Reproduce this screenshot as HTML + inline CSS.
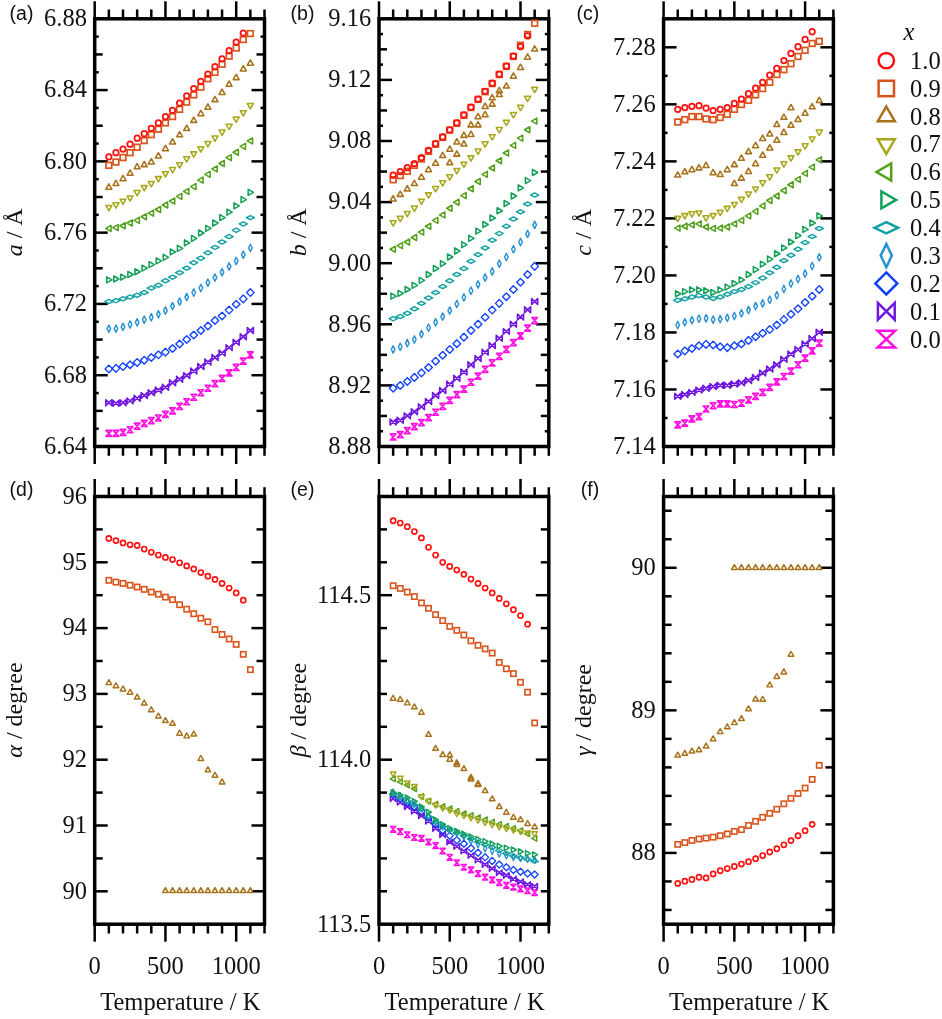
<!DOCTYPE html>
<html><head><meta charset="utf-8"><style>
html,body{margin:0;padding:0;background:#fff;overflow:hidden;}
svg{display:block;filter:blur(0.35px);}
.tk{stroke:#000;stroke-width:2.5;}
.fr{fill:none;stroke:#000;stroke-width:3.5;}
.tl{font-family:"Liberation Serif",serif;font-size:24.5px;fill:#111;}
.at{font-family:"Liberation Serif",serif;font-size:24.5px;fill:#111;}
.pl{font-family:"Liberation Sans",sans-serif;font-size:19.5px;fill:#111;}
</style></head><body>
<svg width="942" height="1019" viewBox="0 0 942 1019">
<line x1="94.70" y1="375.22" x2="107.70" y2="375.22" class="tk"/>
<line x1="264.50" y1="375.22" x2="251.50" y2="375.22" class="tk"/>
<line x1="94.70" y1="303.93" x2="107.70" y2="303.93" class="tk"/>
<line x1="264.50" y1="303.93" x2="251.50" y2="303.93" class="tk"/>
<line x1="94.70" y1="232.65" x2="107.70" y2="232.65" class="tk"/>
<line x1="264.50" y1="232.65" x2="251.50" y2="232.65" class="tk"/>
<line x1="94.70" y1="161.37" x2="107.70" y2="161.37" class="tk"/>
<line x1="264.50" y1="161.37" x2="251.50" y2="161.37" class="tk"/>
<line x1="94.70" y1="90.08" x2="107.70" y2="90.08" class="tk"/>
<line x1="264.50" y1="90.08" x2="251.50" y2="90.08" class="tk"/>
<line x1="94.70" y1="410.86" x2="102.70" y2="410.86" class="tk"/>
<line x1="264.50" y1="410.86" x2="256.50" y2="410.86" class="tk"/>
<line x1="94.70" y1="339.57" x2="102.70" y2="339.57" class="tk"/>
<line x1="264.50" y1="339.57" x2="256.50" y2="339.57" class="tk"/>
<line x1="94.70" y1="268.29" x2="102.70" y2="268.29" class="tk"/>
<line x1="264.50" y1="268.29" x2="256.50" y2="268.29" class="tk"/>
<line x1="94.70" y1="197.01" x2="102.70" y2="197.01" class="tk"/>
<line x1="264.50" y1="197.01" x2="256.50" y2="197.01" class="tk"/>
<line x1="94.70" y1="125.72" x2="102.70" y2="125.72" class="tk"/>
<line x1="264.50" y1="125.72" x2="256.50" y2="125.72" class="tk"/>
<line x1="94.70" y1="54.44" x2="102.70" y2="54.44" class="tk"/>
<line x1="264.50" y1="54.44" x2="256.50" y2="54.44" class="tk"/>
<line x1="94.70" y1="428.68" x2="98.70" y2="428.68" class="tk"/>
<line x1="264.50" y1="428.68" x2="260.50" y2="428.68" class="tk"/>
<line x1="94.70" y1="393.04" x2="98.70" y2="393.04" class="tk"/>
<line x1="264.50" y1="393.04" x2="260.50" y2="393.04" class="tk"/>
<line x1="94.70" y1="357.40" x2="98.70" y2="357.40" class="tk"/>
<line x1="264.50" y1="357.40" x2="260.50" y2="357.40" class="tk"/>
<line x1="94.70" y1="321.75" x2="98.70" y2="321.75" class="tk"/>
<line x1="264.50" y1="321.75" x2="260.50" y2="321.75" class="tk"/>
<line x1="94.70" y1="286.11" x2="98.70" y2="286.11" class="tk"/>
<line x1="264.50" y1="286.11" x2="260.50" y2="286.11" class="tk"/>
<line x1="94.70" y1="250.47" x2="98.70" y2="250.47" class="tk"/>
<line x1="264.50" y1="250.47" x2="260.50" y2="250.47" class="tk"/>
<line x1="94.70" y1="214.83" x2="98.70" y2="214.83" class="tk"/>
<line x1="264.50" y1="214.83" x2="260.50" y2="214.83" class="tk"/>
<line x1="94.70" y1="179.19" x2="98.70" y2="179.19" class="tk"/>
<line x1="264.50" y1="179.19" x2="260.50" y2="179.19" class="tk"/>
<line x1="94.70" y1="143.55" x2="98.70" y2="143.55" class="tk"/>
<line x1="264.50" y1="143.55" x2="260.50" y2="143.55" class="tk"/>
<line x1="94.70" y1="107.90" x2="98.70" y2="107.90" class="tk"/>
<line x1="264.50" y1="107.90" x2="260.50" y2="107.90" class="tk"/>
<line x1="94.70" y1="72.26" x2="98.70" y2="72.26" class="tk"/>
<line x1="264.50" y1="72.26" x2="260.50" y2="72.26" class="tk"/>
<line x1="94.70" y1="36.62" x2="98.70" y2="36.62" class="tk"/>
<line x1="264.50" y1="36.62" x2="260.50" y2="36.62" class="tk"/>
<line x1="94.70" y1="18.80" x2="94.70" y2="1.30" class="tk"/>
<line x1="94.70" y1="446.50" x2="94.70" y2="464.00" class="tk"/>
<line x1="108.85" y1="18.80" x2="108.85" y2="9.50" class="tk"/>
<line x1="108.85" y1="446.50" x2="108.85" y2="455.80" class="tk"/>
<line x1="123.00" y1="18.80" x2="123.00" y2="9.50" class="tk"/>
<line x1="123.00" y1="446.50" x2="123.00" y2="455.80" class="tk"/>
<line x1="137.15" y1="18.80" x2="137.15" y2="9.50" class="tk"/>
<line x1="137.15" y1="446.50" x2="137.15" y2="455.80" class="tk"/>
<line x1="151.30" y1="18.80" x2="151.30" y2="9.50" class="tk"/>
<line x1="151.30" y1="446.50" x2="151.30" y2="455.80" class="tk"/>
<line x1="165.45" y1="18.80" x2="165.45" y2="1.30" class="tk"/>
<line x1="165.45" y1="446.50" x2="165.45" y2="464.00" class="tk"/>
<line x1="179.60" y1="18.80" x2="179.60" y2="9.50" class="tk"/>
<line x1="179.60" y1="446.50" x2="179.60" y2="455.80" class="tk"/>
<line x1="193.75" y1="18.80" x2="193.75" y2="9.50" class="tk"/>
<line x1="193.75" y1="446.50" x2="193.75" y2="455.80" class="tk"/>
<line x1="207.90" y1="18.80" x2="207.90" y2="9.50" class="tk"/>
<line x1="207.90" y1="446.50" x2="207.90" y2="455.80" class="tk"/>
<line x1="222.05" y1="18.80" x2="222.05" y2="9.50" class="tk"/>
<line x1="222.05" y1="446.50" x2="222.05" y2="455.80" class="tk"/>
<line x1="236.20" y1="18.80" x2="236.20" y2="1.30" class="tk"/>
<line x1="236.20" y1="446.50" x2="236.20" y2="464.00" class="tk"/>
<line x1="250.35" y1="18.80" x2="250.35" y2="9.50" class="tk"/>
<line x1="250.35" y1="446.50" x2="250.35" y2="455.80" class="tk"/>
<line x1="264.50" y1="18.80" x2="264.50" y2="9.50" class="tk"/>
<line x1="264.50" y1="446.50" x2="264.50" y2="455.80" class="tk"/>
<rect x="94.70" y="18.80" width="169.80" height="427.70" class="fr"/>
<text x="86.90" y="453.80" class="tl" text-anchor="end">6.64</text>
<text x="86.90" y="382.52" class="tl" text-anchor="end">6.68</text>
<text x="86.90" y="311.23" class="tl" text-anchor="end">6.72</text>
<text x="86.90" y="239.95" class="tl" text-anchor="end">6.76</text>
<text x="86.90" y="168.67" class="tl" text-anchor="end">6.80</text>
<text x="86.90" y="97.38" class="tl" text-anchor="end">6.84</text>
<text x="86.90" y="26.10" class="tl" text-anchor="end">6.88</text>
<line x1="379.00" y1="385.40" x2="392.00" y2="385.40" class="tk"/>
<line x1="548.80" y1="385.40" x2="535.80" y2="385.40" class="tk"/>
<line x1="379.00" y1="324.30" x2="392.00" y2="324.30" class="tk"/>
<line x1="548.80" y1="324.30" x2="535.80" y2="324.30" class="tk"/>
<line x1="379.00" y1="263.20" x2="392.00" y2="263.20" class="tk"/>
<line x1="548.80" y1="263.20" x2="535.80" y2="263.20" class="tk"/>
<line x1="379.00" y1="202.10" x2="392.00" y2="202.10" class="tk"/>
<line x1="548.80" y1="202.10" x2="535.80" y2="202.10" class="tk"/>
<line x1="379.00" y1="141.00" x2="392.00" y2="141.00" class="tk"/>
<line x1="548.80" y1="141.00" x2="535.80" y2="141.00" class="tk"/>
<line x1="379.00" y1="79.90" x2="392.00" y2="79.90" class="tk"/>
<line x1="548.80" y1="79.90" x2="535.80" y2="79.90" class="tk"/>
<line x1="379.00" y1="415.95" x2="387.00" y2="415.95" class="tk"/>
<line x1="548.80" y1="415.95" x2="540.80" y2="415.95" class="tk"/>
<line x1="379.00" y1="354.85" x2="387.00" y2="354.85" class="tk"/>
<line x1="548.80" y1="354.85" x2="540.80" y2="354.85" class="tk"/>
<line x1="379.00" y1="293.75" x2="387.00" y2="293.75" class="tk"/>
<line x1="548.80" y1="293.75" x2="540.80" y2="293.75" class="tk"/>
<line x1="379.00" y1="232.65" x2="387.00" y2="232.65" class="tk"/>
<line x1="548.80" y1="232.65" x2="540.80" y2="232.65" class="tk"/>
<line x1="379.00" y1="171.55" x2="387.00" y2="171.55" class="tk"/>
<line x1="548.80" y1="171.55" x2="540.80" y2="171.55" class="tk"/>
<line x1="379.00" y1="110.45" x2="387.00" y2="110.45" class="tk"/>
<line x1="548.80" y1="110.45" x2="540.80" y2="110.45" class="tk"/>
<line x1="379.00" y1="49.35" x2="387.00" y2="49.35" class="tk"/>
<line x1="548.80" y1="49.35" x2="540.80" y2="49.35" class="tk"/>
<line x1="379.00" y1="431.23" x2="383.00" y2="431.23" class="tk"/>
<line x1="548.80" y1="431.23" x2="544.80" y2="431.23" class="tk"/>
<line x1="379.00" y1="400.68" x2="383.00" y2="400.68" class="tk"/>
<line x1="548.80" y1="400.68" x2="544.80" y2="400.68" class="tk"/>
<line x1="379.00" y1="370.13" x2="383.00" y2="370.13" class="tk"/>
<line x1="548.80" y1="370.13" x2="544.80" y2="370.13" class="tk"/>
<line x1="379.00" y1="339.58" x2="383.00" y2="339.58" class="tk"/>
<line x1="548.80" y1="339.58" x2="544.80" y2="339.58" class="tk"/>
<line x1="379.00" y1="309.02" x2="383.00" y2="309.02" class="tk"/>
<line x1="548.80" y1="309.02" x2="544.80" y2="309.02" class="tk"/>
<line x1="379.00" y1="278.48" x2="383.00" y2="278.48" class="tk"/>
<line x1="548.80" y1="278.48" x2="544.80" y2="278.48" class="tk"/>
<line x1="379.00" y1="247.93" x2="383.00" y2="247.93" class="tk"/>
<line x1="548.80" y1="247.93" x2="544.80" y2="247.93" class="tk"/>
<line x1="379.00" y1="217.38" x2="383.00" y2="217.38" class="tk"/>
<line x1="548.80" y1="217.38" x2="544.80" y2="217.38" class="tk"/>
<line x1="379.00" y1="186.82" x2="383.00" y2="186.82" class="tk"/>
<line x1="548.80" y1="186.82" x2="544.80" y2="186.82" class="tk"/>
<line x1="379.00" y1="156.28" x2="383.00" y2="156.28" class="tk"/>
<line x1="548.80" y1="156.28" x2="544.80" y2="156.28" class="tk"/>
<line x1="379.00" y1="125.73" x2="383.00" y2="125.73" class="tk"/>
<line x1="548.80" y1="125.73" x2="544.80" y2="125.73" class="tk"/>
<line x1="379.00" y1="95.18" x2="383.00" y2="95.18" class="tk"/>
<line x1="548.80" y1="95.18" x2="544.80" y2="95.18" class="tk"/>
<line x1="379.00" y1="64.62" x2="383.00" y2="64.62" class="tk"/>
<line x1="548.80" y1="64.62" x2="544.80" y2="64.62" class="tk"/>
<line x1="379.00" y1="34.07" x2="383.00" y2="34.07" class="tk"/>
<line x1="548.80" y1="34.07" x2="544.80" y2="34.07" class="tk"/>
<line x1="379.00" y1="18.80" x2="379.00" y2="1.30" class="tk"/>
<line x1="379.00" y1="446.50" x2="379.00" y2="464.00" class="tk"/>
<line x1="393.15" y1="18.80" x2="393.15" y2="9.50" class="tk"/>
<line x1="393.15" y1="446.50" x2="393.15" y2="455.80" class="tk"/>
<line x1="407.30" y1="18.80" x2="407.30" y2="9.50" class="tk"/>
<line x1="407.30" y1="446.50" x2="407.30" y2="455.80" class="tk"/>
<line x1="421.45" y1="18.80" x2="421.45" y2="9.50" class="tk"/>
<line x1="421.45" y1="446.50" x2="421.45" y2="455.80" class="tk"/>
<line x1="435.60" y1="18.80" x2="435.60" y2="9.50" class="tk"/>
<line x1="435.60" y1="446.50" x2="435.60" y2="455.80" class="tk"/>
<line x1="449.75" y1="18.80" x2="449.75" y2="1.30" class="tk"/>
<line x1="449.75" y1="446.50" x2="449.75" y2="464.00" class="tk"/>
<line x1="463.90" y1="18.80" x2="463.90" y2="9.50" class="tk"/>
<line x1="463.90" y1="446.50" x2="463.90" y2="455.80" class="tk"/>
<line x1="478.05" y1="18.80" x2="478.05" y2="9.50" class="tk"/>
<line x1="478.05" y1="446.50" x2="478.05" y2="455.80" class="tk"/>
<line x1="492.20" y1="18.80" x2="492.20" y2="9.50" class="tk"/>
<line x1="492.20" y1="446.50" x2="492.20" y2="455.80" class="tk"/>
<line x1="506.35" y1="18.80" x2="506.35" y2="9.50" class="tk"/>
<line x1="506.35" y1="446.50" x2="506.35" y2="455.80" class="tk"/>
<line x1="520.50" y1="18.80" x2="520.50" y2="1.30" class="tk"/>
<line x1="520.50" y1="446.50" x2="520.50" y2="464.00" class="tk"/>
<line x1="534.65" y1="18.80" x2="534.65" y2="9.50" class="tk"/>
<line x1="534.65" y1="446.50" x2="534.65" y2="455.80" class="tk"/>
<line x1="548.80" y1="18.80" x2="548.80" y2="9.50" class="tk"/>
<line x1="548.80" y1="446.50" x2="548.80" y2="455.80" class="tk"/>
<rect x="379.00" y="18.80" width="169.80" height="427.70" class="fr"/>
<text x="371.20" y="453.80" class="tl" text-anchor="end">8.88</text>
<text x="371.20" y="392.70" class="tl" text-anchor="end">8.92</text>
<text x="371.20" y="331.60" class="tl" text-anchor="end">8.96</text>
<text x="371.20" y="270.50" class="tl" text-anchor="end">9.00</text>
<text x="371.20" y="209.40" class="tl" text-anchor="end">9.04</text>
<text x="371.20" y="148.30" class="tl" text-anchor="end">9.08</text>
<text x="371.20" y="87.20" class="tl" text-anchor="end">9.12</text>
<text x="371.20" y="26.10" class="tl" text-anchor="end">9.16</text>
<line x1="663.60" y1="389.47" x2="676.60" y2="389.47" class="tk"/>
<line x1="833.40" y1="389.47" x2="820.40" y2="389.47" class="tk"/>
<line x1="663.60" y1="332.45" x2="676.60" y2="332.45" class="tk"/>
<line x1="833.40" y1="332.45" x2="820.40" y2="332.45" class="tk"/>
<line x1="663.60" y1="275.42" x2="676.60" y2="275.42" class="tk"/>
<line x1="833.40" y1="275.42" x2="820.40" y2="275.42" class="tk"/>
<line x1="663.60" y1="218.39" x2="676.60" y2="218.39" class="tk"/>
<line x1="833.40" y1="218.39" x2="820.40" y2="218.39" class="tk"/>
<line x1="663.60" y1="161.37" x2="676.60" y2="161.37" class="tk"/>
<line x1="833.40" y1="161.37" x2="820.40" y2="161.37" class="tk"/>
<line x1="663.60" y1="104.34" x2="676.60" y2="104.34" class="tk"/>
<line x1="833.40" y1="104.34" x2="820.40" y2="104.34" class="tk"/>
<line x1="663.60" y1="47.31" x2="676.60" y2="47.31" class="tk"/>
<line x1="833.40" y1="47.31" x2="820.40" y2="47.31" class="tk"/>
<line x1="663.60" y1="417.99" x2="667.60" y2="417.99" class="tk"/>
<line x1="833.40" y1="417.99" x2="829.40" y2="417.99" class="tk"/>
<line x1="663.60" y1="360.96" x2="667.60" y2="360.96" class="tk"/>
<line x1="833.40" y1="360.96" x2="829.40" y2="360.96" class="tk"/>
<line x1="663.60" y1="303.93" x2="667.60" y2="303.93" class="tk"/>
<line x1="833.40" y1="303.93" x2="829.40" y2="303.93" class="tk"/>
<line x1="663.60" y1="246.91" x2="667.60" y2="246.91" class="tk"/>
<line x1="833.40" y1="246.91" x2="829.40" y2="246.91" class="tk"/>
<line x1="663.60" y1="189.88" x2="667.60" y2="189.88" class="tk"/>
<line x1="833.40" y1="189.88" x2="829.40" y2="189.88" class="tk"/>
<line x1="663.60" y1="132.85" x2="667.60" y2="132.85" class="tk"/>
<line x1="833.40" y1="132.85" x2="829.40" y2="132.85" class="tk"/>
<line x1="663.60" y1="75.83" x2="667.60" y2="75.83" class="tk"/>
<line x1="833.40" y1="75.83" x2="829.40" y2="75.83" class="tk"/>
<line x1="663.60" y1="18.80" x2="663.60" y2="1.30" class="tk"/>
<line x1="663.60" y1="446.50" x2="663.60" y2="464.00" class="tk"/>
<line x1="677.75" y1="18.80" x2="677.75" y2="9.50" class="tk"/>
<line x1="677.75" y1="446.50" x2="677.75" y2="455.80" class="tk"/>
<line x1="691.90" y1="18.80" x2="691.90" y2="9.50" class="tk"/>
<line x1="691.90" y1="446.50" x2="691.90" y2="455.80" class="tk"/>
<line x1="706.05" y1="18.80" x2="706.05" y2="9.50" class="tk"/>
<line x1="706.05" y1="446.50" x2="706.05" y2="455.80" class="tk"/>
<line x1="720.20" y1="18.80" x2="720.20" y2="9.50" class="tk"/>
<line x1="720.20" y1="446.50" x2="720.20" y2="455.80" class="tk"/>
<line x1="734.35" y1="18.80" x2="734.35" y2="1.30" class="tk"/>
<line x1="734.35" y1="446.50" x2="734.35" y2="464.00" class="tk"/>
<line x1="748.50" y1="18.80" x2="748.50" y2="9.50" class="tk"/>
<line x1="748.50" y1="446.50" x2="748.50" y2="455.80" class="tk"/>
<line x1="762.65" y1="18.80" x2="762.65" y2="9.50" class="tk"/>
<line x1="762.65" y1="446.50" x2="762.65" y2="455.80" class="tk"/>
<line x1="776.80" y1="18.80" x2="776.80" y2="9.50" class="tk"/>
<line x1="776.80" y1="446.50" x2="776.80" y2="455.80" class="tk"/>
<line x1="790.95" y1="18.80" x2="790.95" y2="9.50" class="tk"/>
<line x1="790.95" y1="446.50" x2="790.95" y2="455.80" class="tk"/>
<line x1="805.10" y1="18.80" x2="805.10" y2="1.30" class="tk"/>
<line x1="805.10" y1="446.50" x2="805.10" y2="464.00" class="tk"/>
<line x1="819.25" y1="18.80" x2="819.25" y2="9.50" class="tk"/>
<line x1="819.25" y1="446.50" x2="819.25" y2="455.80" class="tk"/>
<line x1="833.40" y1="18.80" x2="833.40" y2="9.50" class="tk"/>
<line x1="833.40" y1="446.50" x2="833.40" y2="455.80" class="tk"/>
<rect x="663.60" y="18.80" width="169.80" height="427.70" class="fr"/>
<text x="655.80" y="453.80" class="tl" text-anchor="end">7.14</text>
<text x="655.80" y="396.77" class="tl" text-anchor="end">7.16</text>
<text x="655.80" y="339.75" class="tl" text-anchor="end">7.18</text>
<text x="655.80" y="282.72" class="tl" text-anchor="end">7.20</text>
<text x="655.80" y="225.69" class="tl" text-anchor="end">7.22</text>
<text x="655.80" y="168.67" class="tl" text-anchor="end">7.24</text>
<text x="655.80" y="111.64" class="tl" text-anchor="end">7.26</text>
<text x="655.80" y="54.61" class="tl" text-anchor="end">7.28</text>
<line x1="94.70" y1="891.30" x2="107.70" y2="891.30" class="tk"/>
<line x1="264.50" y1="891.30" x2="251.50" y2="891.30" class="tk"/>
<line x1="94.70" y1="825.50" x2="107.70" y2="825.50" class="tk"/>
<line x1="264.50" y1="825.50" x2="251.50" y2="825.50" class="tk"/>
<line x1="94.70" y1="759.70" x2="107.70" y2="759.70" class="tk"/>
<line x1="264.50" y1="759.70" x2="251.50" y2="759.70" class="tk"/>
<line x1="94.70" y1="693.90" x2="107.70" y2="693.90" class="tk"/>
<line x1="264.50" y1="693.90" x2="251.50" y2="693.90" class="tk"/>
<line x1="94.70" y1="628.10" x2="107.70" y2="628.10" class="tk"/>
<line x1="264.50" y1="628.10" x2="251.50" y2="628.10" class="tk"/>
<line x1="94.70" y1="562.30" x2="107.70" y2="562.30" class="tk"/>
<line x1="264.50" y1="562.30" x2="251.50" y2="562.30" class="tk"/>
<line x1="94.70" y1="858.40" x2="102.70" y2="858.40" class="tk"/>
<line x1="264.50" y1="858.40" x2="256.50" y2="858.40" class="tk"/>
<line x1="94.70" y1="792.60" x2="102.70" y2="792.60" class="tk"/>
<line x1="264.50" y1="792.60" x2="256.50" y2="792.60" class="tk"/>
<line x1="94.70" y1="726.80" x2="102.70" y2="726.80" class="tk"/>
<line x1="264.50" y1="726.80" x2="256.50" y2="726.80" class="tk"/>
<line x1="94.70" y1="661.00" x2="102.70" y2="661.00" class="tk"/>
<line x1="264.50" y1="661.00" x2="256.50" y2="661.00" class="tk"/>
<line x1="94.70" y1="595.20" x2="102.70" y2="595.20" class="tk"/>
<line x1="264.50" y1="595.20" x2="256.50" y2="595.20" class="tk"/>
<line x1="94.70" y1="529.40" x2="102.70" y2="529.40" class="tk"/>
<line x1="264.50" y1="529.40" x2="256.50" y2="529.40" class="tk"/>
<line x1="94.70" y1="496.50" x2="94.70" y2="479.00" class="tk"/>
<line x1="94.70" y1="924.20" x2="94.70" y2="941.70" class="tk"/>
<line x1="108.85" y1="496.50" x2="108.85" y2="487.20" class="tk"/>
<line x1="108.85" y1="924.20" x2="108.85" y2="933.50" class="tk"/>
<line x1="123.00" y1="496.50" x2="123.00" y2="487.20" class="tk"/>
<line x1="123.00" y1="924.20" x2="123.00" y2="933.50" class="tk"/>
<line x1="137.15" y1="496.50" x2="137.15" y2="487.20" class="tk"/>
<line x1="137.15" y1="924.20" x2="137.15" y2="933.50" class="tk"/>
<line x1="151.30" y1="496.50" x2="151.30" y2="487.20" class="tk"/>
<line x1="151.30" y1="924.20" x2="151.30" y2="933.50" class="tk"/>
<line x1="165.45" y1="496.50" x2="165.45" y2="479.00" class="tk"/>
<line x1="165.45" y1="924.20" x2="165.45" y2="941.70" class="tk"/>
<line x1="179.60" y1="496.50" x2="179.60" y2="487.20" class="tk"/>
<line x1="179.60" y1="924.20" x2="179.60" y2="933.50" class="tk"/>
<line x1="193.75" y1="496.50" x2="193.75" y2="487.20" class="tk"/>
<line x1="193.75" y1="924.20" x2="193.75" y2="933.50" class="tk"/>
<line x1="207.90" y1="496.50" x2="207.90" y2="487.20" class="tk"/>
<line x1="207.90" y1="924.20" x2="207.90" y2="933.50" class="tk"/>
<line x1="222.05" y1="496.50" x2="222.05" y2="487.20" class="tk"/>
<line x1="222.05" y1="924.20" x2="222.05" y2="933.50" class="tk"/>
<line x1="236.20" y1="496.50" x2="236.20" y2="479.00" class="tk"/>
<line x1="236.20" y1="924.20" x2="236.20" y2="941.70" class="tk"/>
<line x1="250.35" y1="496.50" x2="250.35" y2="487.20" class="tk"/>
<line x1="250.35" y1="924.20" x2="250.35" y2="933.50" class="tk"/>
<line x1="264.50" y1="496.50" x2="264.50" y2="487.20" class="tk"/>
<line x1="264.50" y1="924.20" x2="264.50" y2="933.50" class="tk"/>
<rect x="94.70" y="496.50" width="169.80" height="427.70" class="fr"/>
<text x="86.90" y="898.60" class="tl" text-anchor="end">90</text>
<text x="86.90" y="832.80" class="tl" text-anchor="end">91</text>
<text x="86.90" y="767.00" class="tl" text-anchor="end">92</text>
<text x="86.90" y="701.20" class="tl" text-anchor="end">93</text>
<text x="86.90" y="635.40" class="tl" text-anchor="end">94</text>
<text x="86.90" y="569.60" class="tl" text-anchor="end">95</text>
<text x="86.90" y="503.80" class="tl" text-anchor="end">96</text>
<line x1="379.00" y1="759.70" x2="392.00" y2="759.70" class="tk"/>
<line x1="548.80" y1="759.70" x2="535.80" y2="759.70" class="tk"/>
<line x1="379.00" y1="595.20" x2="392.00" y2="595.20" class="tk"/>
<line x1="548.80" y1="595.20" x2="535.80" y2="595.20" class="tk"/>
<line x1="379.00" y1="891.30" x2="387.00" y2="891.30" class="tk"/>
<line x1="548.80" y1="891.30" x2="540.80" y2="891.30" class="tk"/>
<line x1="379.00" y1="858.40" x2="387.00" y2="858.40" class="tk"/>
<line x1="548.80" y1="858.40" x2="540.80" y2="858.40" class="tk"/>
<line x1="379.00" y1="825.50" x2="387.00" y2="825.50" class="tk"/>
<line x1="548.80" y1="825.50" x2="540.80" y2="825.50" class="tk"/>
<line x1="379.00" y1="792.60" x2="387.00" y2="792.60" class="tk"/>
<line x1="548.80" y1="792.60" x2="540.80" y2="792.60" class="tk"/>
<line x1="379.00" y1="726.80" x2="387.00" y2="726.80" class="tk"/>
<line x1="548.80" y1="726.80" x2="540.80" y2="726.80" class="tk"/>
<line x1="379.00" y1="693.90" x2="387.00" y2="693.90" class="tk"/>
<line x1="548.80" y1="693.90" x2="540.80" y2="693.90" class="tk"/>
<line x1="379.00" y1="661.00" x2="387.00" y2="661.00" class="tk"/>
<line x1="548.80" y1="661.00" x2="540.80" y2="661.00" class="tk"/>
<line x1="379.00" y1="628.10" x2="387.00" y2="628.10" class="tk"/>
<line x1="548.80" y1="628.10" x2="540.80" y2="628.10" class="tk"/>
<line x1="379.00" y1="562.30" x2="387.00" y2="562.30" class="tk"/>
<line x1="548.80" y1="562.30" x2="540.80" y2="562.30" class="tk"/>
<line x1="379.00" y1="529.40" x2="387.00" y2="529.40" class="tk"/>
<line x1="548.80" y1="529.40" x2="540.80" y2="529.40" class="tk"/>
<line x1="379.00" y1="496.50" x2="379.00" y2="479.00" class="tk"/>
<line x1="379.00" y1="924.20" x2="379.00" y2="941.70" class="tk"/>
<line x1="393.15" y1="496.50" x2="393.15" y2="487.20" class="tk"/>
<line x1="393.15" y1="924.20" x2="393.15" y2="933.50" class="tk"/>
<line x1="407.30" y1="496.50" x2="407.30" y2="487.20" class="tk"/>
<line x1="407.30" y1="924.20" x2="407.30" y2="933.50" class="tk"/>
<line x1="421.45" y1="496.50" x2="421.45" y2="487.20" class="tk"/>
<line x1="421.45" y1="924.20" x2="421.45" y2="933.50" class="tk"/>
<line x1="435.60" y1="496.50" x2="435.60" y2="487.20" class="tk"/>
<line x1="435.60" y1="924.20" x2="435.60" y2="933.50" class="tk"/>
<line x1="449.75" y1="496.50" x2="449.75" y2="479.00" class="tk"/>
<line x1="449.75" y1="924.20" x2="449.75" y2="941.70" class="tk"/>
<line x1="463.90" y1="496.50" x2="463.90" y2="487.20" class="tk"/>
<line x1="463.90" y1="924.20" x2="463.90" y2="933.50" class="tk"/>
<line x1="478.05" y1="496.50" x2="478.05" y2="487.20" class="tk"/>
<line x1="478.05" y1="924.20" x2="478.05" y2="933.50" class="tk"/>
<line x1="492.20" y1="496.50" x2="492.20" y2="487.20" class="tk"/>
<line x1="492.20" y1="924.20" x2="492.20" y2="933.50" class="tk"/>
<line x1="506.35" y1="496.50" x2="506.35" y2="487.20" class="tk"/>
<line x1="506.35" y1="924.20" x2="506.35" y2="933.50" class="tk"/>
<line x1="520.50" y1="496.50" x2="520.50" y2="479.00" class="tk"/>
<line x1="520.50" y1="924.20" x2="520.50" y2="941.70" class="tk"/>
<line x1="534.65" y1="496.50" x2="534.65" y2="487.20" class="tk"/>
<line x1="534.65" y1="924.20" x2="534.65" y2="933.50" class="tk"/>
<line x1="548.80" y1="496.50" x2="548.80" y2="487.20" class="tk"/>
<line x1="548.80" y1="924.20" x2="548.80" y2="933.50" class="tk"/>
<rect x="379.00" y="496.50" width="169.80" height="427.70" class="fr"/>
<text x="371.20" y="931.50" class="tl" text-anchor="end">113.5</text>
<text x="371.20" y="767.00" class="tl" text-anchor="end">114.0</text>
<text x="371.20" y="602.50" class="tl" text-anchor="end">114.5</text>
<line x1="663.60" y1="852.92" x2="676.60" y2="852.92" class="tk"/>
<line x1="833.40" y1="852.92" x2="820.40" y2="852.92" class="tk"/>
<line x1="663.60" y1="710.35" x2="676.60" y2="710.35" class="tk"/>
<line x1="833.40" y1="710.35" x2="820.40" y2="710.35" class="tk"/>
<line x1="663.60" y1="567.78" x2="676.60" y2="567.78" class="tk"/>
<line x1="833.40" y1="567.78" x2="820.40" y2="567.78" class="tk"/>
<line x1="663.60" y1="909.94" x2="671.60" y2="909.94" class="tk"/>
<line x1="833.40" y1="909.94" x2="825.40" y2="909.94" class="tk"/>
<line x1="663.60" y1="881.43" x2="671.60" y2="881.43" class="tk"/>
<line x1="833.40" y1="881.43" x2="825.40" y2="881.43" class="tk"/>
<line x1="663.60" y1="824.40" x2="671.60" y2="824.40" class="tk"/>
<line x1="833.40" y1="824.40" x2="825.40" y2="824.40" class="tk"/>
<line x1="663.60" y1="795.89" x2="671.60" y2="795.89" class="tk"/>
<line x1="833.40" y1="795.89" x2="825.40" y2="795.89" class="tk"/>
<line x1="663.60" y1="767.38" x2="671.60" y2="767.38" class="tk"/>
<line x1="833.40" y1="767.38" x2="825.40" y2="767.38" class="tk"/>
<line x1="663.60" y1="738.86" x2="671.60" y2="738.86" class="tk"/>
<line x1="833.40" y1="738.86" x2="825.40" y2="738.86" class="tk"/>
<line x1="663.60" y1="681.84" x2="671.60" y2="681.84" class="tk"/>
<line x1="833.40" y1="681.84" x2="825.40" y2="681.84" class="tk"/>
<line x1="663.60" y1="653.32" x2="671.60" y2="653.32" class="tk"/>
<line x1="833.40" y1="653.32" x2="825.40" y2="653.32" class="tk"/>
<line x1="663.60" y1="624.81" x2="671.60" y2="624.81" class="tk"/>
<line x1="833.40" y1="624.81" x2="825.40" y2="624.81" class="tk"/>
<line x1="663.60" y1="596.30" x2="671.60" y2="596.30" class="tk"/>
<line x1="833.40" y1="596.30" x2="825.40" y2="596.30" class="tk"/>
<line x1="663.60" y1="539.27" x2="671.60" y2="539.27" class="tk"/>
<line x1="833.40" y1="539.27" x2="825.40" y2="539.27" class="tk"/>
<line x1="663.60" y1="510.76" x2="671.60" y2="510.76" class="tk"/>
<line x1="833.40" y1="510.76" x2="825.40" y2="510.76" class="tk"/>
<line x1="663.60" y1="496.50" x2="663.60" y2="479.00" class="tk"/>
<line x1="663.60" y1="924.20" x2="663.60" y2="941.70" class="tk"/>
<line x1="677.75" y1="496.50" x2="677.75" y2="487.20" class="tk"/>
<line x1="677.75" y1="924.20" x2="677.75" y2="933.50" class="tk"/>
<line x1="691.90" y1="496.50" x2="691.90" y2="487.20" class="tk"/>
<line x1="691.90" y1="924.20" x2="691.90" y2="933.50" class="tk"/>
<line x1="706.05" y1="496.50" x2="706.05" y2="487.20" class="tk"/>
<line x1="706.05" y1="924.20" x2="706.05" y2="933.50" class="tk"/>
<line x1="720.20" y1="496.50" x2="720.20" y2="487.20" class="tk"/>
<line x1="720.20" y1="924.20" x2="720.20" y2="933.50" class="tk"/>
<line x1="734.35" y1="496.50" x2="734.35" y2="479.00" class="tk"/>
<line x1="734.35" y1="924.20" x2="734.35" y2="941.70" class="tk"/>
<line x1="748.50" y1="496.50" x2="748.50" y2="487.20" class="tk"/>
<line x1="748.50" y1="924.20" x2="748.50" y2="933.50" class="tk"/>
<line x1="762.65" y1="496.50" x2="762.65" y2="487.20" class="tk"/>
<line x1="762.65" y1="924.20" x2="762.65" y2="933.50" class="tk"/>
<line x1="776.80" y1="496.50" x2="776.80" y2="487.20" class="tk"/>
<line x1="776.80" y1="924.20" x2="776.80" y2="933.50" class="tk"/>
<line x1="790.95" y1="496.50" x2="790.95" y2="487.20" class="tk"/>
<line x1="790.95" y1="924.20" x2="790.95" y2="933.50" class="tk"/>
<line x1="805.10" y1="496.50" x2="805.10" y2="479.00" class="tk"/>
<line x1="805.10" y1="924.20" x2="805.10" y2="941.70" class="tk"/>
<line x1="819.25" y1="496.50" x2="819.25" y2="487.20" class="tk"/>
<line x1="819.25" y1="924.20" x2="819.25" y2="933.50" class="tk"/>
<line x1="833.40" y1="496.50" x2="833.40" y2="487.20" class="tk"/>
<line x1="833.40" y1="924.20" x2="833.40" y2="933.50" class="tk"/>
<rect x="663.60" y="496.50" width="169.80" height="427.70" class="fr"/>
<text x="655.80" y="860.22" class="tl" text-anchor="end">88</text>
<text x="655.80" y="717.65" class="tl" text-anchor="end">89</text>
<text x="655.80" y="575.08" class="tl" text-anchor="end">90</text>
<polygon points="106.05,430.36 111.65,430.36 106.05,436.36 111.65,436.36" fill="none" stroke="#ff10e0" stroke-width="1.70" stroke-linejoin="round"/>
<polygon points="113.13,430.36 118.73,430.36 113.13,436.36 118.73,436.36" fill="none" stroke="#ff10e0" stroke-width="1.70" stroke-linejoin="round"/>
<polygon points="120.20,429.45 125.80,429.45 120.20,435.45 125.80,435.45" fill="none" stroke="#ff10e0" stroke-width="1.70" stroke-linejoin="round"/>
<polygon points="127.27,426.75 132.88,426.75 127.27,432.75 132.88,432.75" fill="none" stroke="#ff10e0" stroke-width="1.70" stroke-linejoin="round"/>
<polygon points="134.35,423.14 139.95,423.14 134.35,429.14 139.95,429.14" fill="none" stroke="#ff10e0" stroke-width="1.70" stroke-linejoin="round"/>
<polygon points="141.43,420.43 147.03,420.43 141.43,426.43 147.03,426.43" fill="none" stroke="#ff10e0" stroke-width="1.70" stroke-linejoin="round"/>
<polygon points="148.50,417.72 154.10,417.72 148.50,423.72 154.10,423.72" fill="none" stroke="#ff10e0" stroke-width="1.70" stroke-linejoin="round"/>
<polygon points="155.57,415.01 161.18,415.01 155.57,421.01 161.18,421.01" fill="none" stroke="#ff10e0" stroke-width="1.70" stroke-linejoin="round"/>
<polygon points="162.65,411.40 168.25,411.40 162.65,417.40 168.25,417.40" fill="none" stroke="#ff10e0" stroke-width="1.70" stroke-linejoin="round"/>
<polygon points="169.72,407.79 175.33,407.79 169.72,413.79 175.33,413.79" fill="none" stroke="#ff10e0" stroke-width="1.70" stroke-linejoin="round"/>
<polygon points="176.80,403.28 182.40,403.28 176.80,409.28 182.40,409.28" fill="none" stroke="#ff10e0" stroke-width="1.70" stroke-linejoin="round"/>
<polygon points="183.88,398.77 189.48,398.77 183.88,404.77 189.48,404.77" fill="none" stroke="#ff10e0" stroke-width="1.70" stroke-linejoin="round"/>
<polygon points="190.95,394.26 196.55,394.26 190.95,400.26 196.55,400.26" fill="none" stroke="#ff10e0" stroke-width="1.70" stroke-linejoin="round"/>
<polygon points="198.03,389.74 203.63,389.74 198.03,395.74 203.63,395.74" fill="none" stroke="#ff10e0" stroke-width="1.70" stroke-linejoin="round"/>
<polygon points="205.10,385.23 210.70,385.23 205.10,391.23 210.70,391.23" fill="none" stroke="#ff10e0" stroke-width="1.70" stroke-linejoin="round"/>
<polygon points="212.18,380.72 217.78,380.72 212.18,386.72 217.78,386.72" fill="none" stroke="#ff10e0" stroke-width="1.70" stroke-linejoin="round"/>
<polygon points="219.25,375.30 224.85,375.30 219.25,381.30 224.85,381.30" fill="none" stroke="#ff10e0" stroke-width="1.70" stroke-linejoin="round"/>
<polygon points="226.32,369.89 231.93,369.89 226.32,375.89 231.93,375.89" fill="none" stroke="#ff10e0" stroke-width="1.70" stroke-linejoin="round"/>
<polygon points="233.40,364.47 239.00,364.47 233.40,370.47 239.00,370.47" fill="none" stroke="#ff10e0" stroke-width="1.70" stroke-linejoin="round"/>
<polygon points="240.47,358.16 246.07,358.16 240.47,364.16 246.07,364.16" fill="none" stroke="#ff10e0" stroke-width="1.70" stroke-linejoin="round"/>
<polygon points="247.55,351.84 253.15,351.84 247.55,357.84 253.15,357.84" fill="none" stroke="#ff10e0" stroke-width="1.70" stroke-linejoin="round"/>
<polygon points="105.85,399.77 111.85,405.57 111.85,399.77 105.85,405.57" fill="none" stroke="#7018e0" stroke-width="1.65" stroke-linejoin="round"/>
<polygon points="112.93,400.31 118.93,406.11 118.93,400.31 112.93,406.11" fill="none" stroke="#7018e0" stroke-width="1.65" stroke-linejoin="round"/>
<polygon points="120.00,399.77 126.00,405.57 126.00,399.77 120.00,405.57" fill="none" stroke="#7018e0" stroke-width="1.65" stroke-linejoin="round"/>
<polygon points="127.07,397.97 133.07,403.77 133.07,397.97 127.07,403.77" fill="none" stroke="#7018e0" stroke-width="1.65" stroke-linejoin="round"/>
<polygon points="134.15,395.26 140.15,401.06 140.15,395.26 134.15,401.06" fill="none" stroke="#7018e0" stroke-width="1.65" stroke-linejoin="round"/>
<polygon points="141.23,392.55 147.23,398.35 147.23,392.55 141.23,398.35" fill="none" stroke="#7018e0" stroke-width="1.65" stroke-linejoin="round"/>
<polygon points="148.30,389.84 154.30,395.64 154.30,389.84 148.30,395.64" fill="none" stroke="#7018e0" stroke-width="1.65" stroke-linejoin="round"/>
<polygon points="155.38,387.14 161.38,392.94 161.38,387.14 155.38,392.94" fill="none" stroke="#7018e0" stroke-width="1.65" stroke-linejoin="round"/>
<polygon points="162.45,384.43 168.45,390.23 168.45,384.43 162.45,390.23" fill="none" stroke="#7018e0" stroke-width="1.65" stroke-linejoin="round"/>
<polygon points="169.53,379.92 175.53,385.72 175.53,379.92 169.53,385.72" fill="none" stroke="#7018e0" stroke-width="1.65" stroke-linejoin="round"/>
<polygon points="176.60,376.31 182.60,382.11 182.60,376.31 176.60,382.11" fill="none" stroke="#7018e0" stroke-width="1.65" stroke-linejoin="round"/>
<polygon points="183.68,372.70 189.68,378.50 189.68,372.70 183.68,378.50" fill="none" stroke="#7018e0" stroke-width="1.65" stroke-linejoin="round"/>
<polygon points="190.75,368.18 196.75,373.98 196.75,368.18 190.75,373.98" fill="none" stroke="#7018e0" stroke-width="1.65" stroke-linejoin="round"/>
<polygon points="197.83,363.67 203.83,369.47 203.83,363.67 197.83,369.47" fill="none" stroke="#7018e0" stroke-width="1.65" stroke-linejoin="round"/>
<polygon points="204.90,359.16 210.90,364.96 210.90,359.16 204.90,364.96" fill="none" stroke="#7018e0" stroke-width="1.65" stroke-linejoin="round"/>
<polygon points="211.98,354.65 217.98,360.45 217.98,354.65 211.98,360.45" fill="none" stroke="#7018e0" stroke-width="1.65" stroke-linejoin="round"/>
<polygon points="219.05,350.13 225.05,355.93 225.05,350.13 219.05,355.93" fill="none" stroke="#7018e0" stroke-width="1.65" stroke-linejoin="round"/>
<polygon points="226.12,344.72 232.12,350.52 232.12,344.72 226.12,350.52" fill="none" stroke="#7018e0" stroke-width="1.65" stroke-linejoin="round"/>
<polygon points="233.20,339.30 239.20,345.10 239.20,339.30 233.20,345.10" fill="none" stroke="#7018e0" stroke-width="1.65" stroke-linejoin="round"/>
<polygon points="240.27,333.89 246.27,339.69 246.27,333.89 240.27,339.69" fill="none" stroke="#7018e0" stroke-width="1.65" stroke-linejoin="round"/>
<polygon points="247.35,327.57 253.35,333.37 253.35,327.57 247.35,333.37" fill="none" stroke="#7018e0" stroke-width="1.65" stroke-linejoin="round"/>
<polygon points="108.85,365.12 112.65,368.92 108.85,372.72 105.05,368.92" fill="none" stroke="#1040ff" stroke-width="1.35" stroke-linejoin="round"/>
<polygon points="115.93,364.58 119.73,368.38 115.93,372.18 112.13,368.38" fill="none" stroke="#1040ff" stroke-width="1.35" stroke-linejoin="round"/>
<polygon points="123.00,362.77 126.80,366.57 123.00,370.37 119.20,366.57" fill="none" stroke="#1040ff" stroke-width="1.35" stroke-linejoin="round"/>
<polygon points="130.07,360.97 133.88,364.77 130.07,368.57 126.27,364.77" fill="none" stroke="#1040ff" stroke-width="1.35" stroke-linejoin="round"/>
<polygon points="137.15,358.62 140.95,362.42 137.15,366.22 133.35,362.42" fill="none" stroke="#1040ff" stroke-width="1.35" stroke-linejoin="round"/>
<polygon points="144.23,356.45 148.03,360.25 144.23,364.05 140.43,360.25" fill="none" stroke="#1040ff" stroke-width="1.35" stroke-linejoin="round"/>
<polygon points="151.30,353.75 155.10,357.55 151.30,361.35 147.50,357.55" fill="none" stroke="#1040ff" stroke-width="1.35" stroke-linejoin="round"/>
<polygon points="158.38,351.04 162.18,354.84 158.38,358.64 154.57,354.84" fill="none" stroke="#1040ff" stroke-width="1.35" stroke-linejoin="round"/>
<polygon points="165.45,348.33 169.25,352.13 165.45,355.93 161.65,352.13" fill="none" stroke="#1040ff" stroke-width="1.35" stroke-linejoin="round"/>
<polygon points="172.53,344.72 176.33,348.52 172.53,352.32 168.72,348.52" fill="none" stroke="#1040ff" stroke-width="1.35" stroke-linejoin="round"/>
<polygon points="179.60,340.21 183.40,344.01 179.60,347.81 175.80,344.01" fill="none" stroke="#1040ff" stroke-width="1.35" stroke-linejoin="round"/>
<polygon points="186.68,335.69 190.48,339.49 186.68,343.29 182.88,339.49" fill="none" stroke="#1040ff" stroke-width="1.35" stroke-linejoin="round"/>
<polygon points="193.75,331.18 197.55,334.98 193.75,338.78 189.95,334.98" fill="none" stroke="#1040ff" stroke-width="1.35" stroke-linejoin="round"/>
<polygon points="200.83,326.67 204.63,330.47 200.83,334.27 197.03,330.47" fill="none" stroke="#1040ff" stroke-width="1.35" stroke-linejoin="round"/>
<polygon points="207.90,322.16 211.70,325.96 207.90,329.76 204.10,325.96" fill="none" stroke="#1040ff" stroke-width="1.35" stroke-linejoin="round"/>
<polygon points="214.98,316.74 218.78,320.54 214.98,324.34 211.18,320.54" fill="none" stroke="#1040ff" stroke-width="1.35" stroke-linejoin="round"/>
<polygon points="222.05,312.23 225.85,316.03 222.05,319.83 218.25,316.03" fill="none" stroke="#1040ff" stroke-width="1.35" stroke-linejoin="round"/>
<polygon points="229.12,306.27 232.93,310.07 229.12,313.87 225.32,310.07" fill="none" stroke="#1040ff" stroke-width="1.35" stroke-linejoin="round"/>
<polygon points="236.20,300.50 240.00,304.30 236.20,308.10 232.40,304.30" fill="none" stroke="#1040ff" stroke-width="1.35" stroke-linejoin="round"/>
<polygon points="243.27,295.08 247.07,298.88 243.27,302.68 239.47,298.88" fill="none" stroke="#1040ff" stroke-width="1.35" stroke-linejoin="round"/>
<polygon points="250.35,288.76 254.15,292.56 250.35,296.36 246.55,292.56" fill="none" stroke="#1040ff" stroke-width="1.35" stroke-linejoin="round"/>
<polygon points="108.85,324.96 110.65,328.66 108.85,332.36 107.05,328.66" fill="none" stroke="#2890d4" stroke-width="1.40" stroke-linejoin="round"/>
<polygon points="115.93,324.96 117.73,328.66 115.93,332.36 114.13,328.66" fill="none" stroke="#2890d4" stroke-width="1.40" stroke-linejoin="round"/>
<polygon points="123.00,323.16 124.80,326.86 123.00,330.56 121.20,326.86" fill="none" stroke="#2890d4" stroke-width="1.40" stroke-linejoin="round"/>
<polygon points="130.07,320.81 131.88,324.51 130.07,328.21 128.27,324.51" fill="none" stroke="#2890d4" stroke-width="1.40" stroke-linejoin="round"/>
<polygon points="137.15,318.65 138.95,322.35 137.15,326.05 135.35,322.35" fill="none" stroke="#2890d4" stroke-width="1.40" stroke-linejoin="round"/>
<polygon points="144.23,315.94 146.03,319.64 144.23,323.34 142.43,319.64" fill="none" stroke="#2890d4" stroke-width="1.40" stroke-linejoin="round"/>
<polygon points="151.30,313.59 153.10,317.29 151.30,320.99 149.50,317.29" fill="none" stroke="#2890d4" stroke-width="1.40" stroke-linejoin="round"/>
<polygon points="158.38,310.52 160.18,314.22 158.38,317.92 156.57,314.22" fill="none" stroke="#2890d4" stroke-width="1.40" stroke-linejoin="round"/>
<polygon points="165.45,306.91 167.25,310.61 165.45,314.31 163.65,310.61" fill="none" stroke="#2890d4" stroke-width="1.40" stroke-linejoin="round"/>
<polygon points="172.53,302.40 174.33,306.10 172.53,309.80 170.72,306.10" fill="none" stroke="#2890d4" stroke-width="1.40" stroke-linejoin="round"/>
<polygon points="179.60,297.89 181.40,301.59 179.60,305.29 177.80,301.59" fill="none" stroke="#2890d4" stroke-width="1.40" stroke-linejoin="round"/>
<polygon points="186.68,293.38 188.48,297.08 186.68,300.78 184.88,297.08" fill="none" stroke="#2890d4" stroke-width="1.40" stroke-linejoin="round"/>
<polygon points="193.75,288.86 195.55,292.56 193.75,296.26 191.95,292.56" fill="none" stroke="#2890d4" stroke-width="1.40" stroke-linejoin="round"/>
<polygon points="200.83,284.35 202.63,288.05 200.83,291.75 199.03,288.05" fill="none" stroke="#2890d4" stroke-width="1.40" stroke-linejoin="round"/>
<polygon points="207.90,278.94 209.70,282.64 207.90,286.34 206.10,282.64" fill="none" stroke="#2890d4" stroke-width="1.40" stroke-linejoin="round"/>
<polygon points="214.98,273.88 216.78,277.58 214.98,281.28 213.18,277.58" fill="none" stroke="#2890d4" stroke-width="1.40" stroke-linejoin="round"/>
<polygon points="222.05,268.47 223.85,272.17 222.05,275.87 220.25,272.17" fill="none" stroke="#2890d4" stroke-width="1.40" stroke-linejoin="round"/>
<polygon points="229.12,262.69 230.93,266.39 229.12,270.09 227.32,266.39" fill="none" stroke="#2890d4" stroke-width="1.40" stroke-linejoin="round"/>
<polygon points="236.20,257.27 238.00,260.97 236.20,264.67 234.40,260.97" fill="none" stroke="#2890d4" stroke-width="1.40" stroke-linejoin="round"/>
<polygon points="243.27,250.96 245.07,254.66 243.27,258.36 241.47,254.66" fill="none" stroke="#2890d4" stroke-width="1.40" stroke-linejoin="round"/>
<polygon points="250.35,244.28 252.15,247.98 250.35,251.68 248.55,247.98" fill="none" stroke="#2890d4" stroke-width="1.40" stroke-linejoin="round"/>
<polygon points="104.75,301.55 108.85,299.45 112.95,301.55 108.85,303.65" fill="none" stroke="#10a0a0" stroke-width="1.40" stroke-linejoin="round"/>
<polygon points="111.83,300.65 115.93,298.55 120.03,300.65 115.93,302.75" fill="none" stroke="#10a0a0" stroke-width="1.40" stroke-linejoin="round"/>
<polygon points="118.90,298.84 123.00,296.74 127.10,298.84 123.00,300.94" fill="none" stroke="#10a0a0" stroke-width="1.40" stroke-linejoin="round"/>
<polygon points="125.97,297.04 130.07,294.94 134.17,297.04 130.07,299.14" fill="none" stroke="#10a0a0" stroke-width="1.40" stroke-linejoin="round"/>
<polygon points="133.05,295.23 137.15,293.13 141.25,295.23 137.15,297.33" fill="none" stroke="#10a0a0" stroke-width="1.40" stroke-linejoin="round"/>
<polygon points="140.13,292.53 144.23,290.43 148.33,292.53 144.23,294.63" fill="none" stroke="#10a0a0" stroke-width="1.40" stroke-linejoin="round"/>
<polygon points="147.20,288.01 151.30,285.91 155.40,288.01 151.30,290.11" fill="none" stroke="#10a0a0" stroke-width="1.40" stroke-linejoin="round"/>
<polygon points="154.28,285.31 158.38,283.21 162.47,285.31 158.38,287.41" fill="none" stroke="#10a0a0" stroke-width="1.40" stroke-linejoin="round"/>
<polygon points="161.35,280.79 165.45,278.69 169.55,280.79 165.45,282.89" fill="none" stroke="#10a0a0" stroke-width="1.40" stroke-linejoin="round"/>
<polygon points="168.43,277.18 172.53,275.08 176.62,277.18 172.53,279.28" fill="none" stroke="#10a0a0" stroke-width="1.40" stroke-linejoin="round"/>
<polygon points="175.50,272.67 179.60,270.57 183.70,272.67 179.60,274.77" fill="none" stroke="#10a0a0" stroke-width="1.40" stroke-linejoin="round"/>
<polygon points="182.58,268.16 186.68,266.06 190.78,268.16 186.68,270.26" fill="none" stroke="#10a0a0" stroke-width="1.40" stroke-linejoin="round"/>
<polygon points="189.65,262.74 193.75,260.64 197.85,262.74 193.75,264.84" fill="none" stroke="#10a0a0" stroke-width="1.40" stroke-linejoin="round"/>
<polygon points="196.73,258.23 200.83,256.13 204.93,258.23 200.83,260.33" fill="none" stroke="#10a0a0" stroke-width="1.40" stroke-linejoin="round"/>
<polygon points="203.80,252.82 207.90,250.72 212.00,252.82 207.90,254.92" fill="none" stroke="#10a0a0" stroke-width="1.40" stroke-linejoin="round"/>
<polygon points="210.88,247.40 214.98,245.30 219.08,247.40 214.98,249.50" fill="none" stroke="#10a0a0" stroke-width="1.40" stroke-linejoin="round"/>
<polygon points="217.95,241.99 222.05,239.89 226.15,241.99 222.05,244.09" fill="none" stroke="#10a0a0" stroke-width="1.40" stroke-linejoin="round"/>
<polygon points="225.03,236.57 229.12,234.47 233.22,236.57 229.12,238.67" fill="none" stroke="#10a0a0" stroke-width="1.40" stroke-linejoin="round"/>
<polygon points="232.10,230.25 236.20,228.15 240.30,230.25 236.20,232.35" fill="none" stroke="#10a0a0" stroke-width="1.40" stroke-linejoin="round"/>
<polygon points="239.17,223.94 243.27,221.84 247.37,223.94 243.27,226.04" fill="none" stroke="#10a0a0" stroke-width="1.40" stroke-linejoin="round"/>
<polygon points="246.25,217.62 250.35,215.52 254.45,217.62 250.35,219.72" fill="none" stroke="#10a0a0" stroke-width="1.40" stroke-linejoin="round"/>
<polygon points="111.95,279.89 106.65,282.89 106.65,276.89" fill="none" stroke="#14a058" stroke-width="1.55" stroke-linejoin="round"/>
<polygon points="119.03,278.99 113.73,281.99 113.73,275.99" fill="none" stroke="#14a058" stroke-width="1.55" stroke-linejoin="round"/>
<polygon points="126.10,277.18 120.80,280.18 120.80,274.18" fill="none" stroke="#14a058" stroke-width="1.55" stroke-linejoin="round"/>
<polygon points="133.17,274.48 127.87,277.48 127.87,271.48" fill="none" stroke="#14a058" stroke-width="1.55" stroke-linejoin="round"/>
<polygon points="140.25,271.77 134.95,274.77 134.95,268.77" fill="none" stroke="#14a058" stroke-width="1.55" stroke-linejoin="round"/>
<polygon points="147.33,268.16 142.03,271.16 142.03,265.16" fill="none" stroke="#14a058" stroke-width="1.55" stroke-linejoin="round"/>
<polygon points="154.40,264.55 149.10,267.55 149.10,261.55" fill="none" stroke="#14a058" stroke-width="1.55" stroke-linejoin="round"/>
<polygon points="161.47,260.94 156.18,263.94 156.18,257.94" fill="none" stroke="#14a058" stroke-width="1.55" stroke-linejoin="round"/>
<polygon points="168.55,257.33 163.25,260.33 163.25,254.33" fill="none" stroke="#14a058" stroke-width="1.55" stroke-linejoin="round"/>
<polygon points="175.62,251.91 170.33,254.91 170.33,248.91" fill="none" stroke="#14a058" stroke-width="1.55" stroke-linejoin="round"/>
<polygon points="182.70,248.30 177.40,251.30 177.40,245.30" fill="none" stroke="#14a058" stroke-width="1.55" stroke-linejoin="round"/>
<polygon points="189.78,242.89 184.48,245.89 184.48,239.89" fill="none" stroke="#14a058" stroke-width="1.55" stroke-linejoin="round"/>
<polygon points="196.85,238.38 191.55,241.38 191.55,235.38" fill="none" stroke="#14a058" stroke-width="1.55" stroke-linejoin="round"/>
<polygon points="203.93,232.96 198.63,235.96 198.63,229.96" fill="none" stroke="#14a058" stroke-width="1.55" stroke-linejoin="round"/>
<polygon points="211.00,228.45 205.70,231.45 205.70,225.45" fill="none" stroke="#14a058" stroke-width="1.55" stroke-linejoin="round"/>
<polygon points="218.08,223.03 212.78,226.03 212.78,220.03" fill="none" stroke="#14a058" stroke-width="1.55" stroke-linejoin="round"/>
<polygon points="225.15,217.62 219.85,220.62 219.85,214.62" fill="none" stroke="#14a058" stroke-width="1.55" stroke-linejoin="round"/>
<polygon points="232.22,212.20 226.93,215.20 226.93,209.20" fill="none" stroke="#14a058" stroke-width="1.55" stroke-linejoin="round"/>
<polygon points="239.30,205.88 234.00,208.88 234.00,202.88" fill="none" stroke="#14a058" stroke-width="1.55" stroke-linejoin="round"/>
<polygon points="246.37,199.57 241.07,202.57 241.07,196.57" fill="none" stroke="#14a058" stroke-width="1.55" stroke-linejoin="round"/>
<polygon points="253.45,192.35 248.15,195.35 248.15,189.35" fill="none" stroke="#14a058" stroke-width="1.55" stroke-linejoin="round"/>
<polygon points="105.75,228.45 111.05,231.45 111.05,225.45" fill="none" stroke="#52a01a" stroke-width="1.55" stroke-linejoin="round"/>
<polygon points="112.83,227.55 118.13,230.55 118.13,224.55" fill="none" stroke="#52a01a" stroke-width="1.55" stroke-linejoin="round"/>
<polygon points="119.90,225.74 125.20,228.74 125.20,222.74" fill="none" stroke="#52a01a" stroke-width="1.55" stroke-linejoin="round"/>
<polygon points="126.97,223.03 132.27,226.03 132.27,220.03" fill="none" stroke="#52a01a" stroke-width="1.55" stroke-linejoin="round"/>
<polygon points="134.05,220.32 139.35,223.32 139.35,217.32" fill="none" stroke="#52a01a" stroke-width="1.55" stroke-linejoin="round"/>
<polygon points="141.13,216.71 146.43,219.71 146.43,213.71" fill="none" stroke="#52a01a" stroke-width="1.55" stroke-linejoin="round"/>
<polygon points="148.20,213.10 153.50,216.10 153.50,210.10" fill="none" stroke="#52a01a" stroke-width="1.55" stroke-linejoin="round"/>
<polygon points="155.28,209.49 160.57,212.49 160.57,206.49" fill="none" stroke="#52a01a" stroke-width="1.55" stroke-linejoin="round"/>
<polygon points="162.35,204.98 167.65,207.98 167.65,201.98" fill="none" stroke="#52a01a" stroke-width="1.55" stroke-linejoin="round"/>
<polygon points="169.43,201.01 174.72,204.01 174.72,198.01" fill="none" stroke="#52a01a" stroke-width="1.55" stroke-linejoin="round"/>
<polygon points="176.50,196.32 181.80,199.32 181.80,193.32" fill="none" stroke="#52a01a" stroke-width="1.55" stroke-linejoin="round"/>
<polygon points="183.58,191.44 188.88,194.44 188.88,188.44" fill="none" stroke="#52a01a" stroke-width="1.55" stroke-linejoin="round"/>
<polygon points="190.65,186.57 195.95,189.57 195.95,183.57" fill="none" stroke="#52a01a" stroke-width="1.55" stroke-linejoin="round"/>
<polygon points="197.73,180.07 203.03,183.07 203.03,177.07" fill="none" stroke="#52a01a" stroke-width="1.55" stroke-linejoin="round"/>
<polygon points="204.80,174.30 210.10,177.30 210.10,171.30" fill="none" stroke="#52a01a" stroke-width="1.55" stroke-linejoin="round"/>
<polygon points="211.88,168.88 217.18,171.88 217.18,165.88" fill="none" stroke="#52a01a" stroke-width="1.55" stroke-linejoin="round"/>
<polygon points="218.95,163.47 224.25,166.47 224.25,160.47" fill="none" stroke="#52a01a" stroke-width="1.55" stroke-linejoin="round"/>
<polygon points="226.03,157.69 231.32,160.69 231.32,154.69" fill="none" stroke="#52a01a" stroke-width="1.55" stroke-linejoin="round"/>
<polygon points="233.10,152.27 238.40,155.27 238.40,149.27" fill="none" stroke="#52a01a" stroke-width="1.55" stroke-linejoin="round"/>
<polygon points="240.17,146.32 245.47,149.32 245.47,143.32" fill="none" stroke="#52a01a" stroke-width="1.55" stroke-linejoin="round"/>
<polygon points="247.25,140.90 252.55,143.90 252.55,137.90" fill="none" stroke="#52a01a" stroke-width="1.55" stroke-linejoin="round"/>
<polygon points="108.85,210.79 111.85,205.49 105.85,205.49" fill="none" stroke="#a8a81c" stroke-width="1.55" stroke-linejoin="round"/>
<polygon points="115.93,208.08 118.93,202.78 112.93,202.78" fill="none" stroke="#a8a81c" stroke-width="1.55" stroke-linejoin="round"/>
<polygon points="123.00,204.47 126.00,199.17 120.00,199.17" fill="none" stroke="#a8a81c" stroke-width="1.55" stroke-linejoin="round"/>
<polygon points="130.07,201.22 133.07,195.92 127.07,195.92" fill="none" stroke="#a8a81c" stroke-width="1.55" stroke-linejoin="round"/>
<polygon points="137.15,195.81 140.15,190.51 134.15,190.51" fill="none" stroke="#a8a81c" stroke-width="1.55" stroke-linejoin="round"/>
<polygon points="144.23,190.93 147.23,185.63 141.23,185.63" fill="none" stroke="#a8a81c" stroke-width="1.55" stroke-linejoin="round"/>
<polygon points="151.30,186.78 154.30,181.48 148.30,181.48" fill="none" stroke="#a8a81c" stroke-width="1.55" stroke-linejoin="round"/>
<polygon points="158.38,181.91 161.38,176.61 155.38,176.61" fill="none" stroke="#a8a81c" stroke-width="1.55" stroke-linejoin="round"/>
<polygon points="165.45,177.04 168.45,171.74 162.45,171.74" fill="none" stroke="#a8a81c" stroke-width="1.55" stroke-linejoin="round"/>
<polygon points="172.53,172.88 175.53,167.58 169.53,167.58" fill="none" stroke="#a8a81c" stroke-width="1.55" stroke-linejoin="round"/>
<polygon points="179.60,168.01 182.60,162.71 176.60,162.71" fill="none" stroke="#a8a81c" stroke-width="1.55" stroke-linejoin="round"/>
<polygon points="186.68,162.05 189.68,156.75 183.68,156.75" fill="none" stroke="#a8a81c" stroke-width="1.55" stroke-linejoin="round"/>
<polygon points="193.75,157.18 196.75,151.88 190.75,151.88" fill="none" stroke="#a8a81c" stroke-width="1.55" stroke-linejoin="round"/>
<polygon points="200.83,152.13 203.83,146.83 197.83,146.83" fill="none" stroke="#a8a81c" stroke-width="1.55" stroke-linejoin="round"/>
<polygon points="207.90,146.89 210.90,141.59 204.90,141.59" fill="none" stroke="#a8a81c" stroke-width="1.55" stroke-linejoin="round"/>
<polygon points="214.98,141.29 217.98,135.99 211.98,135.99" fill="none" stroke="#a8a81c" stroke-width="1.55" stroke-linejoin="round"/>
<polygon points="222.05,135.34 225.05,130.04 219.05,130.04" fill="none" stroke="#a8a81c" stroke-width="1.55" stroke-linejoin="round"/>
<polygon points="229.12,129.56 232.12,124.26 226.12,124.26" fill="none" stroke="#a8a81c" stroke-width="1.55" stroke-linejoin="round"/>
<polygon points="236.20,122.34 239.20,117.04 233.20,117.04" fill="none" stroke="#a8a81c" stroke-width="1.55" stroke-linejoin="round"/>
<polygon points="243.27,116.02 246.27,110.72 240.27,110.72" fill="none" stroke="#a8a81c" stroke-width="1.55" stroke-linejoin="round"/>
<polygon points="250.35,108.80 253.35,103.50 247.35,103.50" fill="none" stroke="#a8a81c" stroke-width="1.55" stroke-linejoin="round"/>
<polygon points="108.85,183.87 111.85,189.17 105.85,189.17" fill="none" stroke="#a8721a" stroke-width="1.55" stroke-linejoin="round"/>
<polygon points="115.93,180.26 118.93,185.56 112.93,185.56" fill="none" stroke="#a8721a" stroke-width="1.55" stroke-linejoin="round"/>
<polygon points="123.00,175.38 126.00,180.68 120.00,180.68" fill="none" stroke="#a8721a" stroke-width="1.55" stroke-linejoin="round"/>
<polygon points="130.07,169.97 133.07,175.27 127.07,175.27" fill="none" stroke="#a8721a" stroke-width="1.55" stroke-linejoin="round"/>
<polygon points="137.15,163.47 140.15,168.77 134.15,168.77" fill="none" stroke="#a8721a" stroke-width="1.55" stroke-linejoin="round"/>
<polygon points="144.23,161.30 147.23,166.60 141.23,166.60" fill="none" stroke="#a8721a" stroke-width="1.55" stroke-linejoin="round"/>
<polygon points="151.30,158.60 154.30,163.90 148.30,163.90" fill="none" stroke="#a8721a" stroke-width="1.55" stroke-linejoin="round"/>
<polygon points="158.38,152.64 161.38,157.94 155.38,157.94" fill="none" stroke="#a8721a" stroke-width="1.55" stroke-linejoin="round"/>
<polygon points="165.45,145.42 168.45,150.72 162.45,150.72" fill="none" stroke="#a8721a" stroke-width="1.55" stroke-linejoin="round"/>
<polygon points="172.53,138.74 175.53,144.04 169.53,144.04" fill="none" stroke="#a8721a" stroke-width="1.55" stroke-linejoin="round"/>
<polygon points="179.60,131.52 182.60,136.82 176.60,136.82" fill="none" stroke="#a8721a" stroke-width="1.55" stroke-linejoin="round"/>
<polygon points="186.68,125.20 189.68,130.50 183.68,130.50" fill="none" stroke="#a8721a" stroke-width="1.55" stroke-linejoin="round"/>
<polygon points="193.75,117.08 196.75,122.38 190.75,122.38" fill="none" stroke="#a8721a" stroke-width="1.55" stroke-linejoin="round"/>
<polygon points="200.83,110.40 203.83,115.70 197.83,115.70" fill="none" stroke="#a8721a" stroke-width="1.55" stroke-linejoin="round"/>
<polygon points="207.90,103.90 210.90,109.20 204.90,109.20" fill="none" stroke="#a8721a" stroke-width="1.55" stroke-linejoin="round"/>
<polygon points="214.98,96.32 217.98,101.62 211.98,101.62" fill="none" stroke="#a8721a" stroke-width="1.55" stroke-linejoin="round"/>
<polygon points="222.05,89.10 225.05,94.40 219.05,94.40" fill="none" stroke="#a8721a" stroke-width="1.55" stroke-linejoin="round"/>
<polygon points="229.12,80.98 232.12,86.28 226.12,86.28" fill="none" stroke="#a8721a" stroke-width="1.55" stroke-linejoin="round"/>
<polygon points="236.20,74.30 239.20,79.60 233.20,79.60" fill="none" stroke="#a8721a" stroke-width="1.55" stroke-linejoin="round"/>
<polygon points="243.27,65.64 246.27,70.94 240.27,70.94" fill="none" stroke="#a8721a" stroke-width="1.55" stroke-linejoin="round"/>
<polygon points="250.35,59.86 253.35,65.16 247.35,65.16" fill="none" stroke="#a8721a" stroke-width="1.55" stroke-linejoin="round"/>
<rect x="106.00" y="162.46" width="5.70" height="5.70" fill="none" stroke="#d9541c" stroke-width="1.70"/>
<rect x="113.08" y="159.21" width="5.70" height="5.70" fill="none" stroke="#d9541c" stroke-width="1.70"/>
<rect x="120.15" y="154.70" width="5.70" height="5.70" fill="none" stroke="#d9541c" stroke-width="1.70"/>
<rect x="127.22" y="149.82" width="5.70" height="5.70" fill="none" stroke="#d9541c" stroke-width="1.70"/>
<rect x="134.30" y="144.41" width="5.70" height="5.70" fill="none" stroke="#d9541c" stroke-width="1.70"/>
<rect x="141.38" y="137.73" width="5.70" height="5.70" fill="none" stroke="#d9541c" stroke-width="1.70"/>
<rect x="148.45" y="131.77" width="5.70" height="5.70" fill="none" stroke="#d9541c" stroke-width="1.70"/>
<rect x="155.53" y="126.36" width="5.70" height="5.70" fill="none" stroke="#d9541c" stroke-width="1.70"/>
<rect x="162.60" y="120.04" width="5.70" height="5.70" fill="none" stroke="#d9541c" stroke-width="1.70"/>
<rect x="169.68" y="113.72" width="5.70" height="5.70" fill="none" stroke="#d9541c" stroke-width="1.70"/>
<rect x="176.75" y="106.50" width="5.70" height="5.70" fill="none" stroke="#d9541c" stroke-width="1.70"/>
<rect x="183.83" y="99.28" width="5.70" height="5.70" fill="none" stroke="#d9541c" stroke-width="1.70"/>
<rect x="190.90" y="92.06" width="5.70" height="5.70" fill="none" stroke="#d9541c" stroke-width="1.70"/>
<rect x="197.98" y="84.30" width="5.70" height="5.70" fill="none" stroke="#d9541c" stroke-width="1.70"/>
<rect x="205.05" y="75.81" width="5.70" height="5.70" fill="none" stroke="#d9541c" stroke-width="1.70"/>
<rect x="212.13" y="69.50" width="5.70" height="5.70" fill="none" stroke="#d9541c" stroke-width="1.70"/>
<rect x="219.20" y="61.37" width="5.70" height="5.70" fill="none" stroke="#d9541c" stroke-width="1.70"/>
<rect x="226.28" y="53.25" width="5.70" height="5.70" fill="none" stroke="#d9541c" stroke-width="1.70"/>
<rect x="233.35" y="45.13" width="5.70" height="5.70" fill="none" stroke="#d9541c" stroke-width="1.70"/>
<rect x="240.42" y="36.64" width="5.70" height="5.70" fill="none" stroke="#d9541c" stroke-width="1.70"/>
<rect x="247.50" y="30.69" width="5.70" height="5.70" fill="none" stroke="#d9541c" stroke-width="1.70"/>
<circle cx="108.85" cy="156.82" r="2.75" fill="none" stroke="#ff1010" stroke-width="1.75"/>
<circle cx="115.93" cy="152.67" r="2.75" fill="none" stroke="#ff1010" stroke-width="1.75"/>
<circle cx="123.00" cy="149.06" r="2.75" fill="none" stroke="#ff1010" stroke-width="1.75"/>
<circle cx="130.07" cy="144.19" r="2.75" fill="none" stroke="#ff1010" stroke-width="1.75"/>
<circle cx="137.15" cy="138.23" r="2.75" fill="none" stroke="#ff1010" stroke-width="1.75"/>
<circle cx="144.23" cy="133.72" r="2.75" fill="none" stroke="#ff1010" stroke-width="1.75"/>
<circle cx="151.30" cy="128.30" r="2.75" fill="none" stroke="#ff1010" stroke-width="1.75"/>
<circle cx="158.38" cy="122.89" r="2.75" fill="none" stroke="#ff1010" stroke-width="1.75"/>
<circle cx="165.45" cy="116.57" r="2.75" fill="none" stroke="#ff1010" stroke-width="1.75"/>
<circle cx="172.53" cy="110.25" r="2.75" fill="none" stroke="#ff1010" stroke-width="1.75"/>
<circle cx="179.60" cy="103.03" r="2.75" fill="none" stroke="#ff1010" stroke-width="1.75"/>
<circle cx="186.68" cy="95.81" r="2.75" fill="none" stroke="#ff1010" stroke-width="1.75"/>
<circle cx="193.75" cy="88.59" r="2.75" fill="none" stroke="#ff1010" stroke-width="1.75"/>
<circle cx="200.83" cy="81.37" r="2.75" fill="none" stroke="#ff1010" stroke-width="1.75"/>
<circle cx="207.90" cy="74.15" r="2.75" fill="none" stroke="#ff1010" stroke-width="1.75"/>
<circle cx="214.98" cy="66.57" r="2.75" fill="none" stroke="#ff1010" stroke-width="1.75"/>
<circle cx="222.05" cy="58.81" r="2.75" fill="none" stroke="#ff1010" stroke-width="1.75"/>
<circle cx="229.12" cy="50.69" r="2.75" fill="none" stroke="#ff1010" stroke-width="1.75"/>
<circle cx="236.20" cy="42.02" r="2.75" fill="none" stroke="#ff1010" stroke-width="1.75"/>
<circle cx="243.27" cy="33.00" r="2.75" fill="none" stroke="#ff1010" stroke-width="1.75"/>
<polygon points="390.35,433.97 395.95,433.97 390.35,439.97 395.95,439.97" fill="none" stroke="#ff10e0" stroke-width="1.70" stroke-linejoin="round"/>
<polygon points="397.43,431.62 403.03,431.62 397.43,437.62 403.03,437.62" fill="none" stroke="#ff10e0" stroke-width="1.70" stroke-linejoin="round"/>
<polygon points="404.50,427.65 410.10,427.65 404.50,433.65 410.10,433.65" fill="none" stroke="#ff10e0" stroke-width="1.70" stroke-linejoin="round"/>
<polygon points="411.57,423.68 417.18,423.68 411.57,429.68 417.18,429.68" fill="none" stroke="#ff10e0" stroke-width="1.70" stroke-linejoin="round"/>
<polygon points="418.65,419.53 424.25,419.53 418.65,425.53 424.25,425.53" fill="none" stroke="#ff10e0" stroke-width="1.70" stroke-linejoin="round"/>
<polygon points="425.72,414.65 431.32,414.65 425.72,420.65 431.32,420.65" fill="none" stroke="#ff10e0" stroke-width="1.70" stroke-linejoin="round"/>
<polygon points="432.80,409.24 438.40,409.24 432.80,415.24 438.40,415.24" fill="none" stroke="#ff10e0" stroke-width="1.70" stroke-linejoin="round"/>
<polygon points="439.88,403.28 445.48,403.28 439.88,409.28 445.48,409.28" fill="none" stroke="#ff10e0" stroke-width="1.70" stroke-linejoin="round"/>
<polygon points="446.95,397.32 452.55,397.32 446.95,403.32 452.55,403.32" fill="none" stroke="#ff10e0" stroke-width="1.70" stroke-linejoin="round"/>
<polygon points="454.02,391.55 459.62,391.55 454.02,397.55 459.62,397.55" fill="none" stroke="#ff10e0" stroke-width="1.70" stroke-linejoin="round"/>
<polygon points="461.10,386.13 466.70,386.13 461.10,392.13 466.70,392.13" fill="none" stroke="#ff10e0" stroke-width="1.70" stroke-linejoin="round"/>
<polygon points="468.18,379.27 473.78,379.27 468.18,385.27 473.78,385.27" fill="none" stroke="#ff10e0" stroke-width="1.70" stroke-linejoin="round"/>
<polygon points="475.25,373.14 480.85,373.14 475.25,379.14 480.85,379.14" fill="none" stroke="#ff10e0" stroke-width="1.70" stroke-linejoin="round"/>
<polygon points="482.32,366.28 487.93,366.28 482.32,372.28 487.93,372.28" fill="none" stroke="#ff10e0" stroke-width="1.70" stroke-linejoin="round"/>
<polygon points="489.40,359.96 495.00,359.96 489.40,365.96 495.00,365.96" fill="none" stroke="#ff10e0" stroke-width="1.70" stroke-linejoin="round"/>
<polygon points="496.47,353.28 502.07,353.28 496.47,359.28 502.07,359.28" fill="none" stroke="#ff10e0" stroke-width="1.70" stroke-linejoin="round"/>
<polygon points="503.55,346.42 509.15,346.42 503.55,352.42 509.15,352.42" fill="none" stroke="#ff10e0" stroke-width="1.70" stroke-linejoin="round"/>
<polygon points="510.62,339.56 516.22,339.56 510.62,345.56 516.22,345.56" fill="none" stroke="#ff10e0" stroke-width="1.70" stroke-linejoin="round"/>
<polygon points="517.70,332.88 523.30,332.88 517.70,338.88 523.30,338.88" fill="none" stroke="#ff10e0" stroke-width="1.70" stroke-linejoin="round"/>
<polygon points="524.78,325.12 530.38,325.12 524.78,331.12 530.38,331.12" fill="none" stroke="#ff10e0" stroke-width="1.70" stroke-linejoin="round"/>
<polygon points="531.85,317.54 537.45,317.54 531.85,323.54 537.45,323.54" fill="none" stroke="#ff10e0" stroke-width="1.70" stroke-linejoin="round"/>
<polygon points="390.15,419.09 396.15,424.89 396.15,419.09 390.15,424.89" fill="none" stroke="#7018e0" stroke-width="1.65" stroke-linejoin="round"/>
<polygon points="397.23,417.28 403.23,423.08 403.23,417.28 397.23,423.08" fill="none" stroke="#7018e0" stroke-width="1.65" stroke-linejoin="round"/>
<polygon points="404.30,412.95 410.30,418.75 410.30,412.95 404.30,418.75" fill="none" stroke="#7018e0" stroke-width="1.65" stroke-linejoin="round"/>
<polygon points="411.38,408.80 417.38,414.60 417.38,408.80 411.38,414.60" fill="none" stroke="#7018e0" stroke-width="1.65" stroke-linejoin="round"/>
<polygon points="418.45,403.92 424.45,409.72 424.45,403.92 418.45,409.72" fill="none" stroke="#7018e0" stroke-width="1.65" stroke-linejoin="round"/>
<polygon points="425.52,398.51 431.52,404.31 431.52,398.51 425.52,404.31" fill="none" stroke="#7018e0" stroke-width="1.65" stroke-linejoin="round"/>
<polygon points="432.60,392.55 438.60,398.35 438.60,392.55 432.60,398.35" fill="none" stroke="#7018e0" stroke-width="1.65" stroke-linejoin="round"/>
<polygon points="439.68,387.68 445.68,393.48 445.68,387.68 439.68,393.48" fill="none" stroke="#7018e0" stroke-width="1.65" stroke-linejoin="round"/>
<polygon points="446.75,381.18 452.75,386.98 452.75,381.18 446.75,386.98" fill="none" stroke="#7018e0" stroke-width="1.65" stroke-linejoin="round"/>
<polygon points="453.82,375.40 459.82,381.20 459.82,375.40 453.82,381.20" fill="none" stroke="#7018e0" stroke-width="1.65" stroke-linejoin="round"/>
<polygon points="460.90,369.09 466.90,374.89 466.90,369.09 460.90,374.89" fill="none" stroke="#7018e0" stroke-width="1.65" stroke-linejoin="round"/>
<polygon points="467.98,361.87 473.98,367.67 473.98,361.87 467.98,367.67" fill="none" stroke="#7018e0" stroke-width="1.65" stroke-linejoin="round"/>
<polygon points="475.05,355.55 481.05,361.35 481.05,355.55 475.05,361.35" fill="none" stroke="#7018e0" stroke-width="1.65" stroke-linejoin="round"/>
<polygon points="482.12,349.23 488.12,355.03 488.12,349.23 482.12,355.03" fill="none" stroke="#7018e0" stroke-width="1.65" stroke-linejoin="round"/>
<polygon points="489.20,342.55 495.20,348.35 495.20,342.55 489.20,348.35" fill="none" stroke="#7018e0" stroke-width="1.65" stroke-linejoin="round"/>
<polygon points="496.27,335.33 502.27,341.13 502.27,335.33 496.27,341.13" fill="none" stroke="#7018e0" stroke-width="1.65" stroke-linejoin="round"/>
<polygon points="503.35,328.47 509.35,334.27 509.35,328.47 503.35,334.27" fill="none" stroke="#7018e0" stroke-width="1.65" stroke-linejoin="round"/>
<polygon points="510.42,321.25 516.42,327.05 516.42,321.25 510.42,327.05" fill="none" stroke="#7018e0" stroke-width="1.65" stroke-linejoin="round"/>
<polygon points="517.50,314.03 523.50,319.83 523.50,314.03 517.50,319.83" fill="none" stroke="#7018e0" stroke-width="1.65" stroke-linejoin="round"/>
<polygon points="524.58,306.81 530.58,312.61 530.58,306.81 524.58,312.61" fill="none" stroke="#7018e0" stroke-width="1.65" stroke-linejoin="round"/>
<polygon points="531.65,298.69 537.65,304.49 537.65,298.69 531.65,304.49" fill="none" stroke="#7018e0" stroke-width="1.65" stroke-linejoin="round"/>
<polygon points="393.15,384.43 396.95,388.23 393.15,392.03 389.35,388.23" fill="none" stroke="#1040ff" stroke-width="1.35" stroke-linejoin="round"/>
<polygon points="400.23,381.72 404.03,385.52 400.23,389.32 396.43,385.52" fill="none" stroke="#1040ff" stroke-width="1.35" stroke-linejoin="round"/>
<polygon points="407.30,377.75 411.10,381.55 407.30,385.35 403.50,381.55" fill="none" stroke="#1040ff" stroke-width="1.35" stroke-linejoin="round"/>
<polygon points="414.38,373.60 418.18,377.40 414.38,381.20 410.57,377.40" fill="none" stroke="#1040ff" stroke-width="1.35" stroke-linejoin="round"/>
<polygon points="421.45,369.09 425.25,372.89 421.45,376.69 417.65,372.89" fill="none" stroke="#1040ff" stroke-width="1.35" stroke-linejoin="round"/>
<polygon points="428.52,363.67 432.32,367.47 428.52,371.27 424.72,367.47" fill="none" stroke="#1040ff" stroke-width="1.35" stroke-linejoin="round"/>
<polygon points="435.60,357.36 439.40,361.16 435.60,364.96 431.80,361.16" fill="none" stroke="#1040ff" stroke-width="1.35" stroke-linejoin="round"/>
<polygon points="442.68,351.40 446.48,355.20 442.68,359.00 438.88,355.20" fill="none" stroke="#1040ff" stroke-width="1.35" stroke-linejoin="round"/>
<polygon points="449.75,345.62 453.55,349.42 449.75,353.22 445.95,349.42" fill="none" stroke="#1040ff" stroke-width="1.35" stroke-linejoin="round"/>
<polygon points="456.82,339.85 460.62,343.65 456.82,347.45 453.02,343.65" fill="none" stroke="#1040ff" stroke-width="1.35" stroke-linejoin="round"/>
<polygon points="463.90,333.35 467.70,337.15 463.90,340.95 460.10,337.15" fill="none" stroke="#1040ff" stroke-width="1.35" stroke-linejoin="round"/>
<polygon points="470.98,326.67 474.78,330.47 470.98,334.27 467.18,330.47" fill="none" stroke="#1040ff" stroke-width="1.35" stroke-linejoin="round"/>
<polygon points="478.05,320.35 481.85,324.15 478.05,327.95 474.25,324.15" fill="none" stroke="#1040ff" stroke-width="1.35" stroke-linejoin="round"/>
<polygon points="485.12,313.49 488.93,317.29 485.12,321.09 481.32,317.29" fill="none" stroke="#1040ff" stroke-width="1.35" stroke-linejoin="round"/>
<polygon points="492.20,306.27 496.00,310.07 492.20,313.87 488.40,310.07" fill="none" stroke="#1040ff" stroke-width="1.35" stroke-linejoin="round"/>
<polygon points="499.27,299.59 503.07,303.39 499.27,307.19 495.47,303.39" fill="none" stroke="#1040ff" stroke-width="1.35" stroke-linejoin="round"/>
<polygon points="506.35,292.91 510.15,296.71 506.35,300.51 502.55,296.71" fill="none" stroke="#1040ff" stroke-width="1.35" stroke-linejoin="round"/>
<polygon points="513.42,285.69 517.22,289.49 513.42,293.29 509.62,289.49" fill="none" stroke="#1040ff" stroke-width="1.35" stroke-linejoin="round"/>
<polygon points="520.50,278.47 524.30,282.27 520.50,286.07 516.70,282.27" fill="none" stroke="#1040ff" stroke-width="1.35" stroke-linejoin="round"/>
<polygon points="527.58,270.71 531.38,274.51 527.58,278.31 523.78,274.51" fill="none" stroke="#1040ff" stroke-width="1.35" stroke-linejoin="round"/>
<polygon points="534.65,262.59 538.45,266.39 534.65,270.19 530.85,266.39" fill="none" stroke="#1040ff" stroke-width="1.35" stroke-linejoin="round"/>
<polygon points="393.15,345.72 394.95,349.42 393.15,353.12 391.35,349.42" fill="none" stroke="#2890d4" stroke-width="1.40" stroke-linejoin="round"/>
<polygon points="400.23,343.01 402.03,346.71 400.23,350.41 398.43,346.71" fill="none" stroke="#2890d4" stroke-width="1.40" stroke-linejoin="round"/>
<polygon points="407.30,339.40 409.10,343.10 407.30,346.80 405.50,343.10" fill="none" stroke="#2890d4" stroke-width="1.40" stroke-linejoin="round"/>
<polygon points="414.38,335.79 416.18,339.49 414.38,343.19 412.57,339.49" fill="none" stroke="#2890d4" stroke-width="1.40" stroke-linejoin="round"/>
<polygon points="421.45,330.38 423.25,334.08 421.45,337.78 419.65,334.08" fill="none" stroke="#2890d4" stroke-width="1.40" stroke-linejoin="round"/>
<polygon points="428.52,324.06 430.32,327.76 428.52,331.46 426.72,327.76" fill="none" stroke="#2890d4" stroke-width="1.40" stroke-linejoin="round"/>
<polygon points="435.60,318.65 437.40,322.35 435.60,326.05 433.80,322.35" fill="none" stroke="#2890d4" stroke-width="1.40" stroke-linejoin="round"/>
<polygon points="442.68,312.87 444.48,316.57 442.68,320.27 440.88,316.57" fill="none" stroke="#2890d4" stroke-width="1.40" stroke-linejoin="round"/>
<polygon points="449.75,306.91 451.55,310.61 449.75,314.31 447.95,310.61" fill="none" stroke="#2890d4" stroke-width="1.40" stroke-linejoin="round"/>
<polygon points="456.82,300.24 458.62,303.94 456.82,307.64 455.02,303.94" fill="none" stroke="#2890d4" stroke-width="1.40" stroke-linejoin="round"/>
<polygon points="463.90,293.74 465.70,297.44 463.90,301.14 462.10,297.44" fill="none" stroke="#2890d4" stroke-width="1.40" stroke-linejoin="round"/>
<polygon points="470.98,287.06 472.78,290.76 470.98,294.46 469.18,290.76" fill="none" stroke="#2890d4" stroke-width="1.40" stroke-linejoin="round"/>
<polygon points="478.05,280.74 479.85,284.44 478.05,288.14 476.25,284.44" fill="none" stroke="#2890d4" stroke-width="1.40" stroke-linejoin="round"/>
<polygon points="485.12,273.88 486.93,277.58 485.12,281.28 483.32,277.58" fill="none" stroke="#2890d4" stroke-width="1.40" stroke-linejoin="round"/>
<polygon points="492.20,267.74 494.00,271.44 492.20,275.14 490.40,271.44" fill="none" stroke="#2890d4" stroke-width="1.40" stroke-linejoin="round"/>
<polygon points="499.27,259.98 501.07,263.68 499.27,267.38 497.47,263.68" fill="none" stroke="#2890d4" stroke-width="1.40" stroke-linejoin="round"/>
<polygon points="506.35,253.30 508.15,257.00 506.35,260.70 504.55,257.00" fill="none" stroke="#2890d4" stroke-width="1.40" stroke-linejoin="round"/>
<polygon points="513.42,245.54 515.22,249.24 513.42,252.94 511.62,249.24" fill="none" stroke="#2890d4" stroke-width="1.40" stroke-linejoin="round"/>
<polygon points="520.50,238.32 522.30,242.02 520.50,245.72 518.70,242.02" fill="none" stroke="#2890d4" stroke-width="1.40" stroke-linejoin="round"/>
<polygon points="527.58,230.20 529.38,233.90 527.58,237.60 525.78,233.90" fill="none" stroke="#2890d4" stroke-width="1.40" stroke-linejoin="round"/>
<polygon points="534.65,221.17 536.45,224.87 534.65,228.57 532.85,224.87" fill="none" stroke="#2890d4" stroke-width="1.40" stroke-linejoin="round"/>
<polygon points="389.05,318.70 393.15,316.60 397.25,318.70 393.15,320.80" fill="none" stroke="#10a0a0" stroke-width="1.40" stroke-linejoin="round"/>
<polygon points="396.12,316.53 400.23,314.43 404.33,316.53 400.23,318.63" fill="none" stroke="#10a0a0" stroke-width="1.40" stroke-linejoin="round"/>
<polygon points="403.20,313.29 407.30,311.19 411.40,313.29 407.30,315.39" fill="none" stroke="#10a0a0" stroke-width="1.40" stroke-linejoin="round"/>
<polygon points="410.27,308.77 414.38,306.67 418.48,308.77 414.38,310.87" fill="none" stroke="#10a0a0" stroke-width="1.40" stroke-linejoin="round"/>
<polygon points="417.35,303.36 421.45,301.26 425.55,303.36 421.45,305.46" fill="none" stroke="#10a0a0" stroke-width="1.40" stroke-linejoin="round"/>
<polygon points="424.42,297.94 428.52,295.84 432.62,297.94 428.52,300.04" fill="none" stroke="#10a0a0" stroke-width="1.40" stroke-linejoin="round"/>
<polygon points="431.50,292.53 435.60,290.43 439.70,292.53 435.60,294.63" fill="none" stroke="#10a0a0" stroke-width="1.40" stroke-linejoin="round"/>
<polygon points="438.57,286.57 442.68,284.47 446.78,286.57 442.68,288.67" fill="none" stroke="#10a0a0" stroke-width="1.40" stroke-linejoin="round"/>
<polygon points="445.65,280.79 449.75,278.69 453.85,280.79 449.75,282.89" fill="none" stroke="#10a0a0" stroke-width="1.40" stroke-linejoin="round"/>
<polygon points="452.72,274.48 456.82,272.38 460.93,274.48 456.82,276.58" fill="none" stroke="#10a0a0" stroke-width="1.40" stroke-linejoin="round"/>
<polygon points="459.80,268.52 463.90,266.42 468.00,268.52 463.90,270.62" fill="none" stroke="#10a0a0" stroke-width="1.40" stroke-linejoin="round"/>
<polygon points="466.88,261.30 470.98,259.20 475.08,261.30 470.98,263.40" fill="none" stroke="#10a0a0" stroke-width="1.40" stroke-linejoin="round"/>
<polygon points="473.95,254.62 478.05,252.52 482.15,254.62 478.05,256.72" fill="none" stroke="#10a0a0" stroke-width="1.40" stroke-linejoin="round"/>
<polygon points="481.02,247.94 485.12,245.84 489.23,247.94 485.12,250.04" fill="none" stroke="#10a0a0" stroke-width="1.40" stroke-linejoin="round"/>
<polygon points="488.10,240.18 492.20,238.08 496.30,240.18 492.20,242.28" fill="none" stroke="#10a0a0" stroke-width="1.40" stroke-linejoin="round"/>
<polygon points="495.17,233.50 499.27,231.40 503.38,233.50 499.27,235.60" fill="none" stroke="#10a0a0" stroke-width="1.40" stroke-linejoin="round"/>
<polygon points="502.25,226.28 506.35,224.18 510.45,226.28 506.35,228.38" fill="none" stroke="#10a0a0" stroke-width="1.40" stroke-linejoin="round"/>
<polygon points="509.32,219.06 513.42,216.96 517.52,219.06 513.42,221.16" fill="none" stroke="#10a0a0" stroke-width="1.40" stroke-linejoin="round"/>
<polygon points="516.40,211.84 520.50,209.74 524.60,211.84 520.50,213.94" fill="none" stroke="#10a0a0" stroke-width="1.40" stroke-linejoin="round"/>
<polygon points="523.48,204.08 527.58,201.98 531.68,204.08 527.58,206.18" fill="none" stroke="#10a0a0" stroke-width="1.40" stroke-linejoin="round"/>
<polygon points="530.55,195.05 534.65,192.95 538.75,195.05 534.65,197.15" fill="none" stroke="#10a0a0" stroke-width="1.40" stroke-linejoin="round"/>
<polygon points="396.25,296.14 390.95,299.14 390.95,293.14" fill="none" stroke="#14a058" stroke-width="1.55" stroke-linejoin="round"/>
<polygon points="403.33,293.43 398.03,296.43 398.03,290.43" fill="none" stroke="#14a058" stroke-width="1.55" stroke-linejoin="round"/>
<polygon points="410.40,289.46 405.10,292.46 405.10,286.46" fill="none" stroke="#14a058" stroke-width="1.55" stroke-linejoin="round"/>
<polygon points="417.48,285.31 412.18,288.31 412.18,282.31" fill="none" stroke="#14a058" stroke-width="1.55" stroke-linejoin="round"/>
<polygon points="424.55,280.43 419.25,283.43 419.25,277.43" fill="none" stroke="#14a058" stroke-width="1.55" stroke-linejoin="round"/>
<polygon points="431.62,274.48 426.32,277.48 426.32,271.48" fill="none" stroke="#14a058" stroke-width="1.55" stroke-linejoin="round"/>
<polygon points="438.70,268.52 433.40,271.52 433.40,265.52" fill="none" stroke="#14a058" stroke-width="1.55" stroke-linejoin="round"/>
<polygon points="445.78,263.65 440.48,266.65 440.48,260.65" fill="none" stroke="#14a058" stroke-width="1.55" stroke-linejoin="round"/>
<polygon points="452.85,256.97 447.55,259.97 447.55,253.97" fill="none" stroke="#14a058" stroke-width="1.55" stroke-linejoin="round"/>
<polygon points="459.93,251.01 454.62,254.01 454.62,248.01" fill="none" stroke="#14a058" stroke-width="1.55" stroke-linejoin="round"/>
<polygon points="467.00,244.69 461.70,247.69 461.70,241.69" fill="none" stroke="#14a058" stroke-width="1.55" stroke-linejoin="round"/>
<polygon points="474.08,238.38 468.78,241.38 468.78,235.38" fill="none" stroke="#14a058" stroke-width="1.55" stroke-linejoin="round"/>
<polygon points="481.15,231.16 475.85,234.16 475.85,228.16" fill="none" stroke="#14a058" stroke-width="1.55" stroke-linejoin="round"/>
<polygon points="488.23,224.48 482.93,227.48 482.93,221.48" fill="none" stroke="#14a058" stroke-width="1.55" stroke-linejoin="round"/>
<polygon points="495.30,217.98 490.00,220.98 490.00,214.98" fill="none" stroke="#14a058" stroke-width="1.55" stroke-linejoin="round"/>
<polygon points="502.38,210.76 497.07,213.76 497.07,207.76" fill="none" stroke="#14a058" stroke-width="1.55" stroke-linejoin="round"/>
<polygon points="509.45,203.54 504.15,206.54 504.15,200.54" fill="none" stroke="#14a058" stroke-width="1.55" stroke-linejoin="round"/>
<polygon points="516.52,195.96 511.22,198.96 511.22,192.96" fill="none" stroke="#14a058" stroke-width="1.55" stroke-linejoin="round"/>
<polygon points="523.60,187.83 518.30,190.83 518.30,184.83" fill="none" stroke="#14a058" stroke-width="1.55" stroke-linejoin="round"/>
<polygon points="530.68,180.61 525.38,183.61 525.38,177.61" fill="none" stroke="#14a058" stroke-width="1.55" stroke-linejoin="round"/>
<polygon points="537.75,172.49 532.45,175.49 532.45,169.49" fill="none" stroke="#14a058" stroke-width="1.55" stroke-linejoin="round"/>
<polygon points="390.05,249.21 395.35,252.21 395.35,246.21" fill="none" stroke="#52a01a" stroke-width="1.55" stroke-linejoin="round"/>
<polygon points="397.12,245.60 402.43,248.60 402.43,242.60" fill="none" stroke="#52a01a" stroke-width="1.55" stroke-linejoin="round"/>
<polygon points="404.20,241.99 409.50,244.99 409.50,238.99" fill="none" stroke="#52a01a" stroke-width="1.55" stroke-linejoin="round"/>
<polygon points="411.27,237.47 416.57,240.47 416.57,234.47" fill="none" stroke="#52a01a" stroke-width="1.55" stroke-linejoin="round"/>
<polygon points="418.35,232.06 423.65,235.06 423.65,229.06" fill="none" stroke="#52a01a" stroke-width="1.55" stroke-linejoin="round"/>
<polygon points="425.42,226.28 430.72,229.28 430.72,223.28" fill="none" stroke="#52a01a" stroke-width="1.55" stroke-linejoin="round"/>
<polygon points="432.50,220.32 437.80,223.32 437.80,217.32" fill="none" stroke="#52a01a" stroke-width="1.55" stroke-linejoin="round"/>
<polygon points="439.57,214.91 444.88,217.91 444.88,211.91" fill="none" stroke="#52a01a" stroke-width="1.55" stroke-linejoin="round"/>
<polygon points="446.65,208.23 451.95,211.23 451.95,205.23" fill="none" stroke="#52a01a" stroke-width="1.55" stroke-linejoin="round"/>
<polygon points="453.72,202.27 459.02,205.27 459.02,199.27" fill="none" stroke="#52a01a" stroke-width="1.55" stroke-linejoin="round"/>
<polygon points="460.80,195.60 466.10,198.60 466.10,192.60" fill="none" stroke="#52a01a" stroke-width="1.55" stroke-linejoin="round"/>
<polygon points="467.88,188.74 473.18,191.74 473.18,185.74" fill="none" stroke="#52a01a" stroke-width="1.55" stroke-linejoin="round"/>
<polygon points="474.95,181.52 480.25,184.52 480.25,178.52" fill="none" stroke="#52a01a" stroke-width="1.55" stroke-linejoin="round"/>
<polygon points="482.02,174.30 487.32,177.30 487.32,171.30" fill="none" stroke="#52a01a" stroke-width="1.55" stroke-linejoin="round"/>
<polygon points="489.10,167.98 494.40,170.98 494.40,164.98" fill="none" stroke="#52a01a" stroke-width="1.55" stroke-linejoin="round"/>
<polygon points="496.17,160.76 501.47,163.76 501.47,157.76" fill="none" stroke="#52a01a" stroke-width="1.55" stroke-linejoin="round"/>
<polygon points="503.25,153.00 508.55,156.00 508.55,150.00" fill="none" stroke="#52a01a" stroke-width="1.55" stroke-linejoin="round"/>
<polygon points="510.32,145.42 515.62,148.42 515.62,142.42" fill="none" stroke="#52a01a" stroke-width="1.55" stroke-linejoin="round"/>
<polygon points="517.40,138.19 522.70,141.19 522.70,135.19" fill="none" stroke="#52a01a" stroke-width="1.55" stroke-linejoin="round"/>
<polygon points="524.48,129.71 529.78,132.71 529.78,126.71" fill="none" stroke="#52a01a" stroke-width="1.55" stroke-linejoin="round"/>
<polygon points="531.55,121.05 536.85,124.05 536.85,118.05" fill="none" stroke="#52a01a" stroke-width="1.55" stroke-linejoin="round"/>
<polygon points="393.15,226.13 396.15,220.83 390.15,220.83" fill="none" stroke="#a8a81c" stroke-width="1.55" stroke-linejoin="round"/>
<polygon points="400.23,221.62 403.23,216.32 397.23,216.32" fill="none" stroke="#a8a81c" stroke-width="1.55" stroke-linejoin="round"/>
<polygon points="407.30,216.75 410.30,211.45 404.30,211.45" fill="none" stroke="#a8a81c" stroke-width="1.55" stroke-linejoin="round"/>
<polygon points="414.38,211.33 417.38,206.03 411.38,206.03" fill="none" stroke="#a8a81c" stroke-width="1.55" stroke-linejoin="round"/>
<polygon points="421.45,204.47 424.45,199.17 418.45,199.17" fill="none" stroke="#a8a81c" stroke-width="1.55" stroke-linejoin="round"/>
<polygon points="428.52,198.15 431.52,192.85 425.52,192.85" fill="none" stroke="#a8a81c" stroke-width="1.55" stroke-linejoin="round"/>
<polygon points="435.60,191.84 438.60,186.54 432.60,186.54" fill="none" stroke="#a8a81c" stroke-width="1.55" stroke-linejoin="round"/>
<polygon points="442.68,186.06 445.68,180.76 439.68,180.76" fill="none" stroke="#a8a81c" stroke-width="1.55" stroke-linejoin="round"/>
<polygon points="449.75,180.10 452.75,174.80 446.75,174.80" fill="none" stroke="#a8a81c" stroke-width="1.55" stroke-linejoin="round"/>
<polygon points="456.82,173.79 459.82,168.49 453.82,168.49" fill="none" stroke="#a8a81c" stroke-width="1.55" stroke-linejoin="round"/>
<polygon points="463.90,167.47 466.90,162.17 460.90,162.17" fill="none" stroke="#a8a81c" stroke-width="1.55" stroke-linejoin="round"/>
<polygon points="470.98,161.15 473.98,155.85 467.98,155.85" fill="none" stroke="#a8a81c" stroke-width="1.55" stroke-linejoin="round"/>
<polygon points="478.05,154.29 481.05,148.99 475.05,148.99" fill="none" stroke="#a8a81c" stroke-width="1.55" stroke-linejoin="round"/>
<polygon points="485.12,147.07 488.12,141.77 482.12,141.77" fill="none" stroke="#a8a81c" stroke-width="1.55" stroke-linejoin="round"/>
<polygon points="492.20,140.03 495.20,134.73 489.20,134.73" fill="none" stroke="#a8a81c" stroke-width="1.55" stroke-linejoin="round"/>
<polygon points="499.27,132.81 502.27,127.51 496.27,127.51" fill="none" stroke="#a8a81c" stroke-width="1.55" stroke-linejoin="round"/>
<polygon points="506.35,125.59 509.35,120.29 503.35,120.29" fill="none" stroke="#a8a81c" stroke-width="1.55" stroke-linejoin="round"/>
<polygon points="513.42,117.83 516.42,112.53 510.42,112.53" fill="none" stroke="#a8a81c" stroke-width="1.55" stroke-linejoin="round"/>
<polygon points="520.50,110.61 523.50,105.31 517.50,105.31" fill="none" stroke="#a8a81c" stroke-width="1.55" stroke-linejoin="round"/>
<polygon points="527.58,101.58 530.58,96.28 524.58,96.28" fill="none" stroke="#a8a81c" stroke-width="1.55" stroke-linejoin="round"/>
<polygon points="534.65,92.56 537.65,87.26 531.65,87.26" fill="none" stroke="#a8a81c" stroke-width="1.55" stroke-linejoin="round"/>
<polygon points="393.15,195.60 396.15,200.90 390.15,200.90" fill="none" stroke="#a8721a" stroke-width="1.55" stroke-linejoin="round"/>
<polygon points="400.23,191.09 403.23,196.39 397.23,196.39" fill="none" stroke="#a8721a" stroke-width="1.55" stroke-linejoin="round"/>
<polygon points="407.30,185.67 410.30,190.97 404.30,190.97" fill="none" stroke="#a8721a" stroke-width="1.55" stroke-linejoin="round"/>
<polygon points="414.38,180.26 417.38,185.56 411.38,185.56" fill="none" stroke="#a8721a" stroke-width="1.55" stroke-linejoin="round"/>
<polygon points="421.45,173.94 424.45,179.24 418.45,179.24" fill="none" stroke="#a8721a" stroke-width="1.55" stroke-linejoin="round"/>
<polygon points="428.52,166.36 431.52,171.66 425.52,171.66" fill="none" stroke="#a8721a" stroke-width="1.55" stroke-linejoin="round"/>
<polygon points="435.60,159.86 438.60,165.16 432.60,165.16" fill="none" stroke="#a8721a" stroke-width="1.55" stroke-linejoin="round"/>
<polygon points="442.68,152.28 445.68,157.58 439.68,157.58" fill="none" stroke="#a8721a" stroke-width="1.55" stroke-linejoin="round"/>
<polygon points="449.75,145.96 452.75,151.26 446.75,151.26" fill="none" stroke="#a8721a" stroke-width="1.55" stroke-linejoin="round"/>
<polygon points="456.82,138.74 459.82,144.04 453.82,144.04" fill="none" stroke="#a8721a" stroke-width="1.55" stroke-linejoin="round"/>
<polygon points="463.90,132.06 466.90,137.36 460.90,137.36" fill="none" stroke="#a8721a" stroke-width="1.55" stroke-linejoin="round"/>
<polygon points="470.98,121.59 473.98,126.89 467.98,126.89" fill="none" stroke="#a8721a" stroke-width="1.55" stroke-linejoin="round"/>
<polygon points="478.05,113.47 481.05,118.77 475.05,118.77" fill="none" stroke="#a8721a" stroke-width="1.55" stroke-linejoin="round"/>
<polygon points="485.12,103.18 488.12,108.48 482.12,108.48" fill="none" stroke="#a8721a" stroke-width="1.55" stroke-linejoin="round"/>
<polygon points="492.20,94.52 495.20,99.82 489.20,99.82" fill="none" stroke="#a8721a" stroke-width="1.55" stroke-linejoin="round"/>
<polygon points="499.27,87.30 502.27,92.60 496.27,92.60" fill="none" stroke="#a8721a" stroke-width="1.55" stroke-linejoin="round"/>
<polygon points="506.35,82.78 509.35,88.08 503.35,88.08" fill="none" stroke="#a8721a" stroke-width="1.55" stroke-linejoin="round"/>
<polygon points="513.42,72.86 516.42,78.16 510.42,78.16" fill="none" stroke="#a8721a" stroke-width="1.55" stroke-linejoin="round"/>
<polygon points="520.50,64.19 523.50,69.49 517.50,69.49" fill="none" stroke="#a8721a" stroke-width="1.55" stroke-linejoin="round"/>
<polygon points="527.58,53.90 530.58,59.20 524.58,59.20" fill="none" stroke="#a8721a" stroke-width="1.55" stroke-linejoin="round"/>
<polygon points="534.65,45.78 537.65,51.08 531.65,51.08" fill="none" stroke="#a8721a" stroke-width="1.55" stroke-linejoin="round"/>
<polygon points="449.75,159.32 452.75,164.62 446.75,164.62" fill="none" stroke="#a8721a" stroke-width="1.55" stroke-linejoin="round"/>
<polygon points="456.82,150.84 459.82,156.14 453.82,156.14" fill="none" stroke="#a8721a" stroke-width="1.55" stroke-linejoin="round"/>
<polygon points="463.90,140.73 466.90,146.03 460.90,146.03" fill="none" stroke="#a8721a" stroke-width="1.55" stroke-linejoin="round"/>
<polygon points="470.98,131.16 473.98,136.46 467.98,136.46" fill="none" stroke="#a8721a" stroke-width="1.55" stroke-linejoin="round"/>
<polygon points="478.05,121.59 481.05,126.89 475.05,126.89" fill="none" stroke="#a8721a" stroke-width="1.55" stroke-linejoin="round"/>
<polygon points="485.12,111.48 488.12,116.78 482.12,116.78" fill="none" stroke="#a8721a" stroke-width="1.55" stroke-linejoin="round"/>
<polygon points="492.20,100.84 495.20,106.14 489.20,106.14" fill="none" stroke="#a8721a" stroke-width="1.55" stroke-linejoin="round"/>
<polygon points="499.27,91.27 502.27,96.57 496.27,96.57" fill="none" stroke="#a8721a" stroke-width="1.55" stroke-linejoin="round"/>
<rect x="390.30" y="176.90" width="5.70" height="5.70" fill="none" stroke="#d9541c" stroke-width="1.70"/>
<rect x="397.38" y="172.75" width="5.70" height="5.70" fill="none" stroke="#d9541c" stroke-width="1.70"/>
<rect x="404.45" y="168.41" width="5.70" height="5.70" fill="none" stroke="#d9541c" stroke-width="1.70"/>
<rect x="411.52" y="162.46" width="5.70" height="5.70" fill="none" stroke="#d9541c" stroke-width="1.70"/>
<rect x="418.60" y="156.14" width="5.70" height="5.70" fill="none" stroke="#d9541c" stroke-width="1.70"/>
<rect x="425.67" y="148.56" width="5.70" height="5.70" fill="none" stroke="#d9541c" stroke-width="1.70"/>
<rect x="432.75" y="141.34" width="5.70" height="5.70" fill="none" stroke="#d9541c" stroke-width="1.70"/>
<rect x="439.82" y="134.48" width="5.70" height="5.70" fill="none" stroke="#d9541c" stroke-width="1.70"/>
<rect x="446.90" y="127.26" width="5.70" height="5.70" fill="none" stroke="#d9541c" stroke-width="1.70"/>
<rect x="453.97" y="120.40" width="5.70" height="5.70" fill="none" stroke="#d9541c" stroke-width="1.70"/>
<rect x="461.05" y="112.46" width="5.70" height="5.70" fill="none" stroke="#d9541c" stroke-width="1.70"/>
<rect x="468.12" y="104.70" width="5.70" height="5.70" fill="none" stroke="#d9541c" stroke-width="1.70"/>
<rect x="475.20" y="96.57" width="5.70" height="5.70" fill="none" stroke="#d9541c" stroke-width="1.70"/>
<rect x="482.27" y="88.81" width="5.70" height="5.70" fill="none" stroke="#d9541c" stroke-width="1.70"/>
<rect x="489.35" y="80.69" width="5.70" height="5.70" fill="none" stroke="#d9541c" stroke-width="1.70"/>
<rect x="496.42" y="71.66" width="5.70" height="5.70" fill="none" stroke="#d9541c" stroke-width="1.70"/>
<rect x="503.50" y="63.54" width="5.70" height="5.70" fill="none" stroke="#d9541c" stroke-width="1.70"/>
<rect x="510.57" y="53.61" width="5.70" height="5.70" fill="none" stroke="#d9541c" stroke-width="1.70"/>
<rect x="517.65" y="42.42" width="5.70" height="5.70" fill="none" stroke="#d9541c" stroke-width="1.70"/>
<rect x="524.73" y="31.59" width="5.70" height="5.70" fill="none" stroke="#d9541c" stroke-width="1.70"/>
<rect x="531.80" y="20.40" width="5.70" height="5.70" fill="none" stroke="#d9541c" stroke-width="1.70"/>
<circle cx="393.15" cy="175.23" r="2.75" fill="none" stroke="#ff1010" stroke-width="1.75"/>
<circle cx="400.23" cy="171.62" r="2.75" fill="none" stroke="#ff1010" stroke-width="1.75"/>
<circle cx="407.30" cy="167.65" r="2.75" fill="none" stroke="#ff1010" stroke-width="1.75"/>
<circle cx="414.38" cy="163.50" r="2.75" fill="none" stroke="#ff1010" stroke-width="1.75"/>
<circle cx="421.45" cy="157.55" r="2.75" fill="none" stroke="#ff1010" stroke-width="1.75"/>
<circle cx="428.52" cy="150.32" r="2.75" fill="none" stroke="#ff1010" stroke-width="1.75"/>
<circle cx="435.60" cy="143.65" r="2.75" fill="none" stroke="#ff1010" stroke-width="1.75"/>
<circle cx="442.68" cy="136.97" r="2.75" fill="none" stroke="#ff1010" stroke-width="1.75"/>
<circle cx="449.75" cy="129.75" r="2.75" fill="none" stroke="#ff1010" stroke-width="1.75"/>
<circle cx="456.82" cy="122.89" r="2.75" fill="none" stroke="#ff1010" stroke-width="1.75"/>
<circle cx="463.90" cy="114.77" r="2.75" fill="none" stroke="#ff1010" stroke-width="1.75"/>
<circle cx="470.98" cy="107.00" r="2.75" fill="none" stroke="#ff1010" stroke-width="1.75"/>
<circle cx="478.05" cy="99.06" r="2.75" fill="none" stroke="#ff1010" stroke-width="1.75"/>
<circle cx="485.12" cy="91.30" r="2.75" fill="none" stroke="#ff1010" stroke-width="1.75"/>
<circle cx="492.20" cy="83.18" r="2.75" fill="none" stroke="#ff1010" stroke-width="1.75"/>
<circle cx="499.27" cy="74.15" r="2.75" fill="none" stroke="#ff1010" stroke-width="1.75"/>
<circle cx="506.35" cy="66.03" r="2.75" fill="none" stroke="#ff1010" stroke-width="1.75"/>
<circle cx="513.42" cy="56.10" r="2.75" fill="none" stroke="#ff1010" stroke-width="1.75"/>
<circle cx="520.50" cy="46.71" r="2.75" fill="none" stroke="#ff1010" stroke-width="1.75"/>
<circle cx="527.58" cy="35.88" r="2.75" fill="none" stroke="#ff1010" stroke-width="1.75"/>
<polygon points="674.95,421.87 680.55,421.87 674.95,427.87 680.55,427.87" fill="none" stroke="#ff10e0" stroke-width="1.70" stroke-linejoin="round"/>
<polygon points="682.03,420.07 687.62,420.07 682.03,426.07 687.62,426.07" fill="none" stroke="#ff10e0" stroke-width="1.70" stroke-linejoin="round"/>
<polygon points="689.10,415.92 694.70,415.92 689.10,421.92 694.70,421.92" fill="none" stroke="#ff10e0" stroke-width="1.70" stroke-linejoin="round"/>
<polygon points="696.18,413.57 701.77,413.57 696.18,419.57 701.77,419.57" fill="none" stroke="#ff10e0" stroke-width="1.70" stroke-linejoin="round"/>
<polygon points="703.25,405.99 708.85,405.99 703.25,411.99 708.85,411.99" fill="none" stroke="#ff10e0" stroke-width="1.70" stroke-linejoin="round"/>
<polygon points="710.33,402.74 715.92,402.74 710.33,408.74 715.92,408.74" fill="none" stroke="#ff10e0" stroke-width="1.70" stroke-linejoin="round"/>
<polygon points="717.40,400.94 723.00,400.94 717.40,406.94 723.00,406.94" fill="none" stroke="#ff10e0" stroke-width="1.70" stroke-linejoin="round"/>
<polygon points="724.48,400.94 730.07,400.94 724.48,406.94 730.07,406.94" fill="none" stroke="#ff10e0" stroke-width="1.70" stroke-linejoin="round"/>
<polygon points="731.55,401.48 737.15,401.48 731.55,407.48 737.15,407.48" fill="none" stroke="#ff10e0" stroke-width="1.70" stroke-linejoin="round"/>
<polygon points="738.63,400.21 744.23,400.21 738.63,406.21 744.23,406.21" fill="none" stroke="#ff10e0" stroke-width="1.70" stroke-linejoin="round"/>
<polygon points="745.70,396.96 751.30,396.96 745.70,402.96 751.30,402.96" fill="none" stroke="#ff10e0" stroke-width="1.70" stroke-linejoin="round"/>
<polygon points="752.78,393.35 758.38,393.35 752.78,399.35 758.38,399.35" fill="none" stroke="#ff10e0" stroke-width="1.70" stroke-linejoin="round"/>
<polygon points="759.85,389.38 765.45,389.38 759.85,395.38 765.45,395.38" fill="none" stroke="#ff10e0" stroke-width="1.70" stroke-linejoin="round"/>
<polygon points="766.93,384.33 772.52,384.33 766.93,390.33 772.52,390.33" fill="none" stroke="#ff10e0" stroke-width="1.70" stroke-linejoin="round"/>
<polygon points="774.00,378.91 779.60,378.91 774.00,384.91 779.60,384.91" fill="none" stroke="#ff10e0" stroke-width="1.70" stroke-linejoin="round"/>
<polygon points="781.08,373.50 786.67,373.50 781.08,379.50 786.67,379.50" fill="none" stroke="#ff10e0" stroke-width="1.70" stroke-linejoin="round"/>
<polygon points="788.15,368.08 793.75,368.08 788.15,374.08 793.75,374.08" fill="none" stroke="#ff10e0" stroke-width="1.70" stroke-linejoin="round"/>
<polygon points="795.23,361.77 800.83,361.77 795.23,367.77 800.83,367.77" fill="none" stroke="#ff10e0" stroke-width="1.70" stroke-linejoin="round"/>
<polygon points="802.30,355.09 807.90,355.09 802.30,361.09 807.90,361.09" fill="none" stroke="#ff10e0" stroke-width="1.70" stroke-linejoin="round"/>
<polygon points="809.38,347.87 814.97,347.87 809.38,353.87 814.97,353.87" fill="none" stroke="#ff10e0" stroke-width="1.70" stroke-linejoin="round"/>
<polygon points="816.45,340.10 822.05,340.10 816.45,346.10 822.05,346.10" fill="none" stroke="#ff10e0" stroke-width="1.70" stroke-linejoin="round"/>
<polygon points="674.75,393.45 680.75,399.25 680.75,393.45 674.75,399.25" fill="none" stroke="#7018e0" stroke-width="1.65" stroke-linejoin="round"/>
<polygon points="681.83,391.65 687.83,397.45 687.83,391.65 681.83,397.45" fill="none" stroke="#7018e0" stroke-width="1.65" stroke-linejoin="round"/>
<polygon points="688.90,389.48 694.90,395.28 694.90,389.48 688.90,395.28" fill="none" stroke="#7018e0" stroke-width="1.65" stroke-linejoin="round"/>
<polygon points="695.98,387.14 701.98,392.94 701.98,387.14 695.98,392.94" fill="none" stroke="#7018e0" stroke-width="1.65" stroke-linejoin="round"/>
<polygon points="703.05,385.33 709.05,391.13 709.05,385.33 703.05,391.13" fill="none" stroke="#7018e0" stroke-width="1.65" stroke-linejoin="round"/>
<polygon points="710.12,383.53 716.12,389.33 716.12,383.53 710.12,389.33" fill="none" stroke="#7018e0" stroke-width="1.65" stroke-linejoin="round"/>
<polygon points="717.20,382.26 723.20,388.06 723.20,382.26 717.20,388.06" fill="none" stroke="#7018e0" stroke-width="1.65" stroke-linejoin="round"/>
<polygon points="724.27,382.26 730.27,388.06 730.27,382.26 724.27,388.06" fill="none" stroke="#7018e0" stroke-width="1.65" stroke-linejoin="round"/>
<polygon points="731.35,381.18 737.35,386.98 737.35,381.18 731.35,386.98" fill="none" stroke="#7018e0" stroke-width="1.65" stroke-linejoin="round"/>
<polygon points="738.43,379.92 744.43,385.72 744.43,379.92 738.43,385.72" fill="none" stroke="#7018e0" stroke-width="1.65" stroke-linejoin="round"/>
<polygon points="745.50,377.57 751.50,383.37 751.50,377.57 745.50,383.37" fill="none" stroke="#7018e0" stroke-width="1.65" stroke-linejoin="round"/>
<polygon points="752.58,374.50 758.58,380.30 758.58,374.50 752.58,380.30" fill="none" stroke="#7018e0" stroke-width="1.65" stroke-linejoin="round"/>
<polygon points="759.65,369.99 765.65,375.79 765.65,369.99 759.65,375.79" fill="none" stroke="#7018e0" stroke-width="1.65" stroke-linejoin="round"/>
<polygon points="766.73,366.02 772.73,371.82 772.73,366.02 766.73,371.82" fill="none" stroke="#7018e0" stroke-width="1.65" stroke-linejoin="round"/>
<polygon points="773.80,361.87 779.80,367.67 779.80,361.87 773.80,367.67" fill="none" stroke="#7018e0" stroke-width="1.65" stroke-linejoin="round"/>
<polygon points="780.88,356.45 786.88,362.25 786.88,356.45 780.88,362.25" fill="none" stroke="#7018e0" stroke-width="1.65" stroke-linejoin="round"/>
<polygon points="787.95,351.04 793.95,356.84 793.95,351.04 787.95,356.84" fill="none" stroke="#7018e0" stroke-width="1.65" stroke-linejoin="round"/>
<polygon points="795.03,346.52 801.03,352.32 801.03,346.52 795.03,352.32" fill="none" stroke="#7018e0" stroke-width="1.65" stroke-linejoin="round"/>
<polygon points="802.10,341.11 808.10,346.91 808.10,341.11 802.10,346.91" fill="none" stroke="#7018e0" stroke-width="1.65" stroke-linejoin="round"/>
<polygon points="809.17,335.69 815.17,341.49 815.17,335.69 809.17,341.49" fill="none" stroke="#7018e0" stroke-width="1.65" stroke-linejoin="round"/>
<polygon points="816.25,329.37 822.25,335.17 822.25,329.37 816.25,335.17" fill="none" stroke="#7018e0" stroke-width="1.65" stroke-linejoin="round"/>
<polygon points="677.75,350.14 681.55,353.94 677.75,357.74 673.95,353.94" fill="none" stroke="#1040ff" stroke-width="1.35" stroke-linejoin="round"/>
<polygon points="684.83,347.07 688.62,350.87 684.83,354.67 681.03,350.87" fill="none" stroke="#1040ff" stroke-width="1.35" stroke-linejoin="round"/>
<polygon points="691.90,344.72 695.70,348.52 691.90,352.32 688.10,348.52" fill="none" stroke="#1040ff" stroke-width="1.35" stroke-linejoin="round"/>
<polygon points="698.98,342.01 702.77,345.81 698.98,349.61 695.18,345.81" fill="none" stroke="#1040ff" stroke-width="1.35" stroke-linejoin="round"/>
<polygon points="706.05,340.57 709.85,344.37 706.05,348.17 702.25,344.37" fill="none" stroke="#1040ff" stroke-width="1.35" stroke-linejoin="round"/>
<polygon points="713.12,341.11 716.92,344.91 713.12,348.71 709.33,344.91" fill="none" stroke="#1040ff" stroke-width="1.35" stroke-linejoin="round"/>
<polygon points="720.20,342.91 724.00,346.71 720.20,350.51 716.40,346.71" fill="none" stroke="#1040ff" stroke-width="1.35" stroke-linejoin="round"/>
<polygon points="727.27,343.82 731.07,347.62 727.27,351.42 723.48,347.62" fill="none" stroke="#1040ff" stroke-width="1.35" stroke-linejoin="round"/>
<polygon points="734.35,342.01 738.15,345.81 734.35,349.61 730.55,345.81" fill="none" stroke="#1040ff" stroke-width="1.35" stroke-linejoin="round"/>
<polygon points="741.43,340.21 745.23,344.01 741.43,347.81 737.63,344.01" fill="none" stroke="#1040ff" stroke-width="1.35" stroke-linejoin="round"/>
<polygon points="748.50,336.60 752.30,340.40 748.50,344.20 744.70,340.40" fill="none" stroke="#1040ff" stroke-width="1.35" stroke-linejoin="round"/>
<polygon points="755.58,332.99 759.38,336.79 755.58,340.59 751.78,336.79" fill="none" stroke="#1040ff" stroke-width="1.35" stroke-linejoin="round"/>
<polygon points="762.65,329.38 766.45,333.18 762.65,336.98 758.85,333.18" fill="none" stroke="#1040ff" stroke-width="1.35" stroke-linejoin="round"/>
<polygon points="769.73,325.77 773.52,329.57 769.73,333.37 765.93,329.57" fill="none" stroke="#1040ff" stroke-width="1.35" stroke-linejoin="round"/>
<polygon points="776.80,321.25 780.60,325.05 776.80,328.85 773.00,325.05" fill="none" stroke="#1040ff" stroke-width="1.35" stroke-linejoin="round"/>
<polygon points="783.88,315.84 787.67,319.64 783.88,323.44 780.08,319.64" fill="none" stroke="#1040ff" stroke-width="1.35" stroke-linejoin="round"/>
<polygon points="790.95,310.42 794.75,314.22 790.95,318.02 787.15,314.22" fill="none" stroke="#1040ff" stroke-width="1.35" stroke-linejoin="round"/>
<polygon points="798.03,305.01 801.83,308.81 798.03,312.61 794.23,308.81" fill="none" stroke="#1040ff" stroke-width="1.35" stroke-linejoin="round"/>
<polygon points="805.10,298.69 808.90,302.49 805.10,306.29 801.30,302.49" fill="none" stroke="#1040ff" stroke-width="1.35" stroke-linejoin="round"/>
<polygon points="812.17,292.37 815.97,296.17 812.17,299.97 808.38,296.17" fill="none" stroke="#1040ff" stroke-width="1.35" stroke-linejoin="round"/>
<polygon points="819.25,285.69 823.05,289.49 819.25,293.29 815.45,289.49" fill="none" stroke="#1040ff" stroke-width="1.35" stroke-linejoin="round"/>
<polygon points="677.75,321.35 679.55,325.05 677.75,328.75 675.95,325.05" fill="none" stroke="#2890d4" stroke-width="1.40" stroke-linejoin="round"/>
<polygon points="684.83,318.65 686.62,322.35 684.83,326.05 683.03,322.35" fill="none" stroke="#2890d4" stroke-width="1.40" stroke-linejoin="round"/>
<polygon points="691.90,316.48 693.70,320.18 691.90,323.88 690.10,320.18" fill="none" stroke="#2890d4" stroke-width="1.40" stroke-linejoin="round"/>
<polygon points="698.98,315.04 700.77,318.74 698.98,322.44 697.18,318.74" fill="none" stroke="#2890d4" stroke-width="1.40" stroke-linejoin="round"/>
<polygon points="706.05,314.68 707.85,318.38 706.05,322.08 704.25,318.38" fill="none" stroke="#2890d4" stroke-width="1.40" stroke-linejoin="round"/>
<polygon points="713.12,315.94 714.92,319.64 713.12,323.34 711.33,319.64" fill="none" stroke="#2890d4" stroke-width="1.40" stroke-linejoin="round"/>
<polygon points="720.20,315.40 722.00,319.10 720.20,322.80 718.40,319.10" fill="none" stroke="#2890d4" stroke-width="1.40" stroke-linejoin="round"/>
<polygon points="727.27,314.13 729.07,317.83 727.27,321.53 725.48,317.83" fill="none" stroke="#2890d4" stroke-width="1.40" stroke-linejoin="round"/>
<polygon points="734.35,312.33 736.15,316.03 734.35,319.73 732.55,316.03" fill="none" stroke="#2890d4" stroke-width="1.40" stroke-linejoin="round"/>
<polygon points="741.43,309.62 743.23,313.32 741.43,317.02 739.63,313.32" fill="none" stroke="#2890d4" stroke-width="1.40" stroke-linejoin="round"/>
<polygon points="748.50,306.37 750.30,310.07 748.50,313.77 746.70,310.07" fill="none" stroke="#2890d4" stroke-width="1.40" stroke-linejoin="round"/>
<polygon points="755.58,302.40 757.38,306.10 755.58,309.80 753.78,306.10" fill="none" stroke="#2890d4" stroke-width="1.40" stroke-linejoin="round"/>
<polygon points="762.65,299.69 764.45,303.39 762.65,307.09 760.85,303.39" fill="none" stroke="#2890d4" stroke-width="1.40" stroke-linejoin="round"/>
<polygon points="769.73,296.08 771.52,299.78 769.73,303.48 767.93,299.78" fill="none" stroke="#2890d4" stroke-width="1.40" stroke-linejoin="round"/>
<polygon points="776.80,291.57 778.60,295.27 776.80,298.97 775.00,295.27" fill="none" stroke="#2890d4" stroke-width="1.40" stroke-linejoin="round"/>
<polygon points="783.88,285.25 785.67,288.95 783.88,292.65 782.08,288.95" fill="none" stroke="#2890d4" stroke-width="1.40" stroke-linejoin="round"/>
<polygon points="790.95,279.84 792.75,283.54 790.95,287.24 789.15,283.54" fill="none" stroke="#2890d4" stroke-width="1.40" stroke-linejoin="round"/>
<polygon points="798.03,275.33 799.83,279.03 798.03,282.73 796.23,279.03" fill="none" stroke="#2890d4" stroke-width="1.40" stroke-linejoin="round"/>
<polygon points="805.10,269.91 806.90,273.61 805.10,277.31 803.30,273.61" fill="none" stroke="#2890d4" stroke-width="1.40" stroke-linejoin="round"/>
<polygon points="812.17,262.33 813.97,266.03 812.17,269.73 810.38,266.03" fill="none" stroke="#2890d4" stroke-width="1.40" stroke-linejoin="round"/>
<polygon points="819.25,253.66 821.05,257.36 819.25,261.06 817.45,257.36" fill="none" stroke="#2890d4" stroke-width="1.40" stroke-linejoin="round"/>
<polygon points="673.65,300.29 677.75,298.19 681.85,300.29 677.75,302.39" fill="none" stroke="#10a0a0" stroke-width="1.40" stroke-linejoin="round"/>
<polygon points="680.73,298.84 684.83,296.74 688.93,298.84 684.83,300.94" fill="none" stroke="#10a0a0" stroke-width="1.40" stroke-linejoin="round"/>
<polygon points="687.80,297.04 691.90,294.94 696.00,297.04 691.90,299.14" fill="none" stroke="#10a0a0" stroke-width="1.40" stroke-linejoin="round"/>
<polygon points="694.88,295.60 698.98,293.50 703.08,295.60 698.98,297.70" fill="none" stroke="#10a0a0" stroke-width="1.40" stroke-linejoin="round"/>
<polygon points="701.95,297.04 706.05,294.94 710.15,297.04 706.05,299.14" fill="none" stroke="#10a0a0" stroke-width="1.40" stroke-linejoin="round"/>
<polygon points="709.02,298.48 713.12,296.38 717.23,298.48 713.12,300.58" fill="none" stroke="#10a0a0" stroke-width="1.40" stroke-linejoin="round"/>
<polygon points="716.10,297.04 720.20,294.94 724.30,297.04 720.20,299.14" fill="none" stroke="#10a0a0" stroke-width="1.40" stroke-linejoin="round"/>
<polygon points="723.17,294.33 727.27,292.23 731.38,294.33 727.27,296.43" fill="none" stroke="#10a0a0" stroke-width="1.40" stroke-linejoin="round"/>
<polygon points="730.25,291.62 734.35,289.52 738.45,291.62 734.35,293.72" fill="none" stroke="#10a0a0" stroke-width="1.40" stroke-linejoin="round"/>
<polygon points="737.33,289.46 741.43,287.36 745.53,289.46 741.43,291.56" fill="none" stroke="#10a0a0" stroke-width="1.40" stroke-linejoin="round"/>
<polygon points="744.40,286.57 748.50,284.47 752.60,286.57 748.50,288.67" fill="none" stroke="#10a0a0" stroke-width="1.40" stroke-linejoin="round"/>
<polygon points="751.48,282.60 755.58,280.50 759.68,282.60 755.58,284.70" fill="none" stroke="#10a0a0" stroke-width="1.40" stroke-linejoin="round"/>
<polygon points="758.55,278.09 762.65,275.99 766.75,278.09 762.65,280.19" fill="none" stroke="#10a0a0" stroke-width="1.40" stroke-linejoin="round"/>
<polygon points="765.62,272.67 769.73,270.57 773.83,272.67 769.73,274.77" fill="none" stroke="#10a0a0" stroke-width="1.40" stroke-linejoin="round"/>
<polygon points="772.70,267.26 776.80,265.16 780.90,267.26 776.80,269.36" fill="none" stroke="#10a0a0" stroke-width="1.40" stroke-linejoin="round"/>
<polygon points="779.77,260.58 783.88,258.48 787.98,260.58 783.88,262.68" fill="none" stroke="#10a0a0" stroke-width="1.40" stroke-linejoin="round"/>
<polygon points="786.85,255.16 790.95,253.06 795.05,255.16 790.95,257.26" fill="none" stroke="#10a0a0" stroke-width="1.40" stroke-linejoin="round"/>
<polygon points="793.93,249.21 798.03,247.11 802.13,249.21 798.03,251.31" fill="none" stroke="#10a0a0" stroke-width="1.40" stroke-linejoin="round"/>
<polygon points="801.00,242.53 805.10,240.43 809.20,242.53 805.10,244.63" fill="none" stroke="#10a0a0" stroke-width="1.40" stroke-linejoin="round"/>
<polygon points="808.07,236.57 812.17,234.47 816.27,236.57 812.17,238.67" fill="none" stroke="#10a0a0" stroke-width="1.40" stroke-linejoin="round"/>
<polygon points="815.15,228.45 819.25,226.35 823.35,228.45 819.25,230.55" fill="none" stroke="#10a0a0" stroke-width="1.40" stroke-linejoin="round"/>
<polygon points="680.85,293.79 675.55,296.79 675.55,290.79" fill="none" stroke="#14a058" stroke-width="1.55" stroke-linejoin="round"/>
<polygon points="687.93,291.62 682.62,294.62 682.62,288.62" fill="none" stroke="#14a058" stroke-width="1.55" stroke-linejoin="round"/>
<polygon points="695.00,289.82 689.70,292.82 689.70,286.82" fill="none" stroke="#14a058" stroke-width="1.55" stroke-linejoin="round"/>
<polygon points="702.08,289.82 696.77,292.82 696.77,286.82" fill="none" stroke="#14a058" stroke-width="1.55" stroke-linejoin="round"/>
<polygon points="709.15,290.72 703.85,293.72 703.85,287.72" fill="none" stroke="#14a058" stroke-width="1.55" stroke-linejoin="round"/>
<polygon points="716.23,292.53 710.92,295.53 710.92,289.53" fill="none" stroke="#14a058" stroke-width="1.55" stroke-linejoin="round"/>
<polygon points="723.30,289.82 718.00,292.82 718.00,286.82" fill="none" stroke="#14a058" stroke-width="1.55" stroke-linejoin="round"/>
<polygon points="730.38,287.11 725.07,290.11 725.07,284.11" fill="none" stroke="#14a058" stroke-width="1.55" stroke-linejoin="round"/>
<polygon points="737.45,283.50 732.15,286.50 732.15,280.50" fill="none" stroke="#14a058" stroke-width="1.55" stroke-linejoin="round"/>
<polygon points="744.53,279.89 739.23,282.89 739.23,276.89" fill="none" stroke="#14a058" stroke-width="1.55" stroke-linejoin="round"/>
<polygon points="751.60,274.48 746.30,277.48 746.30,271.48" fill="none" stroke="#14a058" stroke-width="1.55" stroke-linejoin="round"/>
<polygon points="758.68,269.60 753.38,272.60 753.38,266.60" fill="none" stroke="#14a058" stroke-width="1.55" stroke-linejoin="round"/>
<polygon points="765.75,264.19 760.45,267.19 760.45,261.19" fill="none" stroke="#14a058" stroke-width="1.55" stroke-linejoin="round"/>
<polygon points="772.83,259.13 767.52,262.13 767.52,256.13" fill="none" stroke="#14a058" stroke-width="1.55" stroke-linejoin="round"/>
<polygon points="779.90,253.72 774.60,256.72 774.60,250.72" fill="none" stroke="#14a058" stroke-width="1.55" stroke-linejoin="round"/>
<polygon points="786.98,247.94 781.67,250.94 781.67,244.94" fill="none" stroke="#14a058" stroke-width="1.55" stroke-linejoin="round"/>
<polygon points="794.05,241.99 788.75,244.99 788.75,238.99" fill="none" stroke="#14a058" stroke-width="1.55" stroke-linejoin="round"/>
<polygon points="801.13,235.67 795.83,238.67 795.83,232.67" fill="none" stroke="#14a058" stroke-width="1.55" stroke-linejoin="round"/>
<polygon points="808.20,229.35 802.90,232.35 802.90,226.35" fill="none" stroke="#14a058" stroke-width="1.55" stroke-linejoin="round"/>
<polygon points="815.27,223.03 809.97,226.03 809.97,220.03" fill="none" stroke="#14a058" stroke-width="1.55" stroke-linejoin="round"/>
<polygon points="822.35,215.81 817.05,218.81 817.05,212.81" fill="none" stroke="#14a058" stroke-width="1.55" stroke-linejoin="round"/>
<polygon points="674.65,228.09 679.95,231.09 679.95,225.09" fill="none" stroke="#52a01a" stroke-width="1.55" stroke-linejoin="round"/>
<polygon points="681.73,226.28 687.03,229.28 687.03,223.28" fill="none" stroke="#52a01a" stroke-width="1.55" stroke-linejoin="round"/>
<polygon points="688.80,224.84 694.10,227.84 694.10,221.84" fill="none" stroke="#52a01a" stroke-width="1.55" stroke-linejoin="round"/>
<polygon points="695.88,223.94 701.18,226.94 701.18,220.94" fill="none" stroke="#52a01a" stroke-width="1.55" stroke-linejoin="round"/>
<polygon points="702.95,227.00 708.25,230.00 708.25,224.00" fill="none" stroke="#52a01a" stroke-width="1.55" stroke-linejoin="round"/>
<polygon points="710.02,228.45 715.33,231.45 715.33,225.45" fill="none" stroke="#52a01a" stroke-width="1.55" stroke-linejoin="round"/>
<polygon points="717.10,228.09 722.40,231.09 722.40,225.09" fill="none" stroke="#52a01a" stroke-width="1.55" stroke-linejoin="round"/>
<polygon points="724.17,227.00 729.48,230.00 729.48,224.00" fill="none" stroke="#52a01a" stroke-width="1.55" stroke-linejoin="round"/>
<polygon points="731.25,223.94 736.55,226.94 736.55,220.94" fill="none" stroke="#52a01a" stroke-width="1.55" stroke-linejoin="round"/>
<polygon points="738.33,220.32 743.63,223.32 743.63,217.32" fill="none" stroke="#52a01a" stroke-width="1.55" stroke-linejoin="round"/>
<polygon points="745.40,215.81 750.70,218.81 750.70,212.81" fill="none" stroke="#52a01a" stroke-width="1.55" stroke-linejoin="round"/>
<polygon points="752.48,211.30 757.78,214.30 757.78,208.30" fill="none" stroke="#52a01a" stroke-width="1.55" stroke-linejoin="round"/>
<polygon points="759.55,205.88 764.85,208.88 764.85,202.88" fill="none" stroke="#52a01a" stroke-width="1.55" stroke-linejoin="round"/>
<polygon points="766.62,200.47 771.93,203.47 771.93,197.47" fill="none" stroke="#52a01a" stroke-width="1.55" stroke-linejoin="round"/>
<polygon points="773.70,195.96 779.00,198.96 779.00,192.96" fill="none" stroke="#52a01a" stroke-width="1.55" stroke-linejoin="round"/>
<polygon points="780.77,190.54 786.08,193.54 786.08,187.54" fill="none" stroke="#52a01a" stroke-width="1.55" stroke-linejoin="round"/>
<polygon points="787.85,184.77 793.15,187.77 793.15,181.77" fill="none" stroke="#52a01a" stroke-width="1.55" stroke-linejoin="round"/>
<polygon points="794.93,179.35 800.23,182.35 800.23,176.35" fill="none" stroke="#52a01a" stroke-width="1.55" stroke-linejoin="round"/>
<polygon points="802.00,173.39 807.30,176.39 807.30,170.39" fill="none" stroke="#52a01a" stroke-width="1.55" stroke-linejoin="round"/>
<polygon points="809.07,167.08 814.38,170.08 814.38,164.08" fill="none" stroke="#52a01a" stroke-width="1.55" stroke-linejoin="round"/>
<polygon points="816.15,159.86 821.45,162.86 821.45,156.86" fill="none" stroke="#52a01a" stroke-width="1.55" stroke-linejoin="round"/>
<polygon points="677.75,221.62 680.75,216.32 674.75,216.32" fill="none" stroke="#a8a81c" stroke-width="1.55" stroke-linejoin="round"/>
<polygon points="684.83,218.91 687.83,213.61 681.83,213.61" fill="none" stroke="#a8a81c" stroke-width="1.55" stroke-linejoin="round"/>
<polygon points="691.90,217.11 694.90,211.81 688.90,211.81" fill="none" stroke="#a8a81c" stroke-width="1.55" stroke-linejoin="round"/>
<polygon points="698.98,216.20 701.98,210.90 695.98,210.90" fill="none" stroke="#a8a81c" stroke-width="1.55" stroke-linejoin="round"/>
<polygon points="706.05,221.08 709.05,215.78 703.05,215.78" fill="none" stroke="#a8a81c" stroke-width="1.55" stroke-linejoin="round"/>
<polygon points="713.12,218.91 716.12,213.61 710.12,213.61" fill="none" stroke="#a8a81c" stroke-width="1.55" stroke-linejoin="round"/>
<polygon points="720.20,215.66 723.20,210.36 717.20,210.36" fill="none" stroke="#a8a81c" stroke-width="1.55" stroke-linejoin="round"/>
<polygon points="727.27,211.69 730.27,206.39 724.27,206.39" fill="none" stroke="#a8a81c" stroke-width="1.55" stroke-linejoin="round"/>
<polygon points="734.35,207.72 737.35,202.42 731.35,202.42" fill="none" stroke="#a8a81c" stroke-width="1.55" stroke-linejoin="round"/>
<polygon points="741.43,202.67 744.43,197.37 738.43,197.37" fill="none" stroke="#a8a81c" stroke-width="1.55" stroke-linejoin="round"/>
<polygon points="748.50,197.25 751.50,191.95 745.50,191.95" fill="none" stroke="#a8a81c" stroke-width="1.55" stroke-linejoin="round"/>
<polygon points="755.58,192.20 758.58,186.90 752.58,186.90" fill="none" stroke="#a8a81c" stroke-width="1.55" stroke-linejoin="round"/>
<polygon points="762.65,186.06 765.65,180.76 759.65,180.76" fill="none" stroke="#a8a81c" stroke-width="1.55" stroke-linejoin="round"/>
<polygon points="769.73,180.10 772.73,174.80 766.73,174.80" fill="none" stroke="#a8a81c" stroke-width="1.55" stroke-linejoin="round"/>
<polygon points="776.80,173.24 779.80,167.94 773.80,167.94" fill="none" stroke="#a8a81c" stroke-width="1.55" stroke-linejoin="round"/>
<polygon points="783.88,167.11 786.88,161.81 780.88,161.81" fill="none" stroke="#a8a81c" stroke-width="1.55" stroke-linejoin="round"/>
<polygon points="790.95,161.15 793.95,155.85 787.95,155.85" fill="none" stroke="#a8a81c" stroke-width="1.55" stroke-linejoin="round"/>
<polygon points="798.03,155.19 801.03,149.89 795.03,149.89" fill="none" stroke="#a8a81c" stroke-width="1.55" stroke-linejoin="round"/>
<polygon points="805.10,149.06 808.10,143.76 802.10,143.76" fill="none" stroke="#a8a81c" stroke-width="1.55" stroke-linejoin="round"/>
<polygon points="812.17,142.20 815.17,136.90 809.17,136.90" fill="none" stroke="#a8a81c" stroke-width="1.55" stroke-linejoin="round"/>
<polygon points="819.25,135.34 822.25,130.04 816.25,130.04" fill="none" stroke="#a8a81c" stroke-width="1.55" stroke-linejoin="round"/>
<polygon points="677.75,171.77 680.75,177.07 674.75,177.07" fill="none" stroke="#a8721a" stroke-width="1.55" stroke-linejoin="round"/>
<polygon points="684.83,168.52 687.83,173.82 681.83,173.82" fill="none" stroke="#a8721a" stroke-width="1.55" stroke-linejoin="round"/>
<polygon points="691.90,166.36 694.90,171.66 688.90,171.66" fill="none" stroke="#a8721a" stroke-width="1.55" stroke-linejoin="round"/>
<polygon points="698.98,164.55 701.98,169.85 695.98,169.85" fill="none" stroke="#a8721a" stroke-width="1.55" stroke-linejoin="round"/>
<polygon points="706.05,162.21 709.05,167.51 703.05,167.51" fill="none" stroke="#a8721a" stroke-width="1.55" stroke-linejoin="round"/>
<polygon points="713.12,169.43 716.12,174.73 710.12,174.73" fill="none" stroke="#a8721a" stroke-width="1.55" stroke-linejoin="round"/>
<polygon points="720.20,171.23 723.20,176.53 717.20,176.53" fill="none" stroke="#a8721a" stroke-width="1.55" stroke-linejoin="round"/>
<polygon points="727.27,166.36 730.27,171.66 724.27,171.66" fill="none" stroke="#a8721a" stroke-width="1.55" stroke-linejoin="round"/>
<polygon points="734.35,161.30 737.35,166.60 731.35,166.60" fill="none" stroke="#a8721a" stroke-width="1.55" stroke-linejoin="round"/>
<polygon points="741.43,154.99 744.43,160.29 738.43,160.29" fill="none" stroke="#a8721a" stroke-width="1.55" stroke-linejoin="round"/>
<polygon points="748.50,148.31 751.50,153.61 745.50,153.61" fill="none" stroke="#a8721a" stroke-width="1.55" stroke-linejoin="round"/>
<polygon points="755.58,142.35 758.58,147.65 752.58,147.65" fill="none" stroke="#a8721a" stroke-width="1.55" stroke-linejoin="round"/>
<polygon points="762.65,135.13 765.65,140.43 759.65,140.43" fill="none" stroke="#a8721a" stroke-width="1.55" stroke-linejoin="round"/>
<polygon points="769.73,130.62 772.73,135.92 766.73,135.92" fill="none" stroke="#a8721a" stroke-width="1.55" stroke-linejoin="round"/>
<polygon points="776.80,121.23 779.80,126.53 773.80,126.53" fill="none" stroke="#a8721a" stroke-width="1.55" stroke-linejoin="round"/>
<polygon points="783.88,114.01 786.88,119.31 780.88,119.31" fill="none" stroke="#a8721a" stroke-width="1.55" stroke-linejoin="round"/>
<polygon points="790.95,104.45 793.95,109.75 787.95,109.75" fill="none" stroke="#a8721a" stroke-width="1.55" stroke-linejoin="round"/>
<polygon points="734.35,180.26 737.35,185.56 731.35,185.56" fill="none" stroke="#a8721a" stroke-width="1.55" stroke-linejoin="round"/>
<polygon points="741.43,174.84 744.43,180.14 738.43,180.14" fill="none" stroke="#a8721a" stroke-width="1.55" stroke-linejoin="round"/>
<polygon points="748.50,168.16 751.50,173.46 745.50,173.46" fill="none" stroke="#a8721a" stroke-width="1.55" stroke-linejoin="round"/>
<polygon points="755.58,160.40 758.58,165.70 752.58,165.70" fill="none" stroke="#a8721a" stroke-width="1.55" stroke-linejoin="round"/>
<polygon points="762.65,151.92 765.65,157.22 759.65,157.22" fill="none" stroke="#a8721a" stroke-width="1.55" stroke-linejoin="round"/>
<polygon points="769.73,144.70 772.73,150.00 766.73,150.00" fill="none" stroke="#a8721a" stroke-width="1.55" stroke-linejoin="round"/>
<polygon points="776.80,136.94 779.80,142.24 773.80,142.24" fill="none" stroke="#a8721a" stroke-width="1.55" stroke-linejoin="round"/>
<polygon points="783.88,129.17 786.88,134.47 780.88,134.47" fill="none" stroke="#a8721a" stroke-width="1.55" stroke-linejoin="round"/>
<polygon points="790.95,121.95 793.95,127.25 787.95,127.25" fill="none" stroke="#a8721a" stroke-width="1.55" stroke-linejoin="round"/>
<polygon points="798.03,116.18 801.03,121.48 795.03,121.48" fill="none" stroke="#a8721a" stroke-width="1.55" stroke-linejoin="round"/>
<polygon points="805.10,109.86 808.10,115.16 802.10,115.16" fill="none" stroke="#a8721a" stroke-width="1.55" stroke-linejoin="round"/>
<polygon points="812.17,103.54 815.17,108.84 809.17,108.84" fill="none" stroke="#a8721a" stroke-width="1.55" stroke-linejoin="round"/>
<polygon points="819.25,97.22 822.25,102.52 816.25,102.52" fill="none" stroke="#a8721a" stroke-width="1.55" stroke-linejoin="round"/>
<rect x="674.90" y="119.14" width="5.70" height="5.70" fill="none" stroke="#d9541c" stroke-width="1.70"/>
<rect x="681.98" y="116.79" width="5.70" height="5.70" fill="none" stroke="#d9541c" stroke-width="1.70"/>
<rect x="689.05" y="113.72" width="5.70" height="5.70" fill="none" stroke="#d9541c" stroke-width="1.70"/>
<rect x="696.12" y="113.72" width="5.70" height="5.70" fill="none" stroke="#d9541c" stroke-width="1.70"/>
<rect x="703.20" y="116.07" width="5.70" height="5.70" fill="none" stroke="#d9541c" stroke-width="1.70"/>
<rect x="710.27" y="116.79" width="5.70" height="5.70" fill="none" stroke="#d9541c" stroke-width="1.70"/>
<rect x="717.35" y="114.62" width="5.70" height="5.70" fill="none" stroke="#d9541c" stroke-width="1.70"/>
<rect x="724.42" y="111.37" width="5.70" height="5.70" fill="none" stroke="#d9541c" stroke-width="1.70"/>
<rect x="731.50" y="106.50" width="5.70" height="5.70" fill="none" stroke="#d9541c" stroke-width="1.70"/>
<rect x="738.58" y="101.63" width="5.70" height="5.70" fill="none" stroke="#d9541c" stroke-width="1.70"/>
<rect x="745.65" y="97.47" width="5.70" height="5.70" fill="none" stroke="#d9541c" stroke-width="1.70"/>
<rect x="752.73" y="92.06" width="5.70" height="5.70" fill="none" stroke="#d9541c" stroke-width="1.70"/>
<rect x="759.80" y="85.74" width="5.70" height="5.70" fill="none" stroke="#d9541c" stroke-width="1.70"/>
<rect x="766.88" y="79.42" width="5.70" height="5.70" fill="none" stroke="#d9541c" stroke-width="1.70"/>
<rect x="773.95" y="71.66" width="5.70" height="5.70" fill="none" stroke="#d9541c" stroke-width="1.70"/>
<rect x="781.02" y="66.79" width="5.70" height="5.70" fill="none" stroke="#d9541c" stroke-width="1.70"/>
<rect x="788.10" y="60.83" width="5.70" height="5.70" fill="none" stroke="#d9541c" stroke-width="1.70"/>
<rect x="795.18" y="53.61" width="5.70" height="5.70" fill="none" stroke="#d9541c" stroke-width="1.70"/>
<rect x="802.25" y="47.47" width="5.70" height="5.70" fill="none" stroke="#d9541c" stroke-width="1.70"/>
<rect x="809.32" y="40.62" width="5.70" height="5.70" fill="none" stroke="#d9541c" stroke-width="1.70"/>
<rect x="816.40" y="38.45" width="5.70" height="5.70" fill="none" stroke="#d9541c" stroke-width="1.70"/>
<circle cx="677.75" cy="109.35" r="2.75" fill="none" stroke="#ff1010" stroke-width="1.75"/>
<circle cx="684.83" cy="107.55" r="2.75" fill="none" stroke="#ff1010" stroke-width="1.75"/>
<circle cx="691.90" cy="106.28" r="2.75" fill="none" stroke="#ff1010" stroke-width="1.75"/>
<circle cx="698.98" cy="105.74" r="2.75" fill="none" stroke="#ff1010" stroke-width="1.75"/>
<circle cx="706.05" cy="108.09" r="2.75" fill="none" stroke="#ff1010" stroke-width="1.75"/>
<circle cx="713.12" cy="110.61" r="2.75" fill="none" stroke="#ff1010" stroke-width="1.75"/>
<circle cx="720.20" cy="109.35" r="2.75" fill="none" stroke="#ff1010" stroke-width="1.75"/>
<circle cx="727.27" cy="107.55" r="2.75" fill="none" stroke="#ff1010" stroke-width="1.75"/>
<circle cx="734.35" cy="103.39" r="2.75" fill="none" stroke="#ff1010" stroke-width="1.75"/>
<circle cx="741.43" cy="99.06" r="2.75" fill="none" stroke="#ff1010" stroke-width="1.75"/>
<circle cx="748.50" cy="93.65" r="2.75" fill="none" stroke="#ff1010" stroke-width="1.75"/>
<circle cx="755.58" cy="88.23" r="2.75" fill="none" stroke="#ff1010" stroke-width="1.75"/>
<circle cx="762.65" cy="82.27" r="2.75" fill="none" stroke="#ff1010" stroke-width="1.75"/>
<circle cx="769.73" cy="75.05" r="2.75" fill="none" stroke="#ff1010" stroke-width="1.75"/>
<circle cx="776.80" cy="68.38" r="2.75" fill="none" stroke="#ff1010" stroke-width="1.75"/>
<circle cx="783.88" cy="60.61" r="2.75" fill="none" stroke="#ff1010" stroke-width="1.75"/>
<circle cx="790.95" cy="53.39" r="2.75" fill="none" stroke="#ff1010" stroke-width="1.75"/>
<circle cx="798.03" cy="46.71" r="2.75" fill="none" stroke="#ff1010" stroke-width="1.75"/>
<circle cx="805.10" cy="39.49" r="2.75" fill="none" stroke="#ff1010" stroke-width="1.75"/>
<circle cx="812.17" cy="31.73" r="2.75" fill="none" stroke="#ff1010" stroke-width="1.75"/>
<polygon points="165.45,887.66 168.24,892.59 162.66,892.59" fill="none" stroke="#a8721a" stroke-width="1.47" stroke-linejoin="round"/>
<polygon points="172.53,887.66 175.31,892.59 169.74,892.59" fill="none" stroke="#a8721a" stroke-width="1.47" stroke-linejoin="round"/>
<polygon points="179.60,887.66 182.39,892.59 176.81,892.59" fill="none" stroke="#a8721a" stroke-width="1.47" stroke-linejoin="round"/>
<polygon points="186.68,887.66 189.47,892.59 183.89,892.59" fill="none" stroke="#a8721a" stroke-width="1.47" stroke-linejoin="round"/>
<polygon points="193.75,887.66 196.54,892.59 190.96,892.59" fill="none" stroke="#a8721a" stroke-width="1.47" stroke-linejoin="round"/>
<polygon points="200.83,887.66 203.62,892.59 198.04,892.59" fill="none" stroke="#a8721a" stroke-width="1.47" stroke-linejoin="round"/>
<polygon points="207.90,887.66 210.69,892.59 205.11,892.59" fill="none" stroke="#a8721a" stroke-width="1.47" stroke-linejoin="round"/>
<polygon points="214.98,887.66 217.77,892.59 212.19,892.59" fill="none" stroke="#a8721a" stroke-width="1.47" stroke-linejoin="round"/>
<polygon points="222.05,887.66 224.84,892.59 219.26,892.59" fill="none" stroke="#a8721a" stroke-width="1.47" stroke-linejoin="round"/>
<polygon points="229.12,887.66 231.91,892.59 226.34,892.59" fill="none" stroke="#a8721a" stroke-width="1.47" stroke-linejoin="round"/>
<polygon points="236.20,887.66 238.99,892.59 233.41,892.59" fill="none" stroke="#a8721a" stroke-width="1.47" stroke-linejoin="round"/>
<polygon points="243.27,887.66 246.06,892.59 240.48,892.59" fill="none" stroke="#a8721a" stroke-width="1.47" stroke-linejoin="round"/>
<polygon points="250.35,887.66 253.14,892.59 247.56,892.59" fill="none" stroke="#a8721a" stroke-width="1.47" stroke-linejoin="round"/>
<polygon points="108.85,679.68 111.64,684.61 106.06,684.61" fill="none" stroke="#a8721a" stroke-width="1.47" stroke-linejoin="round"/>
<polygon points="115.93,682.75 118.72,687.68 113.14,687.68" fill="none" stroke="#a8721a" stroke-width="1.47" stroke-linejoin="round"/>
<polygon points="123.00,686.00 125.79,690.93 120.21,690.93" fill="none" stroke="#a8721a" stroke-width="1.47" stroke-linejoin="round"/>
<polygon points="130.07,689.25 132.86,694.18 127.28,694.18" fill="none" stroke="#a8721a" stroke-width="1.47" stroke-linejoin="round"/>
<polygon points="137.15,694.12 139.94,699.05 134.36,699.05" fill="none" stroke="#a8721a" stroke-width="1.47" stroke-linejoin="round"/>
<polygon points="144.23,700.08 147.02,705.01 141.44,705.01" fill="none" stroke="#a8721a" stroke-width="1.47" stroke-linejoin="round"/>
<polygon points="151.30,706.76 154.09,711.68 148.51,711.68" fill="none" stroke="#a8721a" stroke-width="1.47" stroke-linejoin="round"/>
<polygon points="158.38,713.07 161.16,718.00 155.59,718.00" fill="none" stroke="#a8721a" stroke-width="1.47" stroke-linejoin="round"/>
<polygon points="165.45,717.59 168.24,722.52 162.66,722.52" fill="none" stroke="#a8721a" stroke-width="1.47" stroke-linejoin="round"/>
<polygon points="172.53,720.29 175.31,725.22 169.74,725.22" fill="none" stroke="#a8721a" stroke-width="1.47" stroke-linejoin="round"/>
<polygon points="179.60,730.22 182.39,735.15 176.81,735.15" fill="none" stroke="#a8721a" stroke-width="1.47" stroke-linejoin="round"/>
<polygon points="186.68,732.93 189.47,737.86 183.89,737.86" fill="none" stroke="#a8721a" stroke-width="1.47" stroke-linejoin="round"/>
<polygon points="193.75,731.12 196.54,736.05 190.96,736.05" fill="none" stroke="#a8721a" stroke-width="1.47" stroke-linejoin="round"/>
<polygon points="200.83,755.49 203.62,760.42 198.04,760.42" fill="none" stroke="#a8721a" stroke-width="1.47" stroke-linejoin="round"/>
<polygon points="207.90,766.86 210.69,771.79 205.11,771.79" fill="none" stroke="#a8721a" stroke-width="1.47" stroke-linejoin="round"/>
<polygon points="214.98,772.28 217.77,777.21 212.19,777.21" fill="none" stroke="#a8721a" stroke-width="1.47" stroke-linejoin="round"/>
<polygon points="222.05,778.96 224.84,783.89 219.26,783.89" fill="none" stroke="#a8721a" stroke-width="1.47" stroke-linejoin="round"/>
<rect x="106.20" y="577.67" width="5.30" height="5.30" fill="none" stroke="#d9541c" stroke-width="1.61"/>
<rect x="113.27" y="579.48" width="5.30" height="5.30" fill="none" stroke="#d9541c" stroke-width="1.61"/>
<rect x="120.35" y="580.74" width="5.30" height="5.30" fill="none" stroke="#d9541c" stroke-width="1.61"/>
<rect x="127.42" y="582.55" width="5.30" height="5.30" fill="none" stroke="#d9541c" stroke-width="1.61"/>
<rect x="134.50" y="584.35" width="5.30" height="5.30" fill="none" stroke="#d9541c" stroke-width="1.61"/>
<rect x="141.57" y="586.70" width="5.30" height="5.30" fill="none" stroke="#d9541c" stroke-width="1.61"/>
<rect x="148.65" y="589.41" width="5.30" height="5.30" fill="none" stroke="#d9541c" stroke-width="1.61"/>
<rect x="155.72" y="591.57" width="5.30" height="5.30" fill="none" stroke="#d9541c" stroke-width="1.61"/>
<rect x="162.80" y="594.46" width="5.30" height="5.30" fill="none" stroke="#d9541c" stroke-width="1.61"/>
<rect x="169.87" y="596.99" width="5.30" height="5.30" fill="none" stroke="#d9541c" stroke-width="1.61"/>
<rect x="176.95" y="602.04" width="5.30" height="5.30" fill="none" stroke="#d9541c" stroke-width="1.61"/>
<rect x="184.02" y="606.56" width="5.30" height="5.30" fill="none" stroke="#d9541c" stroke-width="1.61"/>
<rect x="191.10" y="611.07" width="5.30" height="5.30" fill="none" stroke="#d9541c" stroke-width="1.61"/>
<rect x="198.17" y="615.58" width="5.30" height="5.30" fill="none" stroke="#d9541c" stroke-width="1.61"/>
<rect x="205.25" y="619.19" width="5.30" height="5.30" fill="none" stroke="#d9541c" stroke-width="1.61"/>
<rect x="212.32" y="626.95" width="5.30" height="5.30" fill="none" stroke="#d9541c" stroke-width="1.61"/>
<rect x="219.40" y="631.83" width="5.30" height="5.30" fill="none" stroke="#d9541c" stroke-width="1.61"/>
<rect x="226.47" y="636.34" width="5.30" height="5.30" fill="none" stroke="#d9541c" stroke-width="1.61"/>
<rect x="233.55" y="641.75" width="5.30" height="5.30" fill="none" stroke="#d9541c" stroke-width="1.61"/>
<rect x="240.62" y="651.68" width="5.30" height="5.30" fill="none" stroke="#d9541c" stroke-width="1.61"/>
<rect x="247.70" y="667.02" width="5.30" height="5.30" fill="none" stroke="#d9541c" stroke-width="1.61"/>
<circle cx="108.85" cy="538.45" r="2.56" fill="none" stroke="#ff1010" stroke-width="1.66"/>
<circle cx="115.93" cy="540.61" r="2.56" fill="none" stroke="#ff1010" stroke-width="1.66"/>
<circle cx="123.00" cy="542.96" r="2.56" fill="none" stroke="#ff1010" stroke-width="1.66"/>
<circle cx="130.07" cy="544.77" r="2.56" fill="none" stroke="#ff1010" stroke-width="1.66"/>
<circle cx="137.15" cy="545.49" r="2.56" fill="none" stroke="#ff1010" stroke-width="1.66"/>
<circle cx="144.23" cy="549.10" r="2.56" fill="none" stroke="#ff1010" stroke-width="1.66"/>
<circle cx="151.30" cy="552.35" r="2.56" fill="none" stroke="#ff1010" stroke-width="1.66"/>
<circle cx="158.38" cy="555.05" r="2.56" fill="none" stroke="#ff1010" stroke-width="1.66"/>
<circle cx="165.45" cy="557.40" r="2.56" fill="none" stroke="#ff1010" stroke-width="1.66"/>
<circle cx="172.53" cy="559.57" r="2.56" fill="none" stroke="#ff1010" stroke-width="1.66"/>
<circle cx="179.60" cy="562.82" r="2.56" fill="none" stroke="#ff1010" stroke-width="1.66"/>
<circle cx="186.68" cy="565.88" r="2.56" fill="none" stroke="#ff1010" stroke-width="1.66"/>
<circle cx="193.75" cy="568.95" r="2.56" fill="none" stroke="#ff1010" stroke-width="1.66"/>
<circle cx="200.83" cy="572.56" r="2.56" fill="none" stroke="#ff1010" stroke-width="1.66"/>
<circle cx="207.90" cy="576.17" r="2.56" fill="none" stroke="#ff1010" stroke-width="1.66"/>
<circle cx="214.98" cy="579.42" r="2.56" fill="none" stroke="#ff1010" stroke-width="1.66"/>
<circle cx="222.05" cy="583.39" r="2.56" fill="none" stroke="#ff1010" stroke-width="1.66"/>
<circle cx="229.12" cy="588.09" r="2.56" fill="none" stroke="#ff1010" stroke-width="1.66"/>
<circle cx="236.20" cy="592.96" r="2.56" fill="none" stroke="#ff1010" stroke-width="1.66"/>
<circle cx="243.27" cy="600.18" r="2.56" fill="none" stroke="#ff1010" stroke-width="1.66"/>
<polygon points="390.55,826.56 395.75,826.56 390.55,832.14 395.75,832.14" fill="none" stroke="#ff10e0" stroke-width="1.61" stroke-linejoin="round"/>
<polygon points="397.62,828.91 402.83,828.91 397.62,834.49 402.83,834.49" fill="none" stroke="#ff10e0" stroke-width="1.61" stroke-linejoin="round"/>
<polygon points="404.70,831.98 409.90,831.98 404.70,837.56 409.90,837.56" fill="none" stroke="#ff10e0" stroke-width="1.61" stroke-linejoin="round"/>
<polygon points="411.77,834.68 416.98,834.68 411.77,840.26 416.98,840.26" fill="none" stroke="#ff10e0" stroke-width="1.61" stroke-linejoin="round"/>
<polygon points="418.85,835.59 424.05,835.59 418.85,841.17 424.05,841.17" fill="none" stroke="#ff10e0" stroke-width="1.61" stroke-linejoin="round"/>
<polygon points="425.92,839.20 431.13,839.20 425.92,844.78 431.13,844.78" fill="none" stroke="#ff10e0" stroke-width="1.61" stroke-linejoin="round"/>
<polygon points="433.00,842.81 438.20,842.81 433.00,848.39 438.20,848.39" fill="none" stroke="#ff10e0" stroke-width="1.61" stroke-linejoin="round"/>
<polygon points="440.07,848.22 445.28,848.22 440.07,853.80 445.28,853.80" fill="none" stroke="#ff10e0" stroke-width="1.61" stroke-linejoin="round"/>
<polygon points="447.15,854.54 452.35,854.54 447.15,860.12 452.35,860.12" fill="none" stroke="#ff10e0" stroke-width="1.61" stroke-linejoin="round"/>
<polygon points="454.22,859.95 459.43,859.95 454.22,865.53 459.43,865.53" fill="none" stroke="#ff10e0" stroke-width="1.61" stroke-linejoin="round"/>
<polygon points="461.30,864.47 466.50,864.47 461.30,870.05 466.50,870.05" fill="none" stroke="#ff10e0" stroke-width="1.61" stroke-linejoin="round"/>
<polygon points="468.37,867.17 473.58,867.17 468.37,872.75 473.58,872.75" fill="none" stroke="#ff10e0" stroke-width="1.61" stroke-linejoin="round"/>
<polygon points="475.45,870.78 480.65,870.78 475.45,876.36 480.65,876.36" fill="none" stroke="#ff10e0" stroke-width="1.61" stroke-linejoin="round"/>
<polygon points="482.52,874.39 487.73,874.39 482.52,879.97 487.73,879.97" fill="none" stroke="#ff10e0" stroke-width="1.61" stroke-linejoin="round"/>
<polygon points="489.60,877.10 494.80,877.10 489.60,882.68 494.80,882.68" fill="none" stroke="#ff10e0" stroke-width="1.61" stroke-linejoin="round"/>
<polygon points="496.67,879.81 501.88,879.81 496.67,885.39 501.88,885.39" fill="none" stroke="#ff10e0" stroke-width="1.61" stroke-linejoin="round"/>
<polygon points="503.75,882.52 508.95,882.52 503.75,888.10 508.95,888.10" fill="none" stroke="#ff10e0" stroke-width="1.61" stroke-linejoin="round"/>
<polygon points="510.82,884.32 516.03,884.32 510.82,889.90 516.03,889.90" fill="none" stroke="#ff10e0" stroke-width="1.61" stroke-linejoin="round"/>
<polygon points="517.90,886.13 523.10,886.13 517.90,891.71 523.10,891.71" fill="none" stroke="#ff10e0" stroke-width="1.61" stroke-linejoin="round"/>
<polygon points="524.97,887.93 530.18,887.93 524.97,893.51 530.18,893.51" fill="none" stroke="#ff10e0" stroke-width="1.61" stroke-linejoin="round"/>
<polygon points="532.05,889.74 537.25,889.74 532.05,895.32 537.25,895.32" fill="none" stroke="#ff10e0" stroke-width="1.61" stroke-linejoin="round"/>
<polygon points="390.36,795.97 395.94,801.36 395.94,795.97 390.36,801.36" fill="none" stroke="#7018e0" stroke-width="1.57" stroke-linejoin="round"/>
<polygon points="397.44,799.58 403.02,804.97 403.02,799.58 397.44,804.97" fill="none" stroke="#7018e0" stroke-width="1.57" stroke-linejoin="round"/>
<polygon points="404.51,804.09 410.09,809.48 410.09,804.09 404.51,809.48" fill="none" stroke="#7018e0" stroke-width="1.57" stroke-linejoin="round"/>
<polygon points="411.58,808.60 417.17,814.00 417.17,808.60 411.58,814.00" fill="none" stroke="#7018e0" stroke-width="1.57" stroke-linejoin="round"/>
<polygon points="418.66,813.12 424.24,818.51 424.24,813.12 418.66,818.51" fill="none" stroke="#7018e0" stroke-width="1.57" stroke-linejoin="round"/>
<polygon points="425.73,818.53 431.31,823.92 431.31,818.53 425.73,823.92" fill="none" stroke="#7018e0" stroke-width="1.57" stroke-linejoin="round"/>
<polygon points="432.81,825.75 438.39,831.14 438.39,825.75 432.81,831.14" fill="none" stroke="#7018e0" stroke-width="1.57" stroke-linejoin="round"/>
<polygon points="439.88,832.07 445.47,837.46 445.47,832.07 439.88,837.46" fill="none" stroke="#7018e0" stroke-width="1.57" stroke-linejoin="round"/>
<polygon points="446.96,839.29 452.54,844.68 452.54,839.29 446.96,844.68" fill="none" stroke="#7018e0" stroke-width="1.57" stroke-linejoin="round"/>
<polygon points="454.03,843.80 459.62,849.20 459.62,843.80 454.03,849.20" fill="none" stroke="#7018e0" stroke-width="1.57" stroke-linejoin="round"/>
<polygon points="461.11,848.31 466.69,853.71 466.69,848.31 461.11,853.71" fill="none" stroke="#7018e0" stroke-width="1.57" stroke-linejoin="round"/>
<polygon points="468.19,852.83 473.77,858.22 473.77,852.83 468.19,858.22" fill="none" stroke="#7018e0" stroke-width="1.57" stroke-linejoin="round"/>
<polygon points="475.26,857.34 480.84,862.73 480.84,857.34 475.26,862.73" fill="none" stroke="#7018e0" stroke-width="1.57" stroke-linejoin="round"/>
<polygon points="482.33,861.85 487.92,867.25 487.92,861.85 482.33,867.25" fill="none" stroke="#7018e0" stroke-width="1.57" stroke-linejoin="round"/>
<polygon points="489.41,865.82 494.99,871.22 494.99,865.82 489.41,871.22" fill="none" stroke="#7018e0" stroke-width="1.57" stroke-linejoin="round"/>
<polygon points="496.48,869.97 502.06,875.37 502.06,869.97 496.48,875.37" fill="none" stroke="#7018e0" stroke-width="1.57" stroke-linejoin="round"/>
<polygon points="503.56,872.68 509.14,878.08 509.14,872.68 503.56,878.08" fill="none" stroke="#7018e0" stroke-width="1.57" stroke-linejoin="round"/>
<polygon points="510.63,876.29 516.21,881.69 516.21,876.29 510.63,881.69" fill="none" stroke="#7018e0" stroke-width="1.57" stroke-linejoin="round"/>
<polygon points="517.71,879.00 523.29,884.39 523.29,879.00 517.71,884.39" fill="none" stroke="#7018e0" stroke-width="1.57" stroke-linejoin="round"/>
<polygon points="524.79,881.71 530.37,887.10 530.37,881.71 524.79,887.10" fill="none" stroke="#7018e0" stroke-width="1.57" stroke-linejoin="round"/>
<polygon points="531.86,883.51 537.44,888.91 537.44,883.51 531.86,888.91" fill="none" stroke="#7018e0" stroke-width="1.57" stroke-linejoin="round"/>
<polygon points="393.15,790.62 396.68,794.15 393.15,797.69 389.62,794.15" fill="none" stroke="#1040ff" stroke-width="1.28" stroke-linejoin="round"/>
<polygon points="400.23,795.13 403.76,798.66 400.23,802.20 396.69,798.66" fill="none" stroke="#1040ff" stroke-width="1.28" stroke-linejoin="round"/>
<polygon points="407.30,798.74 410.83,802.27 407.30,805.81 403.77,802.27" fill="none" stroke="#1040ff" stroke-width="1.28" stroke-linejoin="round"/>
<polygon points="414.38,803.25 417.91,806.79 414.38,810.32 410.84,806.79" fill="none" stroke="#1040ff" stroke-width="1.28" stroke-linejoin="round"/>
<polygon points="421.45,807.77 424.98,811.30 421.45,814.83 417.92,811.30" fill="none" stroke="#1040ff" stroke-width="1.28" stroke-linejoin="round"/>
<polygon points="428.52,814.08 432.06,817.62 428.52,821.15 424.99,817.62" fill="none" stroke="#1040ff" stroke-width="1.28" stroke-linejoin="round"/>
<polygon points="435.60,820.40 439.13,823.94 435.60,827.47 432.07,823.94" fill="none" stroke="#1040ff" stroke-width="1.28" stroke-linejoin="round"/>
<polygon points="442.68,826.72 446.21,830.25 442.68,833.79 439.14,830.25" fill="none" stroke="#1040ff" stroke-width="1.28" stroke-linejoin="round"/>
<polygon points="449.75,832.13 453.28,835.67 449.75,839.20 446.22,835.67" fill="none" stroke="#1040ff" stroke-width="1.28" stroke-linejoin="round"/>
<polygon points="456.82,836.65 460.36,840.18 456.82,843.71 453.29,840.18" fill="none" stroke="#1040ff" stroke-width="1.28" stroke-linejoin="round"/>
<polygon points="463.90,840.26 467.43,843.79 463.90,847.32 460.37,843.79" fill="none" stroke="#1040ff" stroke-width="1.28" stroke-linejoin="round"/>
<polygon points="470.98,844.77 474.51,848.30 470.98,851.84 467.44,848.30" fill="none" stroke="#1040ff" stroke-width="1.28" stroke-linejoin="round"/>
<polygon points="478.05,849.28 481.58,852.82 478.05,856.35 474.52,852.82" fill="none" stroke="#1040ff" stroke-width="1.28" stroke-linejoin="round"/>
<polygon points="485.12,853.79 488.66,857.33 485.12,860.86 481.59,857.33" fill="none" stroke="#1040ff" stroke-width="1.28" stroke-linejoin="round"/>
<polygon points="492.20,857.40 495.73,860.94 492.20,864.47 488.67,860.94" fill="none" stroke="#1040ff" stroke-width="1.28" stroke-linejoin="round"/>
<polygon points="499.27,861.01 502.81,864.55 499.27,868.08 495.74,864.55" fill="none" stroke="#1040ff" stroke-width="1.28" stroke-linejoin="round"/>
<polygon points="506.35,863.72 509.88,867.26 506.35,870.79 502.82,867.26" fill="none" stroke="#1040ff" stroke-width="1.28" stroke-linejoin="round"/>
<polygon points="513.42,866.43 516.96,869.96 513.42,873.50 509.89,869.96" fill="none" stroke="#1040ff" stroke-width="1.28" stroke-linejoin="round"/>
<polygon points="520.50,868.23 524.03,871.77 520.50,875.30 516.97,871.77" fill="none" stroke="#1040ff" stroke-width="1.28" stroke-linejoin="round"/>
<polygon points="527.58,870.04 531.11,873.57 527.58,877.11 524.04,873.57" fill="none" stroke="#1040ff" stroke-width="1.28" stroke-linejoin="round"/>
<polygon points="534.65,870.94 538.18,874.48 534.65,878.01 531.12,874.48" fill="none" stroke="#1040ff" stroke-width="1.28" stroke-linejoin="round"/>
<polygon points="393.15,788.91 394.82,792.35 393.15,795.79 391.48,792.35" fill="none" stroke="#2890d4" stroke-width="1.33" stroke-linejoin="round"/>
<polygon points="400.23,792.52 401.90,795.96 400.23,799.40 398.55,795.96" fill="none" stroke="#2890d4" stroke-width="1.33" stroke-linejoin="round"/>
<polygon points="407.30,797.03 408.97,800.47 407.30,803.91 405.63,800.47" fill="none" stroke="#2890d4" stroke-width="1.33" stroke-linejoin="round"/>
<polygon points="414.38,800.64 416.05,804.08 414.38,807.52 412.70,804.08" fill="none" stroke="#2890d4" stroke-width="1.33" stroke-linejoin="round"/>
<polygon points="421.45,805.15 423.12,808.59 421.45,812.03 419.78,808.59" fill="none" stroke="#2890d4" stroke-width="1.33" stroke-linejoin="round"/>
<polygon points="428.52,812.37 430.20,815.81 428.52,819.25 426.85,815.81" fill="none" stroke="#2890d4" stroke-width="1.33" stroke-linejoin="round"/>
<polygon points="435.60,818.69 437.27,822.13 435.60,825.57 433.93,822.13" fill="none" stroke="#2890d4" stroke-width="1.33" stroke-linejoin="round"/>
<polygon points="442.68,823.20 444.35,826.64 442.68,830.08 441.00,826.64" fill="none" stroke="#2890d4" stroke-width="1.33" stroke-linejoin="round"/>
<polygon points="449.75,826.81 451.42,830.25 449.75,833.69 448.08,830.25" fill="none" stroke="#2890d4" stroke-width="1.33" stroke-linejoin="round"/>
<polygon points="456.82,829.52 458.50,832.96 456.82,836.40 455.15,832.96" fill="none" stroke="#2890d4" stroke-width="1.33" stroke-linejoin="round"/>
<polygon points="463.90,833.13 465.57,836.57 463.90,840.01 462.23,836.57" fill="none" stroke="#2890d4" stroke-width="1.33" stroke-linejoin="round"/>
<polygon points="470.98,837.64 472.65,841.08 470.98,844.52 469.30,841.08" fill="none" stroke="#2890d4" stroke-width="1.33" stroke-linejoin="round"/>
<polygon points="478.05,840.89 479.72,844.33 478.05,847.77 476.38,844.33" fill="none" stroke="#2890d4" stroke-width="1.33" stroke-linejoin="round"/>
<polygon points="485.12,844.86 486.80,848.30 485.12,851.74 483.45,848.30" fill="none" stroke="#2890d4" stroke-width="1.33" stroke-linejoin="round"/>
<polygon points="492.20,847.57 493.87,851.01 492.20,854.45 490.53,851.01" fill="none" stroke="#2890d4" stroke-width="1.33" stroke-linejoin="round"/>
<polygon points="499.27,850.28 500.95,853.72 499.27,857.16 497.60,853.72" fill="none" stroke="#2890d4" stroke-width="1.33" stroke-linejoin="round"/>
<polygon points="506.35,852.08 508.02,855.52 506.35,858.96 504.68,855.52" fill="none" stroke="#2890d4" stroke-width="1.33" stroke-linejoin="round"/>
<polygon points="513.42,853.89 515.10,857.33 513.42,860.77 511.75,857.33" fill="none" stroke="#2890d4" stroke-width="1.33" stroke-linejoin="round"/>
<polygon points="520.50,854.79 522.17,858.23 520.50,861.67 518.83,858.23" fill="none" stroke="#2890d4" stroke-width="1.33" stroke-linejoin="round"/>
<polygon points="527.58,855.69 529.25,859.13 527.58,862.57 525.90,859.13" fill="none" stroke="#2890d4" stroke-width="1.33" stroke-linejoin="round"/>
<polygon points="534.65,856.60 536.32,860.04 534.65,863.48 532.98,860.04" fill="none" stroke="#2890d4" stroke-width="1.33" stroke-linejoin="round"/>
<polygon points="389.34,794.15 393.15,792.20 396.96,794.15 393.15,796.10" fill="none" stroke="#10a0a0" stroke-width="1.33" stroke-linejoin="round"/>
<polygon points="396.41,797.76 400.23,795.81 404.04,797.76 400.23,799.71" fill="none" stroke="#10a0a0" stroke-width="1.33" stroke-linejoin="round"/>
<polygon points="403.49,801.37 407.30,799.42 411.11,801.37 407.30,803.32" fill="none" stroke="#10a0a0" stroke-width="1.33" stroke-linejoin="round"/>
<polygon points="410.56,804.98 414.38,803.03 418.19,804.98 414.38,806.93" fill="none" stroke="#10a0a0" stroke-width="1.33" stroke-linejoin="round"/>
<polygon points="417.64,809.49 421.45,807.54 425.26,809.49 421.45,811.45" fill="none" stroke="#10a0a0" stroke-width="1.33" stroke-linejoin="round"/>
<polygon points="424.71,816.71 428.52,814.76 432.34,816.71 428.52,818.67" fill="none" stroke="#10a0a0" stroke-width="1.33" stroke-linejoin="round"/>
<polygon points="431.79,822.13 435.60,820.18 439.41,822.13 435.60,824.08" fill="none" stroke="#10a0a0" stroke-width="1.33" stroke-linejoin="round"/>
<polygon points="438.86,826.64 442.68,824.69 446.49,826.64 442.68,828.60" fill="none" stroke="#10a0a0" stroke-width="1.33" stroke-linejoin="round"/>
<polygon points="445.94,830.25 449.75,828.30 453.56,830.25 449.75,832.21" fill="none" stroke="#10a0a0" stroke-width="1.33" stroke-linejoin="round"/>
<polygon points="453.01,832.96 456.82,831.01 460.64,832.96 456.82,834.91" fill="none" stroke="#10a0a0" stroke-width="1.33" stroke-linejoin="round"/>
<polygon points="460.09,835.67 463.90,833.71 467.71,835.67 463.90,837.62" fill="none" stroke="#10a0a0" stroke-width="1.33" stroke-linejoin="round"/>
<polygon points="467.16,838.92 470.98,836.96 474.79,838.92 470.98,840.87" fill="none" stroke="#10a0a0" stroke-width="1.33" stroke-linejoin="round"/>
<polygon points="474.24,841.99 478.05,840.03 481.86,841.99 478.05,843.94" fill="none" stroke="#10a0a0" stroke-width="1.33" stroke-linejoin="round"/>
<polygon points="481.31,844.69 485.12,842.74 488.94,844.69 485.12,846.65" fill="none" stroke="#10a0a0" stroke-width="1.33" stroke-linejoin="round"/>
<polygon points="488.39,847.40 492.20,845.45 496.01,847.40 492.20,849.35" fill="none" stroke="#10a0a0" stroke-width="1.33" stroke-linejoin="round"/>
<polygon points="495.46,850.47 499.27,848.52 503.09,850.47 499.27,852.42" fill="none" stroke="#10a0a0" stroke-width="1.33" stroke-linejoin="round"/>
<polygon points="502.54,853.36 506.35,851.40 510.16,853.36 506.35,855.31" fill="none" stroke="#10a0a0" stroke-width="1.33" stroke-linejoin="round"/>
<polygon points="509.61,855.88 513.42,853.93 517.24,855.88 513.42,857.84" fill="none" stroke="#10a0a0" stroke-width="1.33" stroke-linejoin="round"/>
<polygon points="516.69,857.69 520.50,855.74 524.31,857.69 520.50,859.64" fill="none" stroke="#10a0a0" stroke-width="1.33" stroke-linejoin="round"/>
<polygon points="523.76,859.49 527.58,857.54 531.39,859.49 527.58,861.45" fill="none" stroke="#10a0a0" stroke-width="1.33" stroke-linejoin="round"/>
<polygon points="530.84,861.30 534.65,859.35 538.46,861.30 534.65,863.25" fill="none" stroke="#10a0a0" stroke-width="1.33" stroke-linejoin="round"/>
<polygon points="396.03,792.71 391.10,795.50 391.10,789.92" fill="none" stroke="#14a058" stroke-width="1.47" stroke-linejoin="round"/>
<polygon points="403.11,795.05 398.18,797.84 398.18,792.26" fill="none" stroke="#14a058" stroke-width="1.47" stroke-linejoin="round"/>
<polygon points="410.18,797.76 405.25,800.55 405.25,794.97" fill="none" stroke="#14a058" stroke-width="1.47" stroke-linejoin="round"/>
<polygon points="417.26,801.37 412.33,804.16 412.33,798.58" fill="none" stroke="#14a058" stroke-width="1.47" stroke-linejoin="round"/>
<polygon points="424.33,806.79 419.40,809.58 419.40,804.00" fill="none" stroke="#14a058" stroke-width="1.47" stroke-linejoin="round"/>
<polygon points="431.41,812.20 426.48,814.99 426.48,809.41" fill="none" stroke="#14a058" stroke-width="1.47" stroke-linejoin="round"/>
<polygon points="438.48,819.78 433.55,822.57 433.55,816.99" fill="none" stroke="#14a058" stroke-width="1.47" stroke-linejoin="round"/>
<polygon points="445.56,824.48 440.63,827.27 440.63,821.69" fill="none" stroke="#14a058" stroke-width="1.47" stroke-linejoin="round"/>
<polygon points="452.63,828.45 447.70,831.24 447.70,825.66" fill="none" stroke="#14a058" stroke-width="1.47" stroke-linejoin="round"/>
<polygon points="459.71,831.16 454.78,833.95 454.78,828.37" fill="none" stroke="#14a058" stroke-width="1.47" stroke-linejoin="round"/>
<polygon points="466.78,833.86 461.85,836.65 461.85,831.07" fill="none" stroke="#14a058" stroke-width="1.47" stroke-linejoin="round"/>
<polygon points="473.86,836.57 468.93,839.36 468.93,833.78" fill="none" stroke="#14a058" stroke-width="1.47" stroke-linejoin="round"/>
<polygon points="480.93,839.28 476.00,842.07 476.00,836.49" fill="none" stroke="#14a058" stroke-width="1.47" stroke-linejoin="round"/>
<polygon points="488.01,841.44 483.08,844.23 483.08,838.65" fill="none" stroke="#14a058" stroke-width="1.47" stroke-linejoin="round"/>
<polygon points="495.08,843.79 490.15,846.58 490.15,841.00" fill="none" stroke="#14a058" stroke-width="1.47" stroke-linejoin="round"/>
<polygon points="502.16,846.14 497.23,848.93 497.23,843.35" fill="none" stroke="#14a058" stroke-width="1.47" stroke-linejoin="round"/>
<polygon points="509.23,847.94 504.30,850.73 504.30,845.15" fill="none" stroke="#14a058" stroke-width="1.47" stroke-linejoin="round"/>
<polygon points="516.31,849.75 511.38,852.54 511.38,846.96" fill="none" stroke="#14a058" stroke-width="1.47" stroke-linejoin="round"/>
<polygon points="523.38,851.55 518.45,854.34 518.45,848.76" fill="none" stroke="#14a058" stroke-width="1.47" stroke-linejoin="round"/>
<polygon points="530.46,853.36 525.53,856.15 525.53,850.57" fill="none" stroke="#14a058" stroke-width="1.47" stroke-linejoin="round"/>
<polygon points="537.53,854.62 532.60,857.41 532.60,851.83" fill="none" stroke="#14a058" stroke-width="1.47" stroke-linejoin="round"/>
<polygon points="390.27,778.81 395.20,781.60 395.20,776.02" fill="none" stroke="#52a01a" stroke-width="1.47" stroke-linejoin="round"/>
<polygon points="397.34,781.88 402.27,784.67 402.27,779.09" fill="none" stroke="#52a01a" stroke-width="1.47" stroke-linejoin="round"/>
<polygon points="404.42,785.13 409.35,787.92 409.35,782.34" fill="none" stroke="#52a01a" stroke-width="1.47" stroke-linejoin="round"/>
<polygon points="411.49,788.74 416.42,791.53 416.42,785.95" fill="none" stroke="#52a01a" stroke-width="1.47" stroke-linejoin="round"/>
<polygon points="418.57,796.32 423.50,799.11 423.50,793.53" fill="none" stroke="#52a01a" stroke-width="1.47" stroke-linejoin="round"/>
<polygon points="425.64,801.01 430.57,803.80 430.57,798.22" fill="none" stroke="#52a01a" stroke-width="1.47" stroke-linejoin="round"/>
<polygon points="432.72,804.08 437.65,806.87 437.65,801.29" fill="none" stroke="#52a01a" stroke-width="1.47" stroke-linejoin="round"/>
<polygon points="439.79,806.43 444.72,809.22 444.72,803.64" fill="none" stroke="#52a01a" stroke-width="1.47" stroke-linejoin="round"/>
<polygon points="446.87,808.59 451.80,811.38 451.80,805.80" fill="none" stroke="#52a01a" stroke-width="1.47" stroke-linejoin="round"/>
<polygon points="453.94,811.30 458.87,814.09 458.87,808.51" fill="none" stroke="#52a01a" stroke-width="1.47" stroke-linejoin="round"/>
<polygon points="461.02,813.65 465.95,816.44 465.95,810.86" fill="none" stroke="#52a01a" stroke-width="1.47" stroke-linejoin="round"/>
<polygon points="468.09,815.45 473.02,818.24 473.02,812.66" fill="none" stroke="#52a01a" stroke-width="1.47" stroke-linejoin="round"/>
<polygon points="475.17,817.62 480.10,820.41 480.10,814.83" fill="none" stroke="#52a01a" stroke-width="1.47" stroke-linejoin="round"/>
<polygon points="482.24,819.78 487.17,822.57 487.17,816.99" fill="none" stroke="#52a01a" stroke-width="1.47" stroke-linejoin="round"/>
<polygon points="489.32,822.13 494.25,824.92 494.25,819.34" fill="none" stroke="#52a01a" stroke-width="1.47" stroke-linejoin="round"/>
<polygon points="496.39,824.48 501.32,827.27 501.32,821.69" fill="none" stroke="#52a01a" stroke-width="1.47" stroke-linejoin="round"/>
<polygon points="503.47,826.28 508.40,829.07 508.40,823.49" fill="none" stroke="#52a01a" stroke-width="1.47" stroke-linejoin="round"/>
<polygon points="510.54,828.45 515.47,831.24 515.47,825.66" fill="none" stroke="#52a01a" stroke-width="1.47" stroke-linejoin="round"/>
<polygon points="517.62,830.61 522.55,833.40 522.55,827.82" fill="none" stroke="#52a01a" stroke-width="1.47" stroke-linejoin="round"/>
<polygon points="524.69,833.86 529.62,836.65 529.62,831.07" fill="none" stroke="#52a01a" stroke-width="1.47" stroke-linejoin="round"/>
<polygon points="531.77,838.38 536.70,841.17 536.70,835.59" fill="none" stroke="#52a01a" stroke-width="1.47" stroke-linejoin="round"/>
<polygon points="393.15,776.82 395.94,771.89 390.36,771.89" fill="none" stroke="#a8a81c" stroke-width="1.47" stroke-linejoin="round"/>
<polygon points="400.23,781.15 403.02,776.22 397.44,776.22" fill="none" stroke="#a8a81c" stroke-width="1.47" stroke-linejoin="round"/>
<polygon points="407.30,785.84 410.09,780.91 404.51,780.91" fill="none" stroke="#a8a81c" stroke-width="1.47" stroke-linejoin="round"/>
<polygon points="414.38,789.45 417.17,784.52 411.58,784.52" fill="none" stroke="#a8a81c" stroke-width="1.47" stroke-linejoin="round"/>
<polygon points="421.45,799.74 424.24,794.81 418.66,794.81" fill="none" stroke="#a8a81c" stroke-width="1.47" stroke-linejoin="round"/>
<polygon points="428.52,804.25 431.31,799.33 425.73,799.33" fill="none" stroke="#a8a81c" stroke-width="1.47" stroke-linejoin="round"/>
<polygon points="435.60,808.23 438.39,803.30 432.81,803.30" fill="none" stroke="#a8a81c" stroke-width="1.47" stroke-linejoin="round"/>
<polygon points="442.68,811.11 445.47,806.19 439.88,806.19" fill="none" stroke="#a8a81c" stroke-width="1.47" stroke-linejoin="round"/>
<polygon points="449.75,813.28 452.54,808.35 446.96,808.35" fill="none" stroke="#a8a81c" stroke-width="1.47" stroke-linejoin="round"/>
<polygon points="456.82,816.53 459.62,811.60 454.03,811.60" fill="none" stroke="#a8a81c" stroke-width="1.47" stroke-linejoin="round"/>
<polygon points="463.90,818.70 466.69,813.77 461.11,813.77" fill="none" stroke="#a8a81c" stroke-width="1.47" stroke-linejoin="round"/>
<polygon points="470.98,820.86 473.77,815.93 468.19,815.93" fill="none" stroke="#a8a81c" stroke-width="1.47" stroke-linejoin="round"/>
<polygon points="478.05,823.21 480.84,818.28 475.26,818.28" fill="none" stroke="#a8a81c" stroke-width="1.47" stroke-linejoin="round"/>
<polygon points="485.12,825.55 487.92,820.63 482.33,820.63" fill="none" stroke="#a8a81c" stroke-width="1.47" stroke-linejoin="round"/>
<polygon points="492.20,827.72 494.99,822.79 489.41,822.79" fill="none" stroke="#a8a81c" stroke-width="1.47" stroke-linejoin="round"/>
<polygon points="499.27,829.89 502.06,824.96 496.48,824.96" fill="none" stroke="#a8a81c" stroke-width="1.47" stroke-linejoin="round"/>
<polygon points="506.35,831.69 509.14,826.76 503.56,826.76" fill="none" stroke="#a8a81c" stroke-width="1.47" stroke-linejoin="round"/>
<polygon points="513.42,833.14 516.21,828.21 510.63,828.21" fill="none" stroke="#a8a81c" stroke-width="1.47" stroke-linejoin="round"/>
<polygon points="520.50,834.58 523.29,829.65 517.71,829.65" fill="none" stroke="#a8a81c" stroke-width="1.47" stroke-linejoin="round"/>
<polygon points="527.58,835.84 530.37,830.91 524.79,830.91" fill="none" stroke="#a8a81c" stroke-width="1.47" stroke-linejoin="round"/>
<polygon points="534.65,836.75 537.44,831.82 531.86,831.82" fill="none" stroke="#a8a81c" stroke-width="1.47" stroke-linejoin="round"/>
<polygon points="393.15,695.24 395.94,700.17 390.36,700.17" fill="none" stroke="#a8721a" stroke-width="1.47" stroke-linejoin="round"/>
<polygon points="400.23,696.32 403.02,701.25 397.44,701.25" fill="none" stroke="#a8721a" stroke-width="1.47" stroke-linejoin="round"/>
<polygon points="407.30,699.93 410.09,704.86 404.51,704.86" fill="none" stroke="#a8721a" stroke-width="1.47" stroke-linejoin="round"/>
<polygon points="414.38,703.90 417.17,708.83 411.58,708.83" fill="none" stroke="#a8721a" stroke-width="1.47" stroke-linejoin="round"/>
<polygon points="421.45,709.32 424.24,714.25 418.66,714.25" fill="none" stroke="#a8721a" stroke-width="1.47" stroke-linejoin="round"/>
<polygon points="428.52,731.34 431.31,736.27 425.73,736.27" fill="none" stroke="#a8721a" stroke-width="1.47" stroke-linejoin="round"/>
<polygon points="435.60,745.42 438.39,750.35 432.81,750.35" fill="none" stroke="#a8721a" stroke-width="1.47" stroke-linejoin="round"/>
<polygon points="442.68,751.56 445.47,756.49 439.88,756.49" fill="none" stroke="#a8721a" stroke-width="1.47" stroke-linejoin="round"/>
<polygon points="449.75,751.74 452.54,756.67 446.96,756.67" fill="none" stroke="#a8721a" stroke-width="1.47" stroke-linejoin="round"/>
<polygon points="456.82,759.86 459.62,764.79 454.03,764.79" fill="none" stroke="#a8721a" stroke-width="1.47" stroke-linejoin="round"/>
<polygon points="463.90,765.64 466.69,770.57 461.11,770.57" fill="none" stroke="#a8721a" stroke-width="1.47" stroke-linejoin="round"/>
<polygon points="470.98,774.30 473.77,779.23 468.19,779.23" fill="none" stroke="#a8721a" stroke-width="1.47" stroke-linejoin="round"/>
<polygon points="478.05,780.62 480.84,785.55 475.26,785.55" fill="none" stroke="#a8721a" stroke-width="1.47" stroke-linejoin="round"/>
<polygon points="485.12,787.66 487.92,792.59 482.33,792.59" fill="none" stroke="#a8721a" stroke-width="1.47" stroke-linejoin="round"/>
<polygon points="492.20,795.78 494.99,800.71 489.41,800.71" fill="none" stroke="#a8721a" stroke-width="1.47" stroke-linejoin="round"/>
<polygon points="499.27,803.54 502.06,808.47 496.48,808.47" fill="none" stroke="#a8721a" stroke-width="1.47" stroke-linejoin="round"/>
<polygon points="506.35,809.32 509.14,814.25 503.56,814.25" fill="none" stroke="#a8721a" stroke-width="1.47" stroke-linejoin="round"/>
<polygon points="513.42,814.37 516.21,819.30 510.63,819.30" fill="none" stroke="#a8721a" stroke-width="1.47" stroke-linejoin="round"/>
<polygon points="520.50,816.54 523.29,821.47 517.71,821.47" fill="none" stroke="#a8721a" stroke-width="1.47" stroke-linejoin="round"/>
<polygon points="527.58,820.51 530.37,825.44 524.79,825.44" fill="none" stroke="#a8721a" stroke-width="1.47" stroke-linejoin="round"/>
<polygon points="534.65,823.76 537.44,828.69 531.86,828.69" fill="none" stroke="#a8721a" stroke-width="1.47" stroke-linejoin="round"/>
<polygon points="449.75,756.25 452.54,761.18 446.96,761.18" fill="none" stroke="#a8721a" stroke-width="1.47" stroke-linejoin="round"/>
<polygon points="456.82,761.67 459.62,766.59 454.03,766.59" fill="none" stroke="#a8721a" stroke-width="1.47" stroke-linejoin="round"/>
<polygon points="470.98,776.11 473.77,781.04 468.19,781.04" fill="none" stroke="#a8721a" stroke-width="1.47" stroke-linejoin="round"/>
<polygon points="478.05,781.52 480.84,786.45 475.26,786.45" fill="none" stroke="#a8721a" stroke-width="1.47" stroke-linejoin="round"/>
<rect x="390.50" y="583.09" width="5.30" height="5.30" fill="none" stroke="#d9541c" stroke-width="1.61"/>
<rect x="397.57" y="585.80" width="5.30" height="5.30" fill="none" stroke="#d9541c" stroke-width="1.61"/>
<rect x="404.65" y="589.41" width="5.30" height="5.30" fill="none" stroke="#d9541c" stroke-width="1.61"/>
<rect x="411.72" y="593.92" width="5.30" height="5.30" fill="none" stroke="#d9541c" stroke-width="1.61"/>
<rect x="418.80" y="600.24" width="5.30" height="5.30" fill="none" stroke="#d9541c" stroke-width="1.61"/>
<rect x="425.87" y="605.65" width="5.30" height="5.30" fill="none" stroke="#d9541c" stroke-width="1.61"/>
<rect x="432.95" y="611.97" width="5.30" height="5.30" fill="none" stroke="#d9541c" stroke-width="1.61"/>
<rect x="440.02" y="617.93" width="5.30" height="5.30" fill="none" stroke="#d9541c" stroke-width="1.61"/>
<rect x="447.10" y="623.70" width="5.30" height="5.30" fill="none" stroke="#d9541c" stroke-width="1.61"/>
<rect x="454.17" y="627.67" width="5.30" height="5.30" fill="none" stroke="#d9541c" stroke-width="1.61"/>
<rect x="461.25" y="632.37" width="5.30" height="5.30" fill="none" stroke="#d9541c" stroke-width="1.61"/>
<rect x="468.32" y="638.14" width="5.30" height="5.30" fill="none" stroke="#d9541c" stroke-width="1.61"/>
<rect x="475.40" y="642.66" width="5.30" height="5.30" fill="none" stroke="#d9541c" stroke-width="1.61"/>
<rect x="482.47" y="646.27" width="5.30" height="5.30" fill="none" stroke="#d9541c" stroke-width="1.61"/>
<rect x="489.55" y="650.42" width="5.30" height="5.30" fill="none" stroke="#d9541c" stroke-width="1.61"/>
<rect x="496.62" y="659.80" width="5.30" height="5.30" fill="none" stroke="#d9541c" stroke-width="1.61"/>
<rect x="503.70" y="666.12" width="5.30" height="5.30" fill="none" stroke="#d9541c" stroke-width="1.61"/>
<rect x="510.77" y="671.00" width="5.30" height="5.30" fill="none" stroke="#d9541c" stroke-width="1.61"/>
<rect x="517.85" y="679.66" width="5.30" height="5.30" fill="none" stroke="#d9541c" stroke-width="1.61"/>
<rect x="524.92" y="689.59" width="5.30" height="5.30" fill="none" stroke="#d9541c" stroke-width="1.61"/>
<rect x="532.00" y="720.27" width="5.30" height="5.30" fill="none" stroke="#d9541c" stroke-width="1.61"/>
<circle cx="393.15" cy="520.76" r="2.56" fill="none" stroke="#ff1010" stroke-width="1.66"/>
<circle cx="400.23" cy="523.10" r="2.56" fill="none" stroke="#ff1010" stroke-width="1.66"/>
<circle cx="407.30" cy="526.71" r="2.56" fill="none" stroke="#ff1010" stroke-width="1.66"/>
<circle cx="414.38" cy="531.59" r="2.56" fill="none" stroke="#ff1010" stroke-width="1.66"/>
<circle cx="421.45" cy="537.91" r="2.56" fill="none" stroke="#ff1010" stroke-width="1.66"/>
<circle cx="428.52" cy="547.29" r="2.56" fill="none" stroke="#ff1010" stroke-width="1.66"/>
<circle cx="435.60" cy="555.05" r="2.56" fill="none" stroke="#ff1010" stroke-width="1.66"/>
<circle cx="442.68" cy="562.27" r="2.56" fill="none" stroke="#ff1010" stroke-width="1.66"/>
<circle cx="449.75" cy="566.43" r="2.56" fill="none" stroke="#ff1010" stroke-width="1.66"/>
<circle cx="456.82" cy="570.04" r="2.56" fill="none" stroke="#ff1010" stroke-width="1.66"/>
<circle cx="463.90" cy="574.37" r="2.56" fill="none" stroke="#ff1010" stroke-width="1.66"/>
<circle cx="470.98" cy="579.06" r="2.56" fill="none" stroke="#ff1010" stroke-width="1.66"/>
<circle cx="478.05" cy="583.39" r="2.56" fill="none" stroke="#ff1010" stroke-width="1.66"/>
<circle cx="485.12" cy="588.09" r="2.56" fill="none" stroke="#ff1010" stroke-width="1.66"/>
<circle cx="492.20" cy="592.96" r="2.56" fill="none" stroke="#ff1010" stroke-width="1.66"/>
<circle cx="499.27" cy="598.38" r="2.56" fill="none" stroke="#ff1010" stroke-width="1.66"/>
<circle cx="506.35" cy="603.79" r="2.56" fill="none" stroke="#ff1010" stroke-width="1.66"/>
<circle cx="513.42" cy="609.75" r="2.56" fill="none" stroke="#ff1010" stroke-width="1.66"/>
<circle cx="520.50" cy="615.52" r="2.56" fill="none" stroke="#ff1010" stroke-width="1.66"/>
<circle cx="527.58" cy="624.19" r="2.56" fill="none" stroke="#ff1010" stroke-width="1.66"/>
<polygon points="734.35,564.55 737.14,569.48 731.56,569.48" fill="none" stroke="#a8721a" stroke-width="1.47" stroke-linejoin="round"/>
<polygon points="741.43,564.55 744.22,569.48 738.64,569.48" fill="none" stroke="#a8721a" stroke-width="1.47" stroke-linejoin="round"/>
<polygon points="748.50,564.55 751.29,569.48 745.71,569.48" fill="none" stroke="#a8721a" stroke-width="1.47" stroke-linejoin="round"/>
<polygon points="755.58,564.55 758.37,569.48 752.79,569.48" fill="none" stroke="#a8721a" stroke-width="1.47" stroke-linejoin="round"/>
<polygon points="762.65,564.55 765.44,569.48 759.86,569.48" fill="none" stroke="#a8721a" stroke-width="1.47" stroke-linejoin="round"/>
<polygon points="769.73,564.55 772.51,569.48 766.94,569.48" fill="none" stroke="#a8721a" stroke-width="1.47" stroke-linejoin="round"/>
<polygon points="776.80,564.55 779.59,569.48 774.01,569.48" fill="none" stroke="#a8721a" stroke-width="1.47" stroke-linejoin="round"/>
<polygon points="783.88,564.55 786.66,569.48 781.09,569.48" fill="none" stroke="#a8721a" stroke-width="1.47" stroke-linejoin="round"/>
<polygon points="790.95,564.55 793.74,569.48 788.16,569.48" fill="none" stroke="#a8721a" stroke-width="1.47" stroke-linejoin="round"/>
<polygon points="798.03,564.55 800.82,569.48 795.24,569.48" fill="none" stroke="#a8721a" stroke-width="1.47" stroke-linejoin="round"/>
<polygon points="805.10,564.55 807.89,569.48 802.31,569.48" fill="none" stroke="#a8721a" stroke-width="1.47" stroke-linejoin="round"/>
<polygon points="812.17,564.55 814.96,569.48 809.38,569.48" fill="none" stroke="#a8721a" stroke-width="1.47" stroke-linejoin="round"/>
<polygon points="819.25,564.55 822.04,569.48 816.46,569.48" fill="none" stroke="#a8721a" stroke-width="1.47" stroke-linejoin="round"/>
<polygon points="677.75,752.17 680.54,757.10 674.96,757.10" fill="none" stroke="#a8721a" stroke-width="1.47" stroke-linejoin="round"/>
<polygon points="684.83,750.37 687.62,755.30 682.04,755.30" fill="none" stroke="#a8721a" stroke-width="1.47" stroke-linejoin="round"/>
<polygon points="691.90,748.02 694.69,752.95 689.11,752.95" fill="none" stroke="#a8721a" stroke-width="1.47" stroke-linejoin="round"/>
<polygon points="698.98,746.76 701.76,751.68 696.19,751.68" fill="none" stroke="#a8721a" stroke-width="1.47" stroke-linejoin="round"/>
<polygon points="706.05,743.15 708.84,748.07 703.26,748.07" fill="none" stroke="#a8721a" stroke-width="1.47" stroke-linejoin="round"/>
<polygon points="713.12,735.93 715.91,740.85 710.34,740.85" fill="none" stroke="#a8721a" stroke-width="1.47" stroke-linejoin="round"/>
<polygon points="720.20,728.71 722.99,733.63 717.41,733.63" fill="none" stroke="#a8721a" stroke-width="1.47" stroke-linejoin="round"/>
<polygon points="727.27,723.83 730.06,728.76 724.49,728.76" fill="none" stroke="#a8721a" stroke-width="1.47" stroke-linejoin="round"/>
<polygon points="734.35,719.68 737.14,724.61 731.56,724.61" fill="none" stroke="#a8721a" stroke-width="1.47" stroke-linejoin="round"/>
<polygon points="741.43,715.53 744.22,720.46 738.64,720.46" fill="none" stroke="#a8721a" stroke-width="1.47" stroke-linejoin="round"/>
<polygon points="748.50,705.78 751.29,710.71 745.71,710.71" fill="none" stroke="#a8721a" stroke-width="1.47" stroke-linejoin="round"/>
<polygon points="755.58,696.03 758.37,700.96 752.79,700.96" fill="none" stroke="#a8721a" stroke-width="1.47" stroke-linejoin="round"/>
<polygon points="762.65,696.39 765.44,701.32 759.86,701.32" fill="none" stroke="#a8721a" stroke-width="1.47" stroke-linejoin="round"/>
<polygon points="769.73,681.95 772.51,686.88 766.94,686.88" fill="none" stroke="#a8721a" stroke-width="1.47" stroke-linejoin="round"/>
<polygon points="776.80,673.47 779.59,678.40 774.01,678.40" fill="none" stroke="#a8721a" stroke-width="1.47" stroke-linejoin="round"/>
<polygon points="783.88,668.96 786.66,673.89 781.09,673.89" fill="none" stroke="#a8721a" stroke-width="1.47" stroke-linejoin="round"/>
<polygon points="790.95,651.27 793.74,656.20 788.16,656.20" fill="none" stroke="#a8721a" stroke-width="1.47" stroke-linejoin="round"/>
<rect x="675.10" y="841.75" width="5.30" height="5.30" fill="none" stroke="#d9541c" stroke-width="1.61"/>
<rect x="682.17" y="839.95" width="5.30" height="5.30" fill="none" stroke="#d9541c" stroke-width="1.61"/>
<rect x="689.25" y="837.78" width="5.30" height="5.30" fill="none" stroke="#d9541c" stroke-width="1.61"/>
<rect x="696.32" y="836.34" width="5.30" height="5.30" fill="none" stroke="#d9541c" stroke-width="1.61"/>
<rect x="703.40" y="835.44" width="5.30" height="5.30" fill="none" stroke="#d9541c" stroke-width="1.61"/>
<rect x="710.47" y="834.53" width="5.30" height="5.30" fill="none" stroke="#d9541c" stroke-width="1.61"/>
<rect x="717.55" y="833.09" width="5.30" height="5.30" fill="none" stroke="#d9541c" stroke-width="1.61"/>
<rect x="724.62" y="831.28" width="5.30" height="5.30" fill="none" stroke="#d9541c" stroke-width="1.61"/>
<rect x="731.70" y="828.76" width="5.30" height="5.30" fill="none" stroke="#d9541c" stroke-width="1.61"/>
<rect x="738.77" y="826.95" width="5.30" height="5.30" fill="none" stroke="#d9541c" stroke-width="1.61"/>
<rect x="745.85" y="822.80" width="5.30" height="5.30" fill="none" stroke="#d9541c" stroke-width="1.61"/>
<rect x="752.92" y="818.65" width="5.30" height="5.30" fill="none" stroke="#d9541c" stroke-width="1.61"/>
<rect x="760.00" y="814.68" width="5.30" height="5.30" fill="none" stroke="#d9541c" stroke-width="1.61"/>
<rect x="767.07" y="810.71" width="5.30" height="5.30" fill="none" stroke="#d9541c" stroke-width="1.61"/>
<rect x="774.15" y="806.56" width="5.30" height="5.30" fill="none" stroke="#d9541c" stroke-width="1.61"/>
<rect x="781.22" y="801.14" width="5.30" height="5.30" fill="none" stroke="#d9541c" stroke-width="1.61"/>
<rect x="788.30" y="795.72" width="5.30" height="5.30" fill="none" stroke="#d9541c" stroke-width="1.61"/>
<rect x="795.37" y="790.85" width="5.30" height="5.30" fill="none" stroke="#d9541c" stroke-width="1.61"/>
<rect x="802.45" y="785.44" width="5.30" height="5.30" fill="none" stroke="#d9541c" stroke-width="1.61"/>
<rect x="809.52" y="776.77" width="5.30" height="5.30" fill="none" stroke="#d9541c" stroke-width="1.61"/>
<rect x="816.60" y="762.69" width="5.30" height="5.30" fill="none" stroke="#d9541c" stroke-width="1.61"/>
<circle cx="677.75" cy="883.39" r="2.56" fill="none" stroke="#ff1010" stroke-width="1.66"/>
<circle cx="684.83" cy="881.23" r="2.56" fill="none" stroke="#ff1010" stroke-width="1.66"/>
<circle cx="691.90" cy="879.42" r="2.56" fill="none" stroke="#ff1010" stroke-width="1.66"/>
<circle cx="698.98" cy="877.26" r="2.56" fill="none" stroke="#ff1010" stroke-width="1.66"/>
<circle cx="706.05" cy="877.98" r="2.56" fill="none" stroke="#ff1010" stroke-width="1.66"/>
<circle cx="713.12" cy="874.01" r="2.56" fill="none" stroke="#ff1010" stroke-width="1.66"/>
<circle cx="720.20" cy="870.76" r="2.56" fill="none" stroke="#ff1010" stroke-width="1.66"/>
<circle cx="727.27" cy="868.59" r="2.56" fill="none" stroke="#ff1010" stroke-width="1.66"/>
<circle cx="734.35" cy="866.43" r="2.56" fill="none" stroke="#ff1010" stroke-width="1.66"/>
<circle cx="741.43" cy="864.08" r="2.56" fill="none" stroke="#ff1010" stroke-width="1.66"/>
<circle cx="748.50" cy="861.73" r="2.56" fill="none" stroke="#ff1010" stroke-width="1.66"/>
<circle cx="755.58" cy="858.66" r="2.56" fill="none" stroke="#ff1010" stroke-width="1.66"/>
<circle cx="762.65" cy="855.60" r="2.56" fill="none" stroke="#ff1010" stroke-width="1.66"/>
<circle cx="769.73" cy="851.99" r="2.56" fill="none" stroke="#ff1010" stroke-width="1.66"/>
<circle cx="776.80" cy="848.74" r="2.56" fill="none" stroke="#ff1010" stroke-width="1.66"/>
<circle cx="783.88" cy="844.77" r="2.56" fill="none" stroke="#ff1010" stroke-width="1.66"/>
<circle cx="790.95" cy="840.61" r="2.56" fill="none" stroke="#ff1010" stroke-width="1.66"/>
<circle cx="798.03" cy="835.74" r="2.56" fill="none" stroke="#ff1010" stroke-width="1.66"/>
<circle cx="805.10" cy="830.69" r="2.56" fill="none" stroke="#ff1010" stroke-width="1.66"/>
<circle cx="812.17" cy="824.37" r="2.56" fill="none" stroke="#ff1010" stroke-width="1.66"/>
<text x="33.40" y="20.00" class="pl" text-anchor="end">(a)</text>
<text x="314.40" y="20.00" class="pl" text-anchor="end">(b)</text>
<text x="599.20" y="20.00" class="pl" text-anchor="end">(c)</text>
<text x="33.40" y="496.40" class="pl" text-anchor="end">(d)</text>
<text x="314.40" y="496.40" class="pl" text-anchor="end">(e)</text>
<text x="599.20" y="496.40" class="pl" text-anchor="end">(f)</text>
<text transform="translate(21.80,232.35) rotate(-90)" x="0" y="0" class="at" style="font-size:24px" text-anchor="middle"><tspan font-style="italic">a</tspan> / Å</text>
<text transform="translate(306.10,232.35) rotate(-90)" x="0" y="0" class="at" style="font-size:24px" text-anchor="middle"><tspan font-style="italic">b</tspan> / Å</text>
<text transform="translate(590.70,232.35) rotate(-90)" x="0" y="0" class="at" style="font-size:24px" text-anchor="middle"><tspan font-style="italic">c</tspan> / Å</text>
<text transform="translate(21.80,710.05) rotate(-90)" x="0" y="0" class="at" style="font-size:24px" text-anchor="middle"><tspan font-style="italic">α</tspan> / degree</text>
<text transform="translate(306.10,710.05) rotate(-90)" x="0" y="0" class="at" style="font-size:24px" text-anchor="middle"><tspan font-style="italic">β</tspan> / degree</text>
<text transform="translate(590.70,710.05) rotate(-90)" x="0" y="0" class="at" style="font-size:24px" text-anchor="middle"><tspan font-style="italic">γ</tspan> / degree</text>
<text x="94.70" y="973.70" class="tl" text-anchor="middle">0</text>
<text x="165.45" y="973.70" class="tl" text-anchor="middle">500</text>
<text x="236.20" y="973.70" class="tl" text-anchor="middle">1000</text>
<text x="180.30" y="1010.4" class="at" text-anchor="middle">Temperature / K</text>
<text x="379.00" y="973.70" class="tl" text-anchor="middle">0</text>
<text x="449.75" y="973.70" class="tl" text-anchor="middle">500</text>
<text x="520.50" y="973.70" class="tl" text-anchor="middle">1000</text>
<text x="464.60" y="1010.4" class="at" text-anchor="middle">Temperature / K</text>
<text x="663.60" y="973.70" class="tl" text-anchor="middle">0</text>
<text x="734.35" y="973.70" class="tl" text-anchor="middle">500</text>
<text x="805.10" y="973.70" class="tl" text-anchor="middle">1000</text>
<text x="749.20" y="1010.4" class="at" text-anchor="middle">Temperature / K</text>
<text x="909" y="39.5" class="at" font-style="italic" text-anchor="middle">x</text>
<circle cx="886.30" cy="60.60" r="7.70" fill="none" stroke="#ff1010" stroke-width="2.5"/>
<text x="910" y="68.90" class="tl">1.0</text>
<rect x="878.60" y="80.76" width="15.40" height="15.40" fill="none" stroke="#d9541c" stroke-width="2.5"/>
<text x="910" y="96.76" class="tl">0.9</text>
<polygon points="886.30,106.52 894.80,121.22 877.80,121.22" fill="none" stroke="#a8721a" stroke-width="2.5" stroke-linejoin="miter"/>
<text x="910" y="124.62" class="tl">0.8</text>
<polygon points="886.30,153.98 894.80,139.28 877.80,139.28" fill="none" stroke="#a8a81c" stroke-width="2.5" stroke-linejoin="miter"/>
<text x="910" y="152.48" class="tl">0.7</text>
<polygon points="876.50,172.04 891.20,180.54 891.20,163.54" fill="none" stroke="#52a01a" stroke-width="2.5" stroke-linejoin="miter"/>
<text x="910" y="180.34" class="tl">0.6</text>
<polygon points="896.10,199.90 881.40,208.40 881.40,191.40" fill="none" stroke="#14a058" stroke-width="2.5" stroke-linejoin="miter"/>
<text x="910" y="208.20" class="tl">0.5</text>
<polygon points="874.50,227.76 886.30,222.16 898.10,227.76 886.30,233.36" fill="none" stroke="#10a0a0" stroke-width="2.5" stroke-linejoin="miter"/>
<text x="910" y="236.06" class="tl">0.4</text>
<polygon points="886.30,244.02 891.90,255.62 886.30,267.22 880.70,255.62" fill="none" stroke="#2890d4" stroke-width="2.5" stroke-linejoin="miter"/>
<text x="910" y="263.92" class="tl">0.3</text>
<polygon points="886.30,272.48 897.30,283.48 886.30,294.48 875.30,283.48" fill="none" stroke="#1040ff" stroke-width="2.5" stroke-linejoin="miter"/>
<text x="910" y="291.78" class="tl">0.2</text>
<polygon points="877.90,302.94 894.70,319.74 894.70,302.94 877.90,319.74" fill="none" stroke="#7018e0" stroke-width="2.5" stroke-linejoin="miter"/>
<text x="910" y="319.64" class="tl">0.1</text>
<polygon points="877.50,330.80 895.10,330.80 877.50,347.60 895.10,347.60" fill="none" stroke="#ff10e0" stroke-width="2.5" stroke-linejoin="miter"/>
<text x="910" y="347.50" class="tl">0.0</text>
</svg>
</body></html>
